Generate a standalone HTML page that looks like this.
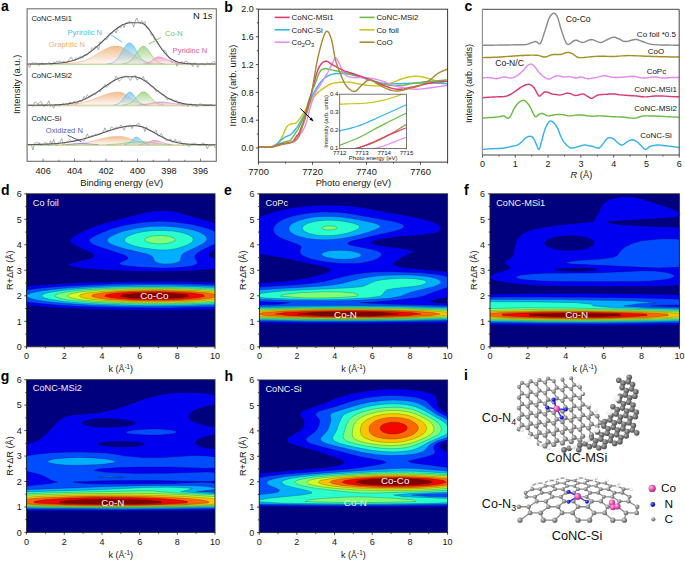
<!DOCTYPE html><html><head><meta charset="utf-8"><style>html,body{margin:0;padding:0;background:#fff;overflow:hidden}svg{display:block}</style></head><body>
<svg width="685" height="561" viewBox="0 0 685 561" font-family='"Liberation Sans", sans-serif'>
<rect width="685" height="561" fill="#fff"/>
<defs>
<linearGradient id="gor" x1="0" y1="0" x2="0" y2="1"><stop offset="0" stop-color="#f2b98a" stop-opacity="0.95"/><stop offset="1" stop-color="#f2b98a" stop-opacity="0.08"/></linearGradient>
<linearGradient id="gbl" x1="0" y1="0" x2="0" y2="1"><stop offset="0" stop-color="#7fcdf0" stop-opacity="0.95"/><stop offset="1" stop-color="#7fcdf0" stop-opacity="0.08"/></linearGradient>
<linearGradient id="ggr" x1="0" y1="0" x2="0" y2="1"><stop offset="0" stop-color="#a9d58c" stop-opacity="0.95"/><stop offset="1" stop-color="#a9d58c" stop-opacity="0.08"/></linearGradient>
<linearGradient id="gpk" x1="0" y1="0" x2="0" y2="1"><stop offset="0" stop-color="#eea0c8" stop-opacity="0.95"/><stop offset="1" stop-color="#eea0c8" stop-opacity="0.08"/></linearGradient>
<linearGradient id="gpu" x1="0" y1="0" x2="0" y2="1"><stop offset="0" stop-color="#a0a0e0" stop-opacity="0.95"/><stop offset="1" stop-color="#a0a0e0" stop-opacity="0.08"/></linearGradient>
</defs>
<line x1="27.7" y1="64.6" x2="215.7" y2="64.6" stroke="#a9d58c" stroke-width="0.9"/>
<line x1="27.7" y1="63.8" x2="215.7" y2="63.8" stroke="#f3c6a0" stroke-width="0.7"/>
<path d="M62.2 64 L62.2 63.85 L62.7 63.83 L63.2 63.82 L63.7 63.8 L64.2 63.78 L64.7 63.76 L65.2 63.74 L65.7 63.72 L66.2 63.7 L66.7 63.67 L67.2 63.64 L67.7 63.62 L68.2 63.58 L68.7 63.55 L69.2 63.51 L69.7 63.48 L70.2 63.43 L70.7 63.39 L71.2 63.34 L71.7 63.29 L72.2 63.24 L72.7 63.19 L73.2 63.13 L73.7 63.06 L74.2 63 L74.7 62.92 L75.2 62.85 L75.7 62.77 L76.2 62.69 L76.7 62.6 L77.2 62.51 L77.7 62.41 L78.2 62.31 L78.7 62.2 L79.2 62.09 L79.7 61.97 L80.2 61.84 L80.7 61.71 L81.2 61.58 L81.7 61.44 L82.2 61.29 L82.7 61.14 L83.2 60.98 L83.7 60.81 L84.2 60.64 L84.7 60.46 L85.2 60.27 L85.7 60.08 L86.2 59.88 L86.7 59.68 L87.2 59.47 L87.7 59.25 L88.2 59.02 L88.7 58.79 L89.2 58.56 L89.7 58.31 L90.2 58.06 L90.7 57.81 L91.2 57.55 L91.7 57.28 L92.2 57.01 L92.7 56.73 L93.2 56.45 L93.7 56.17 L94.2 55.88 L94.7 55.58 L95.2 55.29 L95.7 54.99 L96.2 54.68 L96.7 54.38 L97.2 54.07 L97.7 53.76 L98.2 53.45 L98.7 53.14 L99.2 52.83 L99.7 52.52 L100.2 52.21 L100.7 51.91 L101.2 51.6 L101.7 51.3 L102.2 51 L102.7 50.71 L103.2 50.42 L103.7 50.13 L104.2 49.85 L104.7 49.58 L105.2 49.31 L105.7 49.05 L106.2 48.8 L106.7 48.55 L107.2 48.32 L107.7 48.09 L108.2 47.88 L108.7 47.67 L109.2 47.48 L109.7 47.29 L110.2 47.12 L110.7 46.96 L111.2 46.82 L111.7 46.68 L112.2 46.56 L112.7 46.45 L113.2 46.36 L113.7 46.28 L114.2 46.22 L114.7 46.17 L115.2 46.13 L115.7 46.11 L116.2 46.1 L116.7 46.11 L117.2 46.14 L117.7 46.19 L118.2 46.26 L118.7 46.35 L119.2 46.45 L119.7 46.58 L120.2 46.73 L120.7 46.89 L121.2 47.07 L121.7 47.26 L122.2 47.48 L122.7 47.7 L123.2 47.95 L123.7 48.2 L124.2 48.47 L124.7 48.76 L125.2 49.05 L125.7 49.35 L126.2 49.67 L126.7 49.99 L127.2 50.32 L127.7 50.66 L128.2 51 L128.7 51.35 L129.2 51.7 L129.7 52.06 L130.2 52.42 L130.7 52.78 L131.2 53.14 L131.7 53.5 L132.2 53.87 L132.7 54.23 L133.2 54.58 L133.7 54.94 L134.2 55.29 L134.7 55.63 L135.2 55.97 L135.7 56.31 L136.2 56.64 L136.7 56.96 L137.2 57.28 L137.7 57.59 L138.2 57.89 L138.7 58.19 L139.2 58.48 L139.7 58.75 L140.2 59.02 L140.7 59.28 L141.2 59.54 L141.7 59.78 L142.2 60.01 L142.7 60.24 L143.2 60.46 L143.7 60.67 L144.2 60.87 L144.7 61.06 L145.2 61.24 L145.7 61.41 L146.2 61.58 L146.7 61.73 L147.2 61.88 L147.7 62.03 L148.2 62.16 L148.7 62.29 L149.2 62.41 L149.7 62.52 L150.2 62.63 L150.7 62.73 L151.2 62.82 L151.7 62.91 L152.2 63 L152.7 63.07 L153.2 63.15 L153.7 63.21 L154.2 63.28 L154.7 63.34 L155.2 63.39 L155.7 63.44 L156.2 63.49 L156.7 63.53 L157.2 63.57 L157.7 63.61 L158.2 63.64 L158.7 63.68 L159.2 63.71 L159.7 63.73 L160.2 63.76 L160.7 63.78 L161.2 63.8 L161.7 63.82 L162.2 63.84 L162.2 64Z" fill="url(#gor)" stroke="none" stroke-width="1"/>
<path d="M62.2 63.85 L62.7 63.83 L63.2 63.82 L63.7 63.8 L64.2 63.78 L64.7 63.76 L65.2 63.74 L65.7 63.72 L66.2 63.7 L66.7 63.67 L67.2 63.64 L67.7 63.62 L68.2 63.58 L68.7 63.55 L69.2 63.51 L69.7 63.48 L70.2 63.43 L70.7 63.39 L71.2 63.34 L71.7 63.29 L72.2 63.24 L72.7 63.19 L73.2 63.13 L73.7 63.06 L74.2 63 L74.7 62.92 L75.2 62.85 L75.7 62.77 L76.2 62.69 L76.7 62.6 L77.2 62.51 L77.7 62.41 L78.2 62.31 L78.7 62.2 L79.2 62.09 L79.7 61.97 L80.2 61.84 L80.7 61.71 L81.2 61.58 L81.7 61.44 L82.2 61.29 L82.7 61.14 L83.2 60.98 L83.7 60.81 L84.2 60.64 L84.7 60.46 L85.2 60.27 L85.7 60.08 L86.2 59.88 L86.7 59.68 L87.2 59.47 L87.7 59.25 L88.2 59.02 L88.7 58.79 L89.2 58.56 L89.7 58.31 L90.2 58.06 L90.7 57.81 L91.2 57.55 L91.7 57.28 L92.2 57.01 L92.7 56.73 L93.2 56.45 L93.7 56.17 L94.2 55.88 L94.7 55.58 L95.2 55.29 L95.7 54.99 L96.2 54.68 L96.7 54.38 L97.2 54.07 L97.7 53.76 L98.2 53.45 L98.7 53.14 L99.2 52.83 L99.7 52.52 L100.2 52.21 L100.7 51.91 L101.2 51.6 L101.7 51.3 L102.2 51 L102.7 50.71 L103.2 50.42 L103.7 50.13 L104.2 49.85 L104.7 49.58 L105.2 49.31 L105.7 49.05 L106.2 48.8 L106.7 48.55 L107.2 48.32 L107.7 48.09 L108.2 47.88 L108.7 47.67 L109.2 47.48 L109.7 47.29 L110.2 47.12 L110.7 46.96 L111.2 46.82 L111.7 46.68 L112.2 46.56 L112.7 46.45 L113.2 46.36 L113.7 46.28 L114.2 46.22 L114.7 46.17 L115.2 46.13 L115.7 46.11 L116.2 46.1 L116.7 46.11 L117.2 46.14 L117.7 46.19 L118.2 46.26 L118.7 46.35 L119.2 46.45 L119.7 46.58 L120.2 46.73 L120.7 46.89 L121.2 47.07 L121.7 47.26 L122.2 47.48 L122.7 47.7 L123.2 47.95 L123.7 48.2 L124.2 48.47 L124.7 48.76 L125.2 49.05 L125.7 49.35 L126.2 49.67 L126.7 49.99 L127.2 50.32 L127.7 50.66 L128.2 51 L128.7 51.35 L129.2 51.7 L129.7 52.06 L130.2 52.42 L130.7 52.78 L131.2 53.14 L131.7 53.5 L132.2 53.87 L132.7 54.23 L133.2 54.58 L133.7 54.94 L134.2 55.29 L134.7 55.63 L135.2 55.97 L135.7 56.31 L136.2 56.64 L136.7 56.96 L137.2 57.28 L137.7 57.59 L138.2 57.89 L138.7 58.19 L139.2 58.48 L139.7 58.75 L140.2 59.02 L140.7 59.28 L141.2 59.54 L141.7 59.78 L142.2 60.01 L142.7 60.24 L143.2 60.46 L143.7 60.67 L144.2 60.87 L144.7 61.06 L145.2 61.24 L145.7 61.41 L146.2 61.58 L146.7 61.73 L147.2 61.88 L147.7 62.03 L148.2 62.16 L148.7 62.29 L149.2 62.41 L149.7 62.52 L150.2 62.63 L150.7 62.73 L151.2 62.82 L151.7 62.91 L152.2 63 L152.7 63.07 L153.2 63.15 L153.7 63.21 L154.2 63.28 L154.7 63.34 L155.2 63.39 L155.7 63.44 L156.2 63.49 L156.7 63.53 L157.2 63.57 L157.7 63.61 L158.2 63.64 L158.7 63.68 L159.2 63.71 L159.7 63.73 L160.2 63.76 L160.7 63.78 L161.2 63.8 L161.7 63.82 L162.2 63.84" fill="none" stroke="#f0b080" stroke-width="0.7"/>
<path d="M107.2 64 L107.2 63.83 L107.7 63.79 L108.2 63.74 L108.7 63.68 L109.2 63.61 L109.7 63.52 L110.2 63.42 L110.7 63.31 L111.2 63.17 L111.7 63.01 L112.2 62.83 L112.7 62.62 L113.2 62.38 L113.7 62.11 L114.2 61.8 L114.7 61.46 L115.2 61.08 L115.7 60.65 L116.2 60.19 L116.7 59.68 L117.2 59.12 L117.7 58.52 L118.2 57.87 L118.7 57.18 L119.2 56.45 L119.7 55.68 L120.2 54.88 L120.7 54.05 L121.2 53.19 L121.7 52.32 L122.2 51.44 L122.7 50.56 L123.2 49.68 L123.7 48.82 L124.2 47.98 L124.7 47.18 L125.2 46.43 L125.7 45.73 L126.2 45.09 L126.7 44.53 L127.2 44.04 L127.7 43.65 L128.2 43.34 L128.7 43.13 L129.2 43.02 L129.7 43.01 L130.2 43.1 L130.7 43.29 L131.2 43.58 L131.7 43.96 L132.2 44.43 L132.7 44.97 L133.2 45.6 L133.7 46.29 L134.2 47.03 L134.7 47.82 L135.2 48.65 L135.7 49.51 L136.2 50.38 L136.7 51.26 L137.2 52.15 L137.7 53.02 L138.2 53.88 L138.7 54.72 L139.2 55.53 L139.7 56.3 L140.2 57.04 L140.7 57.74 L141.2 58.39 L141.7 59 L142.2 59.57 L142.7 60.09 L143.2 60.56 L143.7 61 L144.2 61.39 L144.7 61.74 L145.2 62.05 L145.7 62.33 L146.2 62.57 L146.7 62.79 L147.2 62.98 L147.7 63.14 L148.2 63.28 L148.7 63.4 L149.2 63.5 L149.7 63.59 L150.2 63.66 L150.7 63.72 L151.2 63.78 L151.7 63.82 L151.7 64Z" fill="url(#gbl)" stroke="none" stroke-width="1"/>
<path d="M107.2 63.83 L107.7 63.79 L108.2 63.74 L108.7 63.68 L109.2 63.61 L109.7 63.52 L110.2 63.42 L110.7 63.31 L111.2 63.17 L111.7 63.01 L112.2 62.83 L112.7 62.62 L113.2 62.38 L113.7 62.11 L114.2 61.8 L114.7 61.46 L115.2 61.08 L115.7 60.65 L116.2 60.19 L116.7 59.68 L117.2 59.12 L117.7 58.52 L118.2 57.87 L118.7 57.18 L119.2 56.45 L119.7 55.68 L120.2 54.88 L120.7 54.05 L121.2 53.19 L121.7 52.32 L122.2 51.44 L122.7 50.56 L123.2 49.68 L123.7 48.82 L124.2 47.98 L124.7 47.18 L125.2 46.43 L125.7 45.73 L126.2 45.09 L126.7 44.53 L127.2 44.04 L127.7 43.65 L128.2 43.34 L128.7 43.13 L129.2 43.02 L129.7 43.01 L130.2 43.1 L130.7 43.29 L131.2 43.58 L131.7 43.96 L132.2 44.43 L132.7 44.97 L133.2 45.6 L133.7 46.29 L134.2 47.03 L134.7 47.82 L135.2 48.65 L135.7 49.51 L136.2 50.38 L136.7 51.26 L137.2 52.15 L137.7 53.02 L138.2 53.88 L138.7 54.72 L139.2 55.53 L139.7 56.3 L140.2 57.04 L140.7 57.74 L141.2 58.39 L141.7 59 L142.2 59.57 L142.7 60.09 L143.2 60.56 L143.7 61 L144.2 61.39 L144.7 61.74 L145.2 62.05 L145.7 62.33 L146.2 62.57 L146.7 62.79 L147.2 62.98 L147.7 63.14 L148.2 63.28 L148.7 63.4 L149.2 63.5 L149.7 63.59 L150.2 63.66 L150.7 63.72 L151.2 63.78 L151.7 63.82" fill="none" stroke="#55bfea" stroke-width="0.7"/>
<path d="M122.2 64 L122.2 63.82 L122.7 63.78 L123.2 63.72 L123.7 63.66 L124.2 63.59 L124.7 63.5 L125.2 63.4 L125.7 63.28 L126.2 63.14 L126.7 62.97 L127.2 62.78 L127.7 62.57 L128.2 62.32 L128.7 62.05 L129.2 61.74 L129.7 61.39 L130.2 61.01 L130.7 60.59 L131.2 60.12 L131.7 59.62 L132.2 59.08 L132.7 58.5 L133.2 57.88 L133.7 57.22 L134.2 56.54 L134.7 55.82 L135.2 55.09 L135.7 54.33 L136.2 53.57 L136.7 52.8 L137.2 52.04 L137.7 51.29 L138.2 50.57 L138.7 49.87 L139.2 49.22 L139.7 48.61 L140.2 48.06 L140.7 47.57 L141.2 47.15 L141.7 46.81 L142.2 46.56 L142.7 46.39 L143.2 46.31 L143.7 46.32 L144.2 46.42 L144.7 46.6 L145.2 46.88 L145.7 47.23 L146.2 47.66 L146.7 48.16 L147.2 48.72 L147.7 49.34 L148.2 50.01 L148.7 50.71 L149.2 51.44 L149.7 52.19 L150.2 52.96 L150.7 53.72 L151.2 54.49 L151.7 55.24 L152.2 55.97 L152.7 56.68 L153.2 57.36 L153.7 58 L154.2 58.62 L154.7 59.19 L155.2 59.73 L155.7 60.22 L156.2 60.67 L156.7 61.09 L157.2 61.46 L157.7 61.8 L158.2 62.11 L158.7 62.38 L159.2 62.61 L159.7 62.82 L160.2 63.01 L160.7 63.17 L161.2 63.3 L161.7 63.42 L162.2 63.52 L162.7 63.6 L163.2 63.68 L163.7 63.74 L164.2 63.79 L164.7 63.83 L164.7 64Z" fill="url(#ggr)" stroke="none" stroke-width="1"/>
<path d="M122.2 63.82 L122.7 63.78 L123.2 63.72 L123.7 63.66 L124.2 63.59 L124.7 63.5 L125.2 63.4 L125.7 63.28 L126.2 63.14 L126.7 62.97 L127.2 62.78 L127.7 62.57 L128.2 62.32 L128.7 62.05 L129.2 61.74 L129.7 61.39 L130.2 61.01 L130.7 60.59 L131.2 60.12 L131.7 59.62 L132.2 59.08 L132.7 58.5 L133.2 57.88 L133.7 57.22 L134.2 56.54 L134.7 55.82 L135.2 55.09 L135.7 54.33 L136.2 53.57 L136.7 52.8 L137.2 52.04 L137.7 51.29 L138.2 50.57 L138.7 49.87 L139.2 49.22 L139.7 48.61 L140.2 48.06 L140.7 47.57 L141.2 47.15 L141.7 46.81 L142.2 46.56 L142.7 46.39 L143.2 46.31 L143.7 46.32 L144.2 46.42 L144.7 46.6 L145.2 46.88 L145.7 47.23 L146.2 47.66 L146.7 48.16 L147.2 48.72 L147.7 49.34 L148.2 50.01 L148.7 50.71 L149.2 51.44 L149.7 52.19 L150.2 52.96 L150.7 53.72 L151.2 54.49 L151.7 55.24 L152.2 55.97 L152.7 56.68 L153.2 57.36 L153.7 58 L154.2 58.62 L154.7 59.19 L155.2 59.73 L155.7 60.22 L156.2 60.67 L156.7 61.09 L157.2 61.46 L157.7 61.8 L158.2 62.11 L158.7 62.38 L159.2 62.61 L159.7 62.82 L160.2 63.01 L160.7 63.17 L161.2 63.3 L161.7 63.42 L162.2 63.52 L162.7 63.6 L163.2 63.68 L163.7 63.74 L164.2 63.79 L164.7 63.83" fill="none" stroke="#8ac46a" stroke-width="0.7"/>
<path d="M143.2 64 L143.2 63.84 L143.7 63.79 L144.2 63.73 L144.7 63.67 L145.2 63.58 L145.7 63.49 L146.2 63.37 L146.7 63.23 L147.2 63.07 L147.7 62.89 L148.2 62.68 L148.7 62.45 L149.2 62.19 L149.7 61.91 L150.2 61.6 L150.7 61.27 L151.2 60.91 L151.7 60.54 L152.2 60.16 L152.7 59.77 L153.2 59.38 L153.7 59 L154.2 58.62 L154.7 58.27 L155.2 57.94 L155.7 57.65 L156.2 57.4 L156.7 57.19 L157.2 57.04 L157.7 56.94 L158.2 56.9 L158.7 56.91 L159.2 56.94 L159.7 56.99 L160.2 57.06 L160.7 57.15 L161.2 57.26 L161.7 57.39 L162.2 57.54 L162.7 57.7 L163.2 57.88 L163.7 58.07 L164.2 58.27 L164.7 58.49 L165.2 58.71 L165.7 58.94 L166.2 59.17 L166.7 59.41 L167.2 59.65 L167.7 59.88 L168.2 60.12 L168.7 60.36 L169.2 60.59 L169.7 60.82 L170.2 61.04 L170.7 61.25 L171.2 61.46 L171.7 61.66 L172.2 61.85 L172.7 62.03 L173.2 62.2 L173.7 62.36 L174.2 62.51 L174.7 62.65 L175.2 62.78 L175.7 62.9 L176.2 63.02 L176.7 63.12 L177.2 63.22 L177.7 63.3 L178.2 63.38 L178.7 63.46 L179.2 63.52 L179.7 63.58 L180.2 63.63 L180.7 63.68 L181.2 63.72 L181.7 63.76 L182.2 63.79 L182.7 63.82 L183.2 63.85 L183.2 64Z" fill="url(#gpk)" stroke="none" stroke-width="1"/>
<path d="M143.2 63.84 L143.7 63.79 L144.2 63.73 L144.7 63.67 L145.2 63.58 L145.7 63.49 L146.2 63.37 L146.7 63.23 L147.2 63.07 L147.7 62.89 L148.2 62.68 L148.7 62.45 L149.2 62.19 L149.7 61.91 L150.2 61.6 L150.7 61.27 L151.2 60.91 L151.7 60.54 L152.2 60.16 L152.7 59.77 L153.2 59.38 L153.7 59 L154.2 58.62 L154.7 58.27 L155.2 57.94 L155.7 57.65 L156.2 57.4 L156.7 57.19 L157.2 57.04 L157.7 56.94 L158.2 56.9 L158.7 56.91 L159.2 56.94 L159.7 56.99 L160.2 57.06 L160.7 57.15 L161.2 57.26 L161.7 57.39 L162.2 57.54 L162.7 57.7 L163.2 57.88 L163.7 58.07 L164.2 58.27 L164.7 58.49 L165.2 58.71 L165.7 58.94 L166.2 59.17 L166.7 59.41 L167.2 59.65 L167.7 59.88 L168.2 60.12 L168.7 60.36 L169.2 60.59 L169.7 60.82 L170.2 61.04 L170.7 61.25 L171.2 61.46 L171.7 61.66 L172.2 61.85 L172.7 62.03 L173.2 62.2 L173.7 62.36 L174.2 62.51 L174.7 62.65 L175.2 62.78 L175.7 62.9 L176.2 63.02 L176.7 63.12 L177.2 63.22 L177.7 63.3 L178.2 63.38 L178.7 63.46 L179.2 63.52 L179.7 63.58 L180.2 63.63 L180.7 63.68 L181.2 63.72 L181.7 63.76 L182.2 63.79 L182.7 63.82 L183.2 63.85" fill="none" stroke="#e389bb" stroke-width="0.7"/>
<path d="M28.1 63.99 L29.7 67.54 L31.3 63.64 L32.9 62.9 L34.5 63.41 L36.1 62.76 L37.7 64.01 L39.3 65.53 L40.9 63.31 L42.5 63.13 L44.1 64.43 L45.7 64.24 L47.3 63.9 L48.9 62.6 L50.5 63.62 L52.1 64.42 L53.7 61.89 L55.3 62.86 L56.9 61.01 L58.5 61.61 L60.1 60.79 L61.7 62.54 L63.3 61.09 L64.9 62.7 L66.5 62.29 L68.1 61.57 L69.7 58.42 L71.3 57.2 L72.9 60.55 L74.5 60.25 L76.1 57.73 L77.7 58.39 L79.3 57.12 L80.9 56.59 L82.5 58.04 L84.1 54.93 L85.7 54.93 L87.3 55.03 L88.9 52.19 L90.5 51.62 L92.1 47.48 L93.7 49.35 L95.3 46.48 L96.9 46.66 L98.5 49.97 L100.1 41.81 L101.7 43.2 L103.3 40.79 L104.9 38.34 L106.5 39.97 L108.1 36.96 L109.7 33.11 L111.3 33.17 L112.9 32.36 L114.5 30.09 L116.1 33.06 L117.7 27.77 L119.3 27.57 L120.9 27.52 L122.5 24.13 L124.1 27.67 L125.7 23.09 L127.3 23.37 L128.9 21.51 L130.5 22.11 L132.1 22.56 L133.7 27.08 L135.3 20.97 L136.9 18.01 L138.5 21.85 L140.1 23.58 L141.7 20.66 L143.3 23.19 L144.9 21.54 L146.5 27.86 L148.1 29.01 L149.7 29.91 L151.3 35.39 L152.9 34.82 L154.5 39.53 L156.1 39.8 L157.7 42.54 L159.3 45.83 L160.9 47.65 L162.5 49.79 L164.1 50.75 L165.7 50.74 L167.3 55.08 L168.9 58.48 L170.5 59.13 L172.1 62.61 L173.7 61.16 L175.3 60.71 L176.9 66.21 L178.5 62.26 L180.1 63.37 L181.7 61.45 L183.3 63.66 L184.9 61.42 L186.5 61.15 L188.1 63.34 L189.7 62.71 L191.3 64.05 L192.9 66.59 L194.5 62.93 L196.1 63.2 L197.7 67.41 L199.3 64.57 L200.9 63.77 L202.5 63.74 L204.1 64.84 L205.7 64.62 L207.3 62.76 L208.9 63.9 L210.5 64.04 L212.1 62.73 L213.7 61.11 L215.3 62.97" fill="none" stroke="#a0a0a0" stroke-width="0.85"/>
<path d="M27.7 63.98 L28.2 63.98 L28.7 63.98 L29.2 63.98 L29.7 63.98 L30.2 63.98 L30.7 63.98 L31.2 63.97 L31.7 63.97 L32.2 63.97 L32.7 63.97 L33.2 63.97 L33.7 63.96 L34.2 63.96 L34.7 63.96 L35.2 63.95 L35.7 63.95 L36.2 63.95 L36.7 63.94 L37.2 63.94 L37.7 63.93 L38.2 63.93 L38.7 63.92 L39.2 63.92 L39.7 63.91 L40.2 63.91 L40.7 63.9 L41.2 63.89 L41.7 63.89 L42.2 63.88 L42.7 63.87 L43.2 63.86 L43.7 63.85 L44.2 63.84 L44.7 63.83 L45.2 63.82 L45.7 63.81 L46.2 63.8 L46.7 63.79 L47.2 63.77 L47.7 63.76 L48.2 63.74 L48.7 63.73 L49.2 63.71 L49.7 63.69 L50.2 63.67 L50.7 63.65 L51.2 63.63 L51.7 63.61 L52.2 63.58 L52.7 63.56 L53.2 63.53 L53.7 63.5 L54.2 63.47 L54.7 63.44 L55.2 63.41 L55.7 63.38 L56.2 63.34 L56.7 63.31 L57.2 63.27 L57.7 63.23 L58.2 63.18 L58.7 63.14 L59.2 63.09 L59.7 63.04 L60.2 62.99 L60.7 62.93 L61.2 62.88 L61.7 62.82 L62.2 62.76 L62.7 62.69 L63.2 62.63 L63.7 62.55 L64.2 62.48 L64.7 62.4 L65.2 62.32 L65.7 62.24 L66.2 62.15 L66.7 62.06 L67.2 61.97 L67.7 61.87 L68.2 61.77 L68.7 61.67 L69.2 61.56 L69.7 61.44 L70.2 61.32 L70.7 61.2 L71.2 61.07 L71.7 60.94 L72.2 60.81 L72.7 60.67 L73.2 60.52 L73.7 60.37 L74.2 60.21 L74.7 60.05 L75.2 59.88 L75.7 59.71 L76.2 59.53 L76.7 59.35 L77.2 59.16 L77.7 58.96 L78.2 58.76 L78.7 58.55 L79.2 58.34 L79.7 58.12 L80.2 57.89 L80.7 57.66 L81.2 57.42 L81.7 57.17 L82.2 56.92 L82.7 56.66 L83.2 56.4 L83.7 56.13 L84.2 55.85 L84.7 55.56 L85.2 55.27 L85.7 54.97 L86.2 54.66 L86.7 54.35 L87.2 54.03 L87.7 53.7 L88.2 53.37 L88.7 53.03 L89.2 52.69 L89.7 52.33 L90.2 51.97 L90.7 51.61 L91.2 51.23 L91.7 50.85 L92.2 50.47 L92.7 50.08 L93.2 49.68 L93.7 49.28 L94.2 48.87 L94.7 48.45 L95.2 48.03 L95.7 47.61 L96.2 47.18 L96.7 46.74 L97.2 46.3 L97.7 45.86 L98.2 45.41 L98.7 44.96 L99.2 44.5 L99.7 44.04 L100.2 43.57 L100.7 43.11 L101.2 42.64 L101.7 42.17 L102.2 41.69 L102.7 41.22 L103.2 40.74 L103.7 40.26 L104.2 39.78 L104.7 39.3 L105.2 38.82 L105.7 38.34 L106.2 37.86 L106.7 37.38 L107.2 36.9 L107.7 36.43 L108.2 35.95 L108.7 35.48 L109.2 35.01 L109.7 34.54 L110.2 34.08 L110.7 33.62 L111.2 33.17 L111.7 32.72 L112.2 32.28 L112.7 31.84 L113.2 31.41 L113.7 30.98 L114.2 30.56 L114.7 30.15 L115.2 29.75 L115.7 29.35 L116.2 28.96 L116.7 28.58 L117.2 28.21 L117.7 27.85 L118.2 27.5 L118.7 27.16 L119.2 26.83 L119.7 26.51 L120.2 26.21 L120.7 25.91 L121.2 25.63 L121.7 25.35 L122.2 25.09 L122.7 24.85 L123.2 24.61 L123.7 24.39 L124.2 24.19 L124.7 23.99 L125.2 23.81 L125.7 23.65 L126.2 23.5 L126.7 23.36 L127.2 23.24 L127.7 23.13 L128.2 23.04 L128.7 22.96 L129.2 22.9 L129.7 22.85 L130.2 22.82 L130.7 22.8 L131.2 22.8 L131.7 22.8 L132.2 22.8 L132.7 22.8 L133.2 22.8 L133.7 22.8 L134.2 22.8 L134.7 22.8 L135.2 22.8 L135.7 22.8 L136.2 22.8 L136.7 22.8 L137.2 22.8 L137.7 22.8 L138.2 22.8 L138.7 22.8 L139.2 22.8 L139.7 22.8 L140.2 22.8 L140.7 22.84 L141.2 22.93 L141.7 23.05 L142.2 23.22 L142.7 23.44 L143.2 23.69 L143.7 23.99 L144.2 24.32 L144.7 24.7 L145.2 25.11 L145.7 25.56 L146.2 26.05 L146.7 26.57 L147.2 27.12 L147.7 27.7 L148.2 28.31 L148.7 28.95 L149.2 29.61 L149.7 30.3 L150.2 31.01 L150.7 31.74 L151.2 32.48 L151.7 33.25 L152.2 34.02 L152.7 34.81 L153.2 35.6 L153.7 36.41 L154.2 37.22 L154.7 38.03 L155.2 38.85 L155.7 39.66 L156.2 40.48 L156.7 41.29 L157.2 42.1 L157.7 42.9 L158.2 43.69 L158.7 44.48 L159.2 45.25 L159.7 46.02 L160.2 46.77 L160.7 47.5 L161.2 48.22 L161.7 48.93 L162.2 49.62 L162.7 50.29 L163.2 50.95 L163.7 51.59 L164.2 52.21 L164.7 52.81 L165.2 53.39 L165.7 53.95 L166.2 54.49 L166.7 55.01 L167.2 55.52 L167.7 56 L168.2 56.46 L168.7 56.91 L169.2 57.33 L169.7 57.74 L170.2 58.13 L170.7 58.5 L171.2 58.85 L171.7 59.18 L172.2 59.5 L172.7 59.8 L173.2 60.09 L173.7 60.36 L174.2 60.61 L174.7 60.85 L175.2 61.08 L175.7 61.29 L176.2 61.49 L176.7 61.68 L177.2 61.86 L177.7 62.02 L178.2 62.17 L178.7 62.32 L179.2 62.45 L179.7 62.58 L180.2 62.69 L180.7 62.8 L181.2 62.9 L181.7 63 L182.2 63.08 L182.7 63.16 L183.2 63.23 L183.7 63.3 L184.2 63.37 L184.7 63.42 L185.2 63.48 L185.7 63.52 L186.2 63.57 L186.7 63.61 L187.2 63.65 L187.7 63.68 L188.2 63.71 L188.7 63.74 L189.2 63.77 L189.7 63.79 L190.2 63.81 L190.7 63.83 L191.2 63.85 L191.7 63.86 L192.2 63.88 L192.7 63.89 L193.2 63.9 L193.7 63.91 L194.2 63.92 L194.7 63.93 L195.2 63.94 L195.7 63.95 L196.2 63.95 L196.7 63.96 L197.2 63.96 L197.7 63.97 L198.2 63.97 L198.7 63.97 L199.2 63.98 L199.7 63.98 L200.2 63.98 L200.7 63.98 L201.2 63.99 L201.7 63.99 L202.2 63.99 L202.7 63.99 L203.2 63.99 L203.7 63.99 L204.2 63.99 L204.7 63.99 L205.2 64 L205.7 64 L206.2 64 L206.7 64 L207.2 64 L207.7 64 L208.2 64 L208.7 64 L209.2 64 L209.7 64 L210.2 64 L210.7 64 L211.2 64 L211.7 64 L212.2 64 L212.7 64 L213.2 64 L213.7 64 L214.2 64 L214.7 64 L215.2 64 L215.7 64" fill="none" stroke="#5a5a5a" stroke-width="1.1"/>
<line x1="27.7" y1="105.8" x2="215.7" y2="105.8" stroke="#a9d58c" stroke-width="0.9"/>
<line x1="27.7" y1="105" x2="215.7" y2="105" stroke="#f3c6a0" stroke-width="0.7"/>
<path d="M59.2 105.2 L59.2 105.04 L59.7 105.03 L60.2 105.01 L60.7 105 L61.2 104.99 L61.7 104.97 L62.2 104.95 L62.7 104.93 L63.2 104.92 L63.7 104.9 L64.2 104.87 L64.7 104.85 L65.2 104.83 L65.7 104.8 L66.2 104.77 L66.7 104.75 L67.2 104.72 L67.7 104.68 L68.2 104.65 L68.7 104.61 L69.2 104.58 L69.7 104.54 L70.2 104.5 L70.7 104.45 L71.2 104.41 L71.7 104.36 L72.2 104.31 L72.7 104.26 L73.2 104.2 L73.7 104.14 L74.2 104.08 L74.7 104.02 L75.2 103.95 L75.7 103.88 L76.2 103.81 L76.7 103.74 L77.2 103.66 L77.7 103.58 L78.2 103.49 L78.7 103.41 L79.2 103.31 L79.7 103.22 L80.2 103.12 L80.7 103.02 L81.2 102.92 L81.7 102.81 L82.2 102.7 L82.7 102.58 L83.2 102.46 L83.7 102.34 L84.2 102.21 L84.7 102.08 L85.2 101.95 L85.7 101.81 L86.2 101.67 L86.7 101.53 L87.2 101.38 L87.7 101.23 L88.2 101.07 L88.7 100.92 L89.2 100.75 L89.7 100.59 L90.2 100.42 L90.7 100.25 L91.2 100.08 L91.7 99.9 L92.2 99.72 L92.7 99.54 L93.2 99.36 L93.7 99.17 L94.2 98.99 L94.7 98.8 L95.2 98.6 L95.7 98.41 L96.2 98.22 L96.7 98.02 L97.2 97.83 L97.7 97.63 L98.2 97.43 L98.7 97.24 L99.2 97.04 L99.7 96.84 L100.2 96.65 L100.7 96.45 L101.2 96.26 L101.7 96.06 L102.2 95.87 L102.7 95.68 L103.2 95.5 L103.7 95.31 L104.2 95.13 L104.7 94.95 L105.2 94.78 L105.7 94.61 L106.2 94.44 L106.7 94.28 L107.2 94.12 L107.7 93.96 L108.2 93.81 L108.7 93.67 L109.2 93.53 L109.7 93.4 L110.2 93.27 L110.7 93.15 L111.2 93.04 L111.7 92.93 L112.2 92.83 L112.7 92.74 L113.2 92.65 L113.7 92.57 L114.2 92.5 L114.7 92.43 L115.2 92.38 L115.7 92.33 L116.2 92.29 L116.7 92.25 L117.2 92.23 L117.7 92.21 L118.2 92.2 L118.7 92.2 L119.2 92.23 L119.7 92.28 L120.2 92.35 L120.7 92.46 L121.2 92.59 L121.7 92.74 L122.2 92.91 L122.7 93.11 L123.2 93.33 L123.7 93.57 L124.2 93.83 L124.7 94.11 L125.2 94.4 L125.7 94.71 L126.2 95.02 L126.7 95.35 L127.2 95.69 L127.7 96.04 L128.2 96.39 L128.7 96.74 L129.2 97.1 L129.7 97.46 L130.2 97.82 L130.7 98.17 L131.2 98.52 L131.7 98.87 L132.2 99.21 L132.7 99.55 L133.2 99.88 L133.7 100.2 L134.2 100.51 L134.7 100.8 L135.2 101.09 L135.7 101.37 L136.2 101.64 L136.7 101.89 L137.2 102.14 L137.7 102.37 L138.2 102.58 L138.7 102.79 L139.2 102.99 L139.7 103.17 L140.2 103.34 L140.7 103.5 L141.2 103.65 L141.7 103.79 L142.2 103.92 L142.7 104.04 L143.2 104.16 L143.7 104.26 L144.2 104.35 L144.7 104.44 L145.2 104.52 L145.7 104.59 L146.2 104.65 L146.7 104.71 L147.2 104.77 L147.7 104.82 L148.2 104.86 L148.7 104.9 L149.2 104.94 L149.7 104.97 L150.2 105 L150.7 105.02 L151.2 105.04 L151.2 105.2Z" fill="url(#gor)" stroke="none" stroke-width="1"/>
<path d="M59.2 105.04 L59.7 105.03 L60.2 105.01 L60.7 105 L61.2 104.99 L61.7 104.97 L62.2 104.95 L62.7 104.93 L63.2 104.92 L63.7 104.9 L64.2 104.87 L64.7 104.85 L65.2 104.83 L65.7 104.8 L66.2 104.77 L66.7 104.75 L67.2 104.72 L67.7 104.68 L68.2 104.65 L68.7 104.61 L69.2 104.58 L69.7 104.54 L70.2 104.5 L70.7 104.45 L71.2 104.41 L71.7 104.36 L72.2 104.31 L72.7 104.26 L73.2 104.2 L73.7 104.14 L74.2 104.08 L74.7 104.02 L75.2 103.95 L75.7 103.88 L76.2 103.81 L76.7 103.74 L77.2 103.66 L77.7 103.58 L78.2 103.49 L78.7 103.41 L79.2 103.31 L79.7 103.22 L80.2 103.12 L80.7 103.02 L81.2 102.92 L81.7 102.81 L82.2 102.7 L82.7 102.58 L83.2 102.46 L83.7 102.34 L84.2 102.21 L84.7 102.08 L85.2 101.95 L85.7 101.81 L86.2 101.67 L86.7 101.53 L87.2 101.38 L87.7 101.23 L88.2 101.07 L88.7 100.92 L89.2 100.75 L89.7 100.59 L90.2 100.42 L90.7 100.25 L91.2 100.08 L91.7 99.9 L92.2 99.72 L92.7 99.54 L93.2 99.36 L93.7 99.17 L94.2 98.99 L94.7 98.8 L95.2 98.6 L95.7 98.41 L96.2 98.22 L96.7 98.02 L97.2 97.83 L97.7 97.63 L98.2 97.43 L98.7 97.24 L99.2 97.04 L99.7 96.84 L100.2 96.65 L100.7 96.45 L101.2 96.26 L101.7 96.06 L102.2 95.87 L102.7 95.68 L103.2 95.5 L103.7 95.31 L104.2 95.13 L104.7 94.95 L105.2 94.78 L105.7 94.61 L106.2 94.44 L106.7 94.28 L107.2 94.12 L107.7 93.96 L108.2 93.81 L108.7 93.67 L109.2 93.53 L109.7 93.4 L110.2 93.27 L110.7 93.15 L111.2 93.04 L111.7 92.93 L112.2 92.83 L112.7 92.74 L113.2 92.65 L113.7 92.57 L114.2 92.5 L114.7 92.43 L115.2 92.38 L115.7 92.33 L116.2 92.29 L116.7 92.25 L117.2 92.23 L117.7 92.21 L118.2 92.2 L118.7 92.2 L119.2 92.23 L119.7 92.28 L120.2 92.35 L120.7 92.46 L121.2 92.59 L121.7 92.74 L122.2 92.91 L122.7 93.11 L123.2 93.33 L123.7 93.57 L124.2 93.83 L124.7 94.11 L125.2 94.4 L125.7 94.71 L126.2 95.02 L126.7 95.35 L127.2 95.69 L127.7 96.04 L128.2 96.39 L128.7 96.74 L129.2 97.1 L129.7 97.46 L130.2 97.82 L130.7 98.17 L131.2 98.52 L131.7 98.87 L132.2 99.21 L132.7 99.55 L133.2 99.88 L133.7 100.2 L134.2 100.51 L134.7 100.8 L135.2 101.09 L135.7 101.37 L136.2 101.64 L136.7 101.89 L137.2 102.14 L137.7 102.37 L138.2 102.58 L138.7 102.79 L139.2 102.99 L139.7 103.17 L140.2 103.34 L140.7 103.5 L141.2 103.65 L141.7 103.79 L142.2 103.92 L142.7 104.04 L143.2 104.16 L143.7 104.26 L144.2 104.35 L144.7 104.44 L145.2 104.52 L145.7 104.59 L146.2 104.65 L146.7 104.71 L147.2 104.77 L147.7 104.82 L148.2 104.86 L148.7 104.9 L149.2 104.94 L149.7 104.97 L150.2 105 L150.7 105.02 L151.2 105.04" fill="none" stroke="#f0b080" stroke-width="0.7"/>
<path d="M113.7 105.2 L113.7 105.02 L114.2 104.97 L114.7 104.9 L115.2 104.82 L115.7 104.71 L116.2 104.59 L116.7 104.44 L117.2 104.26 L117.7 104.04 L118.2 103.79 L118.7 103.5 L119.2 103.17 L119.7 102.79 L120.2 102.37 L120.7 101.89 L121.2 101.37 L121.7 100.8 L122.2 100.2 L122.7 99.55 L123.2 98.87 L123.7 98.17 L124.2 97.46 L124.7 96.74 L125.2 96.04 L125.7 95.35 L126.2 94.71 L126.7 94.11 L127.2 93.57 L127.7 93.11 L128.2 92.74 L128.7 92.46 L129.2 92.28 L129.7 92.2 L130.2 92.23 L130.7 92.37 L131.2 92.61 L131.7 92.95 L132.2 93.38 L132.7 93.89 L133.2 94.46 L133.7 95.09 L134.2 95.76 L134.7 96.46 L135.2 97.17 L135.7 97.89 L136.2 98.59 L136.7 99.28 L137.2 99.94 L137.7 100.57 L138.2 101.15 L138.7 101.69 L139.2 102.18 L139.7 102.63 L140.2 103.02 L140.7 103.38 L141.2 103.68 L141.7 103.95 L142.2 104.18 L142.7 104.37 L143.2 104.53 L143.7 104.67 L144.2 104.78 L144.7 104.87 L145.2 104.94 L145.7 105 L146.2 105.05 L146.2 105.2Z" fill="url(#gbl)" stroke="none" stroke-width="1"/>
<path d="M113.7 105.02 L114.2 104.97 L114.7 104.9 L115.2 104.82 L115.7 104.71 L116.2 104.59 L116.7 104.44 L117.2 104.26 L117.7 104.04 L118.2 103.79 L118.7 103.5 L119.2 103.17 L119.7 102.79 L120.2 102.37 L120.7 101.89 L121.2 101.37 L121.7 100.8 L122.2 100.2 L122.7 99.55 L123.2 98.87 L123.7 98.17 L124.2 97.46 L124.7 96.74 L125.2 96.04 L125.7 95.35 L126.2 94.71 L126.7 94.11 L127.2 93.57 L127.7 93.11 L128.2 92.74 L128.7 92.46 L129.2 92.28 L129.7 92.2 L130.2 92.23 L130.7 92.37 L131.2 92.61 L131.7 92.95 L132.2 93.38 L132.7 93.89 L133.2 94.46 L133.7 95.09 L134.2 95.76 L134.7 96.46 L135.2 97.17 L135.7 97.89 L136.2 98.59 L136.7 99.28 L137.2 99.94 L137.7 100.57 L138.2 101.15 L138.7 101.69 L139.2 102.18 L139.7 102.63 L140.2 103.02 L140.7 103.38 L141.2 103.68 L141.7 103.95 L142.2 104.18 L142.7 104.37 L143.2 104.53 L143.7 104.67 L144.2 104.78 L144.7 104.87 L145.2 104.94 L145.7 105 L146.2 105.05" fill="none" stroke="#55bfea" stroke-width="0.7"/>
<path d="M122.7 105.2 L122.7 105.04 L123.2 105 L123.7 104.96 L124.2 104.9 L124.7 104.84 L125.2 104.76 L125.7 104.68 L126.2 104.57 L126.7 104.45 L127.2 104.32 L127.7 104.16 L128.2 103.98 L128.7 103.78 L129.2 103.55 L129.7 103.29 L130.2 103.01 L130.7 102.7 L131.2 102.36 L131.7 101.99 L132.2 101.59 L132.7 101.15 L133.2 100.69 L133.7 100.21 L134.2 99.7 L134.7 99.17 L135.2 98.61 L135.7 98.05 L136.2 97.48 L136.7 96.9 L137.2 96.33 L137.7 95.76 L138.2 95.21 L138.7 94.69 L139.2 94.19 L139.7 93.72 L140.2 93.3 L140.7 92.92 L141.2 92.6 L141.7 92.33 L142.2 92.13 L142.7 91.99 L143.2 91.91 L143.7 91.91 L144.2 91.97 L144.7 92.09 L145.2 92.29 L145.7 92.54 L146.2 92.85 L146.7 93.22 L147.2 93.63 L147.7 94.09 L148.2 94.58 L148.7 95.11 L149.2 95.65 L149.7 96.22 L150.2 96.79 L150.7 97.36 L151.2 97.94 L151.7 98.5 L152.2 99.06 L152.7 99.59 L153.2 100.11 L153.7 100.6 L154.2 101.06 L154.7 101.5 L155.2 101.91 L155.7 102.29 L156.2 102.64 L156.7 102.95 L157.2 103.24 L157.7 103.5 L158.2 103.73 L158.7 103.94 L159.2 104.12 L159.7 104.29 L160.2 104.43 L160.7 104.55 L161.2 104.66 L161.7 104.75 L162.2 104.82 L162.7 104.89 L163.2 104.95 L163.7 104.99 L164.2 105.03 L164.2 105.2Z" fill="url(#ggr)" stroke="none" stroke-width="1"/>
<path d="M122.7 105.04 L123.2 105 L123.7 104.96 L124.2 104.9 L124.7 104.84 L125.2 104.76 L125.7 104.68 L126.2 104.57 L126.7 104.45 L127.2 104.32 L127.7 104.16 L128.2 103.98 L128.7 103.78 L129.2 103.55 L129.7 103.29 L130.2 103.01 L130.7 102.7 L131.2 102.36 L131.7 101.99 L132.2 101.59 L132.7 101.15 L133.2 100.69 L133.7 100.21 L134.2 99.7 L134.7 99.17 L135.2 98.61 L135.7 98.05 L136.2 97.48 L136.7 96.9 L137.2 96.33 L137.7 95.76 L138.2 95.21 L138.7 94.69 L139.2 94.19 L139.7 93.72 L140.2 93.3 L140.7 92.92 L141.2 92.6 L141.7 92.33 L142.2 92.13 L142.7 91.99 L143.2 91.91 L143.7 91.91 L144.2 91.97 L144.7 92.09 L145.2 92.29 L145.7 92.54 L146.2 92.85 L146.7 93.22 L147.2 93.63 L147.7 94.09 L148.2 94.58 L148.7 95.11 L149.2 95.65 L149.7 96.22 L150.2 96.79 L150.7 97.36 L151.2 97.94 L151.7 98.5 L152.2 99.06 L152.7 99.59 L153.2 100.11 L153.7 100.6 L154.2 101.06 L154.7 101.5 L155.2 101.91 L155.7 102.29 L156.2 102.64 L156.7 102.95 L157.2 103.24 L157.7 103.5 L158.2 103.73 L158.7 103.94 L159.2 104.12 L159.7 104.29 L160.2 104.43 L160.7 104.55 L161.2 104.66 L161.7 104.75 L162.2 104.82 L162.7 104.89 L163.2 104.95 L163.7 104.99 L164.2 105.03" fill="none" stroke="#8ac46a" stroke-width="0.7"/>
<path d="M138.2 105.2 L138.2 105.03 L138.7 105.01 L139.2 104.98 L139.7 104.95 L140.2 104.92 L140.7 104.88 L141.2 104.84 L141.7 104.8 L142.2 104.75 L142.7 104.7 L143.2 104.64 L143.7 104.58 L144.2 104.51 L144.7 104.45 L145.2 104.37 L145.7 104.29 L146.2 104.21 L146.7 104.13 L147.2 104.04 L147.7 103.94 L148.2 103.85 L148.7 103.75 L149.2 103.64 L149.7 103.54 L150.2 103.43 L150.7 103.32 L151.2 103.22 L151.7 103.11 L152.2 103 L152.7 102.9 L153.2 102.79 L153.7 102.7 L154.2 102.6 L154.7 102.51 L155.2 102.42 L155.7 102.35 L156.2 102.27 L156.7 102.21 L157.2 102.15 L157.7 102.1 L158.2 102.06 L158.7 102.03 L159.2 102.01 L159.7 102 L160.2 102 L160.7 102.01 L161.2 102.02 L161.7 102.03 L162.2 102.05 L162.7 102.08 L163.2 102.11 L163.7 102.15 L164.2 102.19 L164.7 102.24 L165.2 102.29 L165.7 102.34 L166.2 102.4 L166.7 102.46 L167.2 102.53 L167.7 102.6 L168.2 102.67 L168.7 102.74 L169.2 102.81 L169.7 102.89 L170.2 102.97 L170.7 103.05 L171.2 103.13 L171.7 103.21 L172.2 103.29 L172.7 103.37 L173.2 103.45 L173.7 103.53 L174.2 103.61 L174.7 103.69 L175.2 103.77 L175.7 103.84 L176.2 103.91 L176.7 103.98 L177.2 104.05 L177.7 104.12 L178.2 104.19 L178.7 104.25 L179.2 104.31 L179.7 104.37 L180.2 104.42 L180.7 104.48 L181.2 104.53 L181.7 104.58 L182.2 104.62 L182.7 104.67 L183.2 104.71 L183.7 104.74 L184.2 104.78 L184.7 104.82 L185.2 104.85 L185.7 104.88 L186.2 104.9 L186.7 104.93 L187.2 104.95 L187.7 104.98 L188.2 105 L188.7 105.02 L189.2 105.03 L189.2 105.2Z" fill="url(#gpk)" stroke="none" stroke-width="1"/>
<path d="M138.2 105.03 L138.7 105.01 L139.2 104.98 L139.7 104.95 L140.2 104.92 L140.7 104.88 L141.2 104.84 L141.7 104.8 L142.2 104.75 L142.7 104.7 L143.2 104.64 L143.7 104.58 L144.2 104.51 L144.7 104.45 L145.2 104.37 L145.7 104.29 L146.2 104.21 L146.7 104.13 L147.2 104.04 L147.7 103.94 L148.2 103.85 L148.7 103.75 L149.2 103.64 L149.7 103.54 L150.2 103.43 L150.7 103.32 L151.2 103.22 L151.7 103.11 L152.2 103 L152.7 102.9 L153.2 102.79 L153.7 102.7 L154.2 102.6 L154.7 102.51 L155.2 102.42 L155.7 102.35 L156.2 102.27 L156.7 102.21 L157.2 102.15 L157.7 102.1 L158.2 102.06 L158.7 102.03 L159.2 102.01 L159.7 102 L160.2 102 L160.7 102.01 L161.2 102.02 L161.7 102.03 L162.2 102.05 L162.7 102.08 L163.2 102.11 L163.7 102.15 L164.2 102.19 L164.7 102.24 L165.2 102.29 L165.7 102.34 L166.2 102.4 L166.7 102.46 L167.2 102.53 L167.7 102.6 L168.2 102.67 L168.7 102.74 L169.2 102.81 L169.7 102.89 L170.2 102.97 L170.7 103.05 L171.2 103.13 L171.7 103.21 L172.2 103.29 L172.7 103.37 L173.2 103.45 L173.7 103.53 L174.2 103.61 L174.7 103.69 L175.2 103.77 L175.7 103.84 L176.2 103.91 L176.7 103.98 L177.2 104.05 L177.7 104.12 L178.2 104.19 L178.7 104.25 L179.2 104.31 L179.7 104.37 L180.2 104.42 L180.7 104.48 L181.2 104.53 L181.7 104.58 L182.2 104.62 L182.7 104.67 L183.2 104.71 L183.7 104.74 L184.2 104.78 L184.7 104.82 L185.2 104.85 L185.7 104.88 L186.2 104.9 L186.7 104.93 L187.2 104.95 L187.7 104.98 L188.2 105 L188.7 105.02 L189.2 105.03" fill="none" stroke="#e389bb" stroke-width="0.7"/>
<path d="M28.1 105.1 L29.7 105.29 L31.3 104.84 L32.9 106.57 L34.5 101.96 L36.1 102.54 L37.7 104.34 L39.3 102.8 L40.9 101.25 L42.5 104.51 L44.1 106.73 L45.7 105.16 L47.3 103.68 L48.9 100.73 L50.5 106.38 L52.1 105.17 L53.7 108.19 L55.3 104.81 L56.9 104.85 L58.5 105.68 L60.1 105.28 L61.7 104.76 L63.3 103.11 L64.9 104.81 L66.5 103.19 L68.1 105.11 L69.7 102.03 L71.3 103.11 L72.9 102.94 L74.5 101.01 L76.1 104.26 L77.7 103.5 L79.3 100.69 L80.9 101.62 L82.5 100.55 L84.1 96.3 L85.7 99.02 L87.3 94.67 L88.9 97.22 L90.5 94.94 L92.1 94.98 L93.7 94.1 L95.3 94.71 L96.9 92.62 L98.5 91.11 L100.1 91.83 L101.7 88.18 L103.3 87.23 L104.9 84.37 L106.5 87.29 L108.1 85.46 L109.7 84.32 L111.3 82.99 L112.9 81.35 L114.5 80.57 L116.1 75.99 L117.7 78.52 L119.3 81.39 L120.9 79.42 L122.5 77.86 L124.1 76.84 L125.7 76.05 L127.3 75.94 L128.9 78.62 L130.5 80.51 L132.1 76.78 L133.7 76.3 L135.3 75.54 L136.9 80.31 L138.5 78.71 L140.1 77.81 L141.7 78.77 L143.3 76.46 L144.9 81.06 L146.5 80.11 L148.1 82.91 L149.7 83.4 L151.3 86.77 L152.9 86.08 L154.5 89.02 L156.1 91.47 L157.7 90.55 L159.3 91.47 L160.9 93.64 L162.5 94.57 L164.1 94.49 L165.7 97.27 L167.3 100.11 L168.9 98.28 L170.5 99.17 L172.1 98.91 L173.7 101.23 L175.3 99.96 L176.9 100.67 L178.5 104.01 L180.1 101.81 L181.7 104.56 L183.3 105.41 L184.9 104.17 L186.5 104.75 L188.1 106.63 L189.7 104.22 L191.3 103.88 L192.9 106.29 L194.5 104.86 L196.1 106.66 L197.7 106.1 L199.3 103.87 L200.9 104.02 L202.5 104.48 L204.1 105.46 L205.7 104.88 L207.3 105.4 L208.9 105.51 L210.5 104.81 L212.1 105.13 L213.7 105.43 L215.3 105.09" fill="none" stroke="#a0a0a0" stroke-width="0.85"/>
<path d="M27.7 105.19 L28.2 105.19 L28.7 105.19 L29.2 105.19 L29.7 105.19 L30.2 105.19 L30.7 105.19 L31.2 105.19 L31.7 105.19 L32.2 105.19 L32.7 105.19 L33.2 105.19 L33.7 105.19 L34.2 105.18 L34.7 105.18 L35.2 105.18 L35.7 105.18 L36.2 105.18 L36.7 105.18 L37.2 105.17 L37.7 105.17 L38.2 105.17 L38.7 105.17 L39.2 105.16 L39.7 105.16 L40.2 105.16 L40.7 105.16 L41.2 105.15 L41.7 105.15 L42.2 105.14 L42.7 105.14 L43.2 105.14 L43.7 105.13 L44.2 105.13 L44.7 105.12 L45.2 105.11 L45.7 105.11 L46.2 105.1 L46.7 105.09 L47.2 105.09 L47.7 105.08 L48.2 105.07 L48.7 105.06 L49.2 105.05 L49.7 105.04 L50.2 105.03 L50.7 105.02 L51.2 105.01 L51.7 104.99 L52.2 104.98 L52.7 104.96 L53.2 104.95 L53.7 104.93 L54.2 104.91 L54.7 104.9 L55.2 104.88 L55.7 104.85 L56.2 104.83 L56.7 104.81 L57.2 104.78 L57.7 104.76 L58.2 104.73 L58.7 104.7 L59.2 104.67 L59.7 104.64 L60.2 104.61 L60.7 104.57 L61.2 104.54 L61.7 104.5 L62.2 104.46 L62.7 104.41 L63.2 104.37 L63.7 104.32 L64.2 104.27 L64.7 104.22 L65.2 104.16 L65.7 104.11 L66.2 104.05 L66.7 103.99 L67.2 103.92 L67.7 103.85 L68.2 103.78 L68.7 103.71 L69.2 103.63 L69.7 103.55 L70.2 103.47 L70.7 103.38 L71.2 103.29 L71.7 103.2 L72.2 103.1 L72.7 103 L73.2 102.89 L73.7 102.78 L74.2 102.67 L74.7 102.55 L75.2 102.42 L75.7 102.3 L76.2 102.17 L76.7 102.03 L77.2 101.89 L77.7 101.74 L78.2 101.59 L78.7 101.44 L79.2 101.28 L79.7 101.11 L80.2 100.94 L80.7 100.77 L81.2 100.59 L81.7 100.4 L82.2 100.21 L82.7 100.01 L83.2 99.81 L83.7 99.6 L84.2 99.39 L84.7 99.17 L85.2 98.95 L85.7 98.72 L86.2 98.48 L86.7 98.24 L87.2 97.99 L87.7 97.74 L88.2 97.49 L88.7 97.22 L89.2 96.96 L89.7 96.68 L90.2 96.4 L90.7 96.12 L91.2 95.83 L91.7 95.54 L92.2 95.24 L92.7 94.94 L93.2 94.63 L93.7 94.32 L94.2 94 L94.7 93.68 L95.2 93.35 L95.7 93.02 L96.2 92.69 L96.7 92.36 L97.2 92.02 L97.7 91.67 L98.2 91.33 L98.7 90.98 L99.2 90.63 L99.7 90.28 L100.2 89.92 L100.7 89.57 L101.2 89.21 L101.7 88.85 L102.2 88.49 L102.7 88.13 L103.2 87.77 L103.7 87.41 L104.2 87.05 L104.7 86.69 L105.2 86.33 L105.7 85.98 L106.2 85.62 L106.7 85.27 L107.2 84.92 L107.7 84.57 L108.2 84.23 L108.7 83.89 L109.2 83.55 L109.7 83.22 L110.2 82.89 L110.7 82.57 L111.2 82.25 L111.7 81.94 L112.2 81.63 L112.7 81.34 L113.2 81.04 L113.7 80.76 L114.2 80.48 L114.7 80.21 L115.2 79.94 L115.7 79.69 L116.2 79.44 L116.7 79.21 L117.2 78.98 L117.7 78.76 L118.2 78.55 L118.7 78.35 L119.2 78.17 L119.7 77.99 L120.2 77.82 L120.7 77.67 L121.2 77.52 L121.7 77.39 L122.2 77.26 L122.7 77.15 L123.2 77.06 L123.7 76.97 L124.2 76.89 L124.7 76.83 L125.2 76.78 L125.7 76.74 L126.2 76.72 L126.7 76.7 L127.2 76.7 L127.7 76.7 L128.2 76.7 L128.7 76.7 L129.2 76.7 L129.7 76.7 L130.2 76.7 L130.7 76.7 L131.2 76.7 L131.7 76.7 L132.2 76.7 L132.7 76.7 L133.2 76.7 L133.7 76.72 L134.2 76.75 L134.7 76.79 L135.2 76.86 L135.7 76.93 L136.2 77.03 L136.7 77.14 L137.2 77.26 L137.7 77.4 L138.2 77.56 L138.7 77.73 L139.2 77.92 L139.7 78.11 L140.2 78.33 L140.7 78.55 L141.2 78.79 L141.7 79.04 L142.2 79.31 L142.7 79.58 L143.2 79.87 L143.7 80.17 L144.2 80.48 L144.7 80.8 L145.2 81.13 L145.7 81.46 L146.2 81.81 L146.7 82.16 L147.2 82.52 L147.7 82.89 L148.2 83.27 L148.7 83.65 L149.2 84.03 L149.7 84.43 L150.2 84.82 L150.7 85.22 L151.2 85.62 L151.7 86.03 L152.2 86.44 L152.7 86.85 L153.2 87.26 L153.7 87.67 L154.2 88.08 L154.7 88.49 L155.2 88.9 L155.7 89.31 L156.2 89.72 L156.7 90.12 L157.2 90.53 L157.7 90.93 L158.2 91.33 L158.7 91.72 L159.2 92.11 L159.7 92.5 L160.2 92.88 L160.7 93.26 L161.2 93.63 L161.7 94 L162.2 94.36 L162.7 94.72 L163.2 95.07 L163.7 95.41 L164.2 95.75 L164.7 96.08 L165.2 96.4 L165.7 96.72 L166.2 97.03 L166.7 97.34 L167.2 97.63 L167.7 97.92 L168.2 98.21 L168.7 98.48 L169.2 98.75 L169.7 99.01 L170.2 99.26 L170.7 99.51 L171.2 99.75 L171.7 99.98 L172.2 100.21 L172.7 100.43 L173.2 100.64 L173.7 100.84 L174.2 101.04 L174.7 101.23 L175.2 101.42 L175.7 101.59 L176.2 101.77 L176.7 101.93 L177.2 102.09 L177.7 102.24 L178.2 102.39 L178.7 102.53 L179.2 102.67 L179.7 102.8 L180.2 102.92 L180.7 103.04 L181.2 103.15 L181.7 103.26 L182.2 103.37 L182.7 103.47 L183.2 103.56 L183.7 103.65 L184.2 103.74 L184.7 103.82 L185.2 103.9 L185.7 103.98 L186.2 104.05 L186.7 104.12 L187.2 104.18 L187.7 104.24 L188.2 104.3 L188.7 104.35 L189.2 104.41 L189.7 104.46 L190.2 104.5 L190.7 104.55 L191.2 104.59 L191.7 104.63 L192.2 104.66 L192.7 104.7 L193.2 104.73 L193.7 104.76 L194.2 104.79 L194.7 104.82 L195.2 104.85 L195.7 104.87 L196.2 104.89 L196.7 104.91 L197.2 104.93 L197.7 104.95 L198.2 104.97 L198.7 104.99 L199.2 105 L199.7 105.02 L200.2 105.03 L200.7 105.04 L201.2 105.05 L201.7 105.06 L202.2 105.07 L202.7 105.08 L203.2 105.09 L203.7 105.1 L204.2 105.11 L204.7 105.12 L205.2 105.12 L205.7 105.13 L206.2 105.13 L206.7 105.14 L207.2 105.14 L207.7 105.15 L208.2 105.15 L208.7 105.16 L209.2 105.16 L209.7 105.16 L210.2 105.17 L210.7 105.17 L211.2 105.17 L211.7 105.17 L212.2 105.18 L212.7 105.18 L213.2 105.18 L213.7 105.18 L214.2 105.18 L214.7 105.19 L215.2 105.19 L215.7 105.19" fill="none" stroke="#5a5a5a" stroke-width="1.1"/>
<line x1="27.7" y1="145.3" x2="215.7" y2="145.3" stroke="#a9d58c" stroke-width="0.9"/>
<line x1="27.7" y1="144.5" x2="215.7" y2="144.5" stroke="#f3c6a0" stroke-width="0.7"/>
<path d="M62.2 144.7 L62.2 144.54 L62.7 144.53 L63.2 144.52 L63.7 144.51 L64.2 144.49 L64.7 144.48 L65.2 144.46 L65.7 144.45 L66.2 144.43 L66.7 144.41 L67.2 144.39 L67.7 144.37 L68.2 144.35 L68.7 144.33 L69.2 144.3 L69.7 144.28 L70.2 144.25 L70.7 144.22 L71.2 144.19 L71.7 144.16 L72.2 144.13 L72.7 144.1 L73.2 144.06 L73.7 144.02 L74.2 143.99 L74.7 143.95 L75.2 143.9 L75.7 143.86 L76.2 143.81 L76.7 143.77 L77.2 143.72 L77.7 143.66 L78.2 143.61 L78.7 143.55 L79.2 143.5 L79.7 143.44 L80.2 143.37 L80.7 143.31 L81.2 143.24 L81.7 143.17 L82.2 143.1 L82.7 143.03 L83.2 142.95 L83.7 142.87 L84.2 142.79 L84.7 142.71 L85.2 142.62 L85.7 142.54 L86.2 142.45 L86.7 142.36 L87.2 142.26 L87.7 142.16 L88.2 142.07 L88.7 141.96 L89.2 141.86 L89.7 141.76 L90.2 141.65 L90.7 141.54 L91.2 141.43 L91.7 141.32 L92.2 141.2 L92.7 141.09 L93.2 140.97 L93.7 140.85 L94.2 140.73 L94.7 140.61 L95.2 140.49 L95.7 140.37 L96.2 140.24 L96.7 140.12 L97.2 139.99 L97.7 139.87 L98.2 139.74 L98.7 139.62 L99.2 139.49 L99.7 139.36 L100.2 139.24 L100.7 139.11 L101.2 138.99 L101.7 138.87 L102.2 138.75 L102.7 138.62 L103.2 138.51 L103.7 138.39 L104.2 138.27 L104.7 138.16 L105.2 138.05 L105.7 137.94 L106.2 137.83 L106.7 137.73 L107.2 137.62 L107.7 137.53 L108.2 137.43 L108.7 137.34 L109.2 137.25 L109.7 137.17 L110.2 137.08 L110.7 137.01 L111.2 136.93 L111.7 136.87 L112.2 136.8 L112.7 136.74 L113.2 136.69 L113.7 136.64 L114.2 136.59 L114.7 136.55 L115.2 136.51 L115.7 136.48 L116.2 136.45 L116.7 136.43 L117.2 136.42 L117.7 136.41 L118.2 136.4 L118.7 136.4 L119.2 136.41 L119.7 136.43 L120.2 136.46 L120.7 136.5 L121.2 136.55 L121.7 136.61 L122.2 136.68 L122.7 136.77 L123.2 136.85 L123.7 136.95 L124.2 137.06 L124.7 137.18 L125.2 137.3 L125.7 137.43 L126.2 137.57 L126.7 137.71 L127.2 137.86 L127.7 138.01 L128.2 138.17 L128.7 138.33 L129.2 138.5 L129.7 138.67 L130.2 138.85 L130.7 139.02 L131.2 139.2 L131.7 139.38 L132.2 139.56 L132.7 139.74 L133.2 139.92 L133.7 140.1 L134.2 140.27 L134.7 140.45 L135.2 140.63 L135.7 140.8 L136.2 140.97 L136.7 141.13 L137.2 141.3 L137.7 141.46 L138.2 141.62 L138.7 141.77 L139.2 141.92 L139.7 142.06 L140.2 142.2 L140.7 142.34 L141.2 142.47 L141.7 142.6 L142.2 142.72 L142.7 142.84 L143.2 142.95 L143.7 143.06 L144.2 143.16 L144.7 143.26 L145.2 143.35 L145.7 143.44 L146.2 143.53 L146.7 143.61 L147.2 143.68 L147.7 143.76 L148.2 143.83 L148.7 143.89 L149.2 143.95 L149.7 144.01 L150.2 144.06 L150.7 144.11 L151.2 144.16 L151.7 144.2 L152.2 144.24 L152.7 144.28 L153.2 144.32 L153.7 144.35 L154.2 144.38 L154.7 144.41 L155.2 144.43 L155.7 144.46 L156.2 144.48 L156.7 144.5 L157.2 144.52 L157.7 144.54 L157.7 144.7Z" fill="url(#gor)" stroke="none" stroke-width="1"/>
<path d="M62.2 144.54 L62.7 144.53 L63.2 144.52 L63.7 144.51 L64.2 144.49 L64.7 144.48 L65.2 144.46 L65.7 144.45 L66.2 144.43 L66.7 144.41 L67.2 144.39 L67.7 144.37 L68.2 144.35 L68.7 144.33 L69.2 144.3 L69.7 144.28 L70.2 144.25 L70.7 144.22 L71.2 144.19 L71.7 144.16 L72.2 144.13 L72.7 144.1 L73.2 144.06 L73.7 144.02 L74.2 143.99 L74.7 143.95 L75.2 143.9 L75.7 143.86 L76.2 143.81 L76.7 143.77 L77.2 143.72 L77.7 143.66 L78.2 143.61 L78.7 143.55 L79.2 143.5 L79.7 143.44 L80.2 143.37 L80.7 143.31 L81.2 143.24 L81.7 143.17 L82.2 143.1 L82.7 143.03 L83.2 142.95 L83.7 142.87 L84.2 142.79 L84.7 142.71 L85.2 142.62 L85.7 142.54 L86.2 142.45 L86.7 142.36 L87.2 142.26 L87.7 142.16 L88.2 142.07 L88.7 141.96 L89.2 141.86 L89.7 141.76 L90.2 141.65 L90.7 141.54 L91.2 141.43 L91.7 141.32 L92.2 141.2 L92.7 141.09 L93.2 140.97 L93.7 140.85 L94.2 140.73 L94.7 140.61 L95.2 140.49 L95.7 140.37 L96.2 140.24 L96.7 140.12 L97.2 139.99 L97.7 139.87 L98.2 139.74 L98.7 139.62 L99.2 139.49 L99.7 139.36 L100.2 139.24 L100.7 139.11 L101.2 138.99 L101.7 138.87 L102.2 138.75 L102.7 138.62 L103.2 138.51 L103.7 138.39 L104.2 138.27 L104.7 138.16 L105.2 138.05 L105.7 137.94 L106.2 137.83 L106.7 137.73 L107.2 137.62 L107.7 137.53 L108.2 137.43 L108.7 137.34 L109.2 137.25 L109.7 137.17 L110.2 137.08 L110.7 137.01 L111.2 136.93 L111.7 136.87 L112.2 136.8 L112.7 136.74 L113.2 136.69 L113.7 136.64 L114.2 136.59 L114.7 136.55 L115.2 136.51 L115.7 136.48 L116.2 136.45 L116.7 136.43 L117.2 136.42 L117.7 136.41 L118.2 136.4 L118.7 136.4 L119.2 136.41 L119.7 136.43 L120.2 136.46 L120.7 136.5 L121.2 136.55 L121.7 136.61 L122.2 136.68 L122.7 136.77 L123.2 136.85 L123.7 136.95 L124.2 137.06 L124.7 137.18 L125.2 137.3 L125.7 137.43 L126.2 137.57 L126.7 137.71 L127.2 137.86 L127.7 138.01 L128.2 138.17 L128.7 138.33 L129.2 138.5 L129.7 138.67 L130.2 138.85 L130.7 139.02 L131.2 139.2 L131.7 139.38 L132.2 139.56 L132.7 139.74 L133.2 139.92 L133.7 140.1 L134.2 140.27 L134.7 140.45 L135.2 140.63 L135.7 140.8 L136.2 140.97 L136.7 141.13 L137.2 141.3 L137.7 141.46 L138.2 141.62 L138.7 141.77 L139.2 141.92 L139.7 142.06 L140.2 142.2 L140.7 142.34 L141.2 142.47 L141.7 142.6 L142.2 142.72 L142.7 142.84 L143.2 142.95 L143.7 143.06 L144.2 143.16 L144.7 143.26 L145.2 143.35 L145.7 143.44 L146.2 143.53 L146.7 143.61 L147.2 143.68 L147.7 143.76 L148.2 143.83 L148.7 143.89 L149.2 143.95 L149.7 144.01 L150.2 144.06 L150.7 144.11 L151.2 144.16 L151.7 144.2 L152.2 144.24 L152.7 144.28 L153.2 144.32 L153.7 144.35 L154.2 144.38 L154.7 144.41 L155.2 144.43 L155.7 144.46 L156.2 144.48 L156.7 144.5 L157.2 144.52 L157.7 144.54" fill="none" stroke="#f0b080" stroke-width="0.7"/>
<path d="M106.7 144.7 L106.7 144.54 L107.2 144.53 L107.7 144.51 L108.2 144.49 L108.7 144.48 L109.2 144.46 L109.7 144.44 L110.2 144.42 L110.7 144.39 L111.2 144.37 L111.7 144.34 L112.2 144.31 L112.7 144.29 L113.2 144.25 L113.7 144.22 L114.2 144.19 L114.7 144.15 L115.2 144.11 L115.7 144.07 L116.2 144.03 L116.7 143.99 L117.2 143.95 L117.7 143.9 L118.2 143.85 L118.7 143.8 L119.2 143.75 L119.7 143.69 L120.2 143.64 L120.7 143.58 L121.2 143.52 L121.7 143.46 L122.2 143.4 L122.7 143.34 L123.2 143.27 L123.7 143.21 L124.2 143.14 L124.7 143.08 L125.2 143.01 L125.7 142.94 L126.2 142.87 L126.7 142.8 L127.2 142.73 L127.7 142.66 L128.2 142.59 L128.7 142.52 L129.2 142.46 L129.7 142.39 L130.2 142.32 L130.7 142.26 L131.2 142.2 L131.7 142.13 L132.2 142.07 L132.7 142.02 L133.2 141.96 L133.7 141.91 L134.2 141.86 L134.7 141.81 L135.2 141.76 L135.7 141.72 L136.2 141.68 L136.7 141.65 L137.2 141.62 L137.7 141.59 L138.2 141.56 L138.7 141.54 L139.2 141.53 L139.7 141.51 L140.2 141.51 L140.7 141.5 L141.2 141.5 L141.7 141.51 L142.2 141.52 L142.7 141.53 L143.2 141.55 L143.7 141.58 L144.2 141.61 L144.7 141.65 L145.2 141.69 L145.7 141.74 L146.2 141.79 L146.7 141.84 L147.2 141.9 L147.7 141.96 L148.2 142.03 L148.7 142.1 L149.2 142.17 L149.7 142.24 L150.2 142.31 L150.7 142.39 L151.2 142.47 L151.7 142.55 L152.2 142.63 L152.7 142.71 L153.2 142.79 L153.7 142.87 L154.2 142.95 L154.7 143.03 L155.2 143.11 L155.7 143.19 L156.2 143.27 L156.7 143.34 L157.2 143.41 L157.7 143.48 L158.2 143.55 L158.7 143.62 L159.2 143.69 L159.7 143.75 L160.2 143.81 L160.7 143.87 L161.2 143.92 L161.7 143.98 L162.2 144.03 L162.7 144.08 L163.2 144.12 L163.7 144.17 L164.2 144.21 L164.7 144.24 L165.2 144.28 L165.7 144.32 L166.2 144.35 L166.7 144.38 L167.2 144.4 L167.7 144.43 L168.2 144.45 L168.7 144.48 L169.2 144.5 L169.7 144.52 L170.2 144.53 L170.2 144.7Z" fill="url(#ggr)" stroke="none" stroke-width="1"/>
<path d="M106.7 144.54 L107.2 144.53 L107.7 144.51 L108.2 144.49 L108.7 144.48 L109.2 144.46 L109.7 144.44 L110.2 144.42 L110.7 144.39 L111.2 144.37 L111.7 144.34 L112.2 144.31 L112.7 144.29 L113.2 144.25 L113.7 144.22 L114.2 144.19 L114.7 144.15 L115.2 144.11 L115.7 144.07 L116.2 144.03 L116.7 143.99 L117.2 143.95 L117.7 143.9 L118.2 143.85 L118.7 143.8 L119.2 143.75 L119.7 143.69 L120.2 143.64 L120.7 143.58 L121.2 143.52 L121.7 143.46 L122.2 143.4 L122.7 143.34 L123.2 143.27 L123.7 143.21 L124.2 143.14 L124.7 143.08 L125.2 143.01 L125.7 142.94 L126.2 142.87 L126.7 142.8 L127.2 142.73 L127.7 142.66 L128.2 142.59 L128.7 142.52 L129.2 142.46 L129.7 142.39 L130.2 142.32 L130.7 142.26 L131.2 142.2 L131.7 142.13 L132.2 142.07 L132.7 142.02 L133.2 141.96 L133.7 141.91 L134.2 141.86 L134.7 141.81 L135.2 141.76 L135.7 141.72 L136.2 141.68 L136.7 141.65 L137.2 141.62 L137.7 141.59 L138.2 141.56 L138.7 141.54 L139.2 141.53 L139.7 141.51 L140.2 141.51 L140.7 141.5 L141.2 141.5 L141.7 141.51 L142.2 141.52 L142.7 141.53 L143.2 141.55 L143.7 141.58 L144.2 141.61 L144.7 141.65 L145.2 141.69 L145.7 141.74 L146.2 141.79 L146.7 141.84 L147.2 141.9 L147.7 141.96 L148.2 142.03 L148.7 142.1 L149.2 142.17 L149.7 142.24 L150.2 142.31 L150.7 142.39 L151.2 142.47 L151.7 142.55 L152.2 142.63 L152.7 142.71 L153.2 142.79 L153.7 142.87 L154.2 142.95 L154.7 143.03 L155.2 143.11 L155.7 143.19 L156.2 143.27 L156.7 143.34 L157.2 143.41 L157.7 143.48 L158.2 143.55 L158.7 143.62 L159.2 143.69 L159.7 143.75 L160.2 143.81 L160.7 143.87 L161.2 143.92 L161.7 143.98 L162.2 144.03 L162.7 144.08 L163.2 144.12 L163.7 144.17 L164.2 144.21 L164.7 144.24 L165.2 144.28 L165.7 144.32 L166.2 144.35 L166.7 144.38 L167.2 144.4 L167.7 144.43 L168.2 144.45 L168.7 144.48 L169.2 144.5 L169.7 144.52 L170.2 144.53" fill="none" stroke="#8ac46a" stroke-width="0.7"/>
<path d="M124.2 144.7 L124.2 144.53 L124.7 144.47 L125.2 144.4 L125.7 144.3 L126.2 144.18 L126.7 144.03 L127.2 143.85 L127.7 143.64 L128.2 143.39 L128.7 143.09 L129.2 142.76 L129.7 142.39 L130.2 141.97 L130.7 141.52 L131.2 141.05 L131.7 140.55 L132.2 140.05 L132.7 139.55 L133.2 139.06 L133.7 138.61 L134.2 138.19 L134.7 137.84 L135.2 137.55 L135.7 137.35 L136.2 137.23 L136.7 137.2 L137.2 137.27 L137.7 137.42 L138.2 137.66 L138.7 137.97 L139.2 138.35 L139.7 138.78 L140.2 139.25 L140.7 139.75 L141.2 140.25 L141.7 140.75 L142.2 141.24 L142.7 141.71 L143.2 142.14 L143.7 142.54 L144.2 142.9 L144.7 143.22 L145.2 143.49 L145.7 143.73 L146.2 143.93 L146.7 144.1 L147.2 144.23 L147.7 144.34 L148.2 144.43 L148.7 144.5 L148.7 144.7Z" fill="url(#gbl)" stroke="none" stroke-width="1"/>
<path d="M124.2 144.53 L124.7 144.47 L125.2 144.4 L125.7 144.3 L126.2 144.18 L126.7 144.03 L127.2 143.85 L127.7 143.64 L128.2 143.39 L128.7 143.09 L129.2 142.76 L129.7 142.39 L130.2 141.97 L130.7 141.52 L131.2 141.05 L131.7 140.55 L132.2 140.05 L132.7 139.55 L133.2 139.06 L133.7 138.61 L134.2 138.19 L134.7 137.84 L135.2 137.55 L135.7 137.35 L136.2 137.23 L136.7 137.2 L137.2 137.27 L137.7 137.42 L138.2 137.66 L138.7 137.97 L139.2 138.35 L139.7 138.78 L140.2 139.25 L140.7 139.75 L141.2 140.25 L141.7 140.75 L142.2 141.24 L142.7 141.71 L143.2 142.14 L143.7 142.54 L144.2 142.9 L144.7 143.22 L145.2 143.49 L145.7 143.73 L146.2 143.93 L146.7 144.1 L147.2 144.23 L147.7 144.34 L148.2 144.43 L148.7 144.5" fill="none" stroke="#55bfea" stroke-width="0.7"/>
<path d="M139.2 144.7 L139.2 144.54 L139.7 144.51 L140.2 144.46 L140.7 144.41 L141.2 144.35 L141.7 144.28 L142.2 144.2 L142.7 144.11 L143.2 144.01 L143.7 143.89 L144.2 143.76 L144.7 143.62 L145.2 143.47 L145.7 143.3 L146.2 143.12 L146.7 142.93 L147.2 142.74 L147.7 142.53 L148.2 142.32 L148.7 142.11 L149.2 141.9 L149.7 141.69 L150.2 141.49 L150.7 141.3 L151.2 141.12 L151.7 140.96 L152.2 140.82 L152.7 140.71 L153.2 140.61 L153.7 140.55 L154.2 140.51 L154.7 140.5 L155.2 140.52 L155.7 140.55 L156.2 140.61 L156.7 140.68 L157.2 140.78 L157.7 140.89 L158.2 141.02 L158.7 141.16 L159.2 141.32 L159.7 141.48 L160.2 141.65 L160.7 141.83 L161.2 142.01 L161.7 142.19 L162.2 142.37 L162.7 142.55 L163.2 142.73 L163.7 142.9 L164.2 143.06 L164.7 143.22 L165.2 143.37 L165.7 143.51 L166.2 143.64 L166.7 143.76 L167.2 143.87 L167.7 143.97 L168.2 144.06 L168.7 144.15 L169.2 144.22 L169.7 144.29 L170.2 144.35 L170.7 144.4 L171.2 144.45 L171.7 144.49 L172.2 144.52 L172.2 144.7Z" fill="url(#gpk)" stroke="none" stroke-width="1"/>
<path d="M139.2 144.54 L139.7 144.51 L140.2 144.46 L140.7 144.41 L141.2 144.35 L141.7 144.28 L142.2 144.2 L142.7 144.11 L143.2 144.01 L143.7 143.89 L144.2 143.76 L144.7 143.62 L145.2 143.47 L145.7 143.3 L146.2 143.12 L146.7 142.93 L147.2 142.74 L147.7 142.53 L148.2 142.32 L148.7 142.11 L149.2 141.9 L149.7 141.69 L150.2 141.49 L150.7 141.3 L151.2 141.12 L151.7 140.96 L152.2 140.82 L152.7 140.71 L153.2 140.61 L153.7 140.55 L154.2 140.51 L154.7 140.5 L155.2 140.52 L155.7 140.55 L156.2 140.61 L156.7 140.68 L157.2 140.78 L157.7 140.89 L158.2 141.02 L158.7 141.16 L159.2 141.32 L159.7 141.48 L160.2 141.65 L160.7 141.83 L161.2 142.01 L161.7 142.19 L162.2 142.37 L162.7 142.55 L163.2 142.73 L163.7 142.9 L164.2 143.06 L164.7 143.22 L165.2 143.37 L165.7 143.51 L166.2 143.64 L166.7 143.76 L167.2 143.87 L167.7 143.97 L168.2 144.06 L168.7 144.15 L169.2 144.22 L169.7 144.29 L170.2 144.35 L170.7 144.4 L171.2 144.45 L171.7 144.49 L172.2 144.52" fill="none" stroke="#e389bb" stroke-width="0.7"/>
<path d="M65.7 144.7 L65.7 144.55 L66.2 144.53 L66.7 144.51 L67.2 144.48 L67.7 144.46 L68.2 144.43 L68.7 144.4 L69.2 144.37 L69.7 144.33 L70.2 144.3 L70.7 144.26 L71.2 144.22 L71.7 144.18 L72.2 144.13 L72.7 144.09 L73.2 144.04 L73.7 144 L74.2 143.95 L74.7 143.91 L75.2 143.86 L75.7 143.82 L76.2 143.78 L76.7 143.74 L77.2 143.7 L77.7 143.66 L78.2 143.63 L78.7 143.6 L79.2 143.57 L79.7 143.55 L80.2 143.53 L80.7 143.52 L81.2 143.51 L81.7 143.5 L82.2 143.5 L82.7 143.5 L83.2 143.51 L83.7 143.53 L84.2 143.54 L84.7 143.57 L85.2 143.59 L85.7 143.62 L86.2 143.65 L86.7 143.69 L87.2 143.73 L87.7 143.77 L88.2 143.81 L88.7 143.85 L89.2 143.9 L89.7 143.94 L90.2 143.99 L90.7 144.04 L91.2 144.08 L91.7 144.12 L92.2 144.17 L92.7 144.21 L93.2 144.25 L93.7 144.29 L94.2 144.32 L94.7 144.36 L95.2 144.39 L95.7 144.42 L96.2 144.45 L96.7 144.48 L97.2 144.5 L97.7 144.53 L98.2 144.55 L98.2 144.7Z" fill="url(#gpu)" stroke="none" stroke-width="1"/>
<path d="M65.7 144.55 L66.2 144.53 L66.7 144.51 L67.2 144.48 L67.7 144.46 L68.2 144.43 L68.7 144.4 L69.2 144.37 L69.7 144.33 L70.2 144.3 L70.7 144.26 L71.2 144.22 L71.7 144.18 L72.2 144.13 L72.7 144.09 L73.2 144.04 L73.7 144 L74.2 143.95 L74.7 143.91 L75.2 143.86 L75.7 143.82 L76.2 143.78 L76.7 143.74 L77.2 143.7 L77.7 143.66 L78.2 143.63 L78.7 143.6 L79.2 143.57 L79.7 143.55 L80.2 143.53 L80.7 143.52 L81.2 143.51 L81.7 143.5 L82.2 143.5 L82.7 143.5 L83.2 143.51 L83.7 143.53 L84.2 143.54 L84.7 143.57 L85.2 143.59 L85.7 143.62 L86.2 143.65 L86.7 143.69 L87.2 143.73 L87.7 143.77 L88.2 143.81 L88.7 143.85 L89.2 143.9 L89.7 143.94 L90.2 143.99 L90.7 144.04 L91.2 144.08 L91.7 144.12 L92.2 144.17 L92.7 144.21 L93.2 144.25 L93.7 144.29 L94.2 144.32 L94.7 144.36 L95.2 144.39 L95.7 144.42 L96.2 144.45 L96.7 144.48 L97.2 144.5 L97.7 144.53 L98.2 144.55" fill="none" stroke="#7a7ad0" stroke-width="0.7"/>
<path d="M28.1 144.55 L29.7 144.76 L31.3 144.61 L32.9 150.01 L34.5 143.25 L36.1 142.59 L37.7 143.21 L39.3 142.78 L40.9 145.24 L42.5 145.27 L44.1 143.08 L45.7 142.5 L47.3 143.67 L48.9 145.68 L50.5 140.54 L52.1 144.46 L53.7 139.23 L55.3 144.85 L56.9 145.38 L58.5 142.98 L60.1 141.36 L61.7 138.62 L63.3 144.47 L64.9 143.59 L66.5 141.91 L68.1 141.11 L69.7 139.63 L71.3 141.16 L72.9 141.31 L74.5 140.94 L76.1 140.6 L77.7 139.02 L79.3 139.92 L80.9 139.57 L82.5 140.76 L84.1 141.04 L85.7 138.19 L87.3 133.78 L88.9 137.35 L90.5 136.21 L92.1 135.55 L93.7 135.86 L95.3 134.15 L96.9 135.6 L98.5 134.2 L100.1 134.08 L101.7 133.02 L103.3 131.82 L104.9 127.81 L106.5 131.32 L108.1 130.42 L109.7 130.83 L111.3 126.84 L112.9 127.92 L114.5 129.17 L116.1 127.02 L117.7 127.47 L119.3 127.46 L120.9 124.96 L122.5 127.22 L124.1 130.19 L125.7 126.36 L127.3 125.81 L128.9 125.68 L130.5 124.81 L132.1 128.76 L133.7 125.16 L135.3 125.91 L136.9 124.42 L138.5 123.14 L140.1 126.53 L141.7 126.6 L143.3 126.76 L144.9 131.76 L146.5 126.59 L148.1 129.9 L149.7 130.46 L151.3 131.37 L152.9 132.38 L154.5 132.05 L156.1 130.24 L157.7 135.43 L159.3 136.07 L160.9 133.47 L162.5 135.44 L164.1 138.69 L165.7 140.2 L167.3 140.7 L168.9 140.41 L170.5 138.85 L172.1 142.39 L173.7 141.56 L175.3 139.13 L176.9 143 L178.5 141.1 L180.1 141.62 L181.7 142.67 L183.3 145.18 L184.9 143.39 L186.5 144.32 L188.1 146.23 L189.7 146.15 L191.3 144.21 L192.9 144.12 L194.5 142.95 L196.1 143.68 L197.7 145.07 L199.3 145.06 L200.9 144.75 L202.5 142.63 L204.1 143.72 L205.7 144.59 L207.3 148.75 L208.9 145.38 L210.5 145.97 L212.1 145.16 L213.7 144.32 L215.3 148.33" fill="none" stroke="#a0a0a0" stroke-width="0.85"/>
<path d="M27.7 144.59 L28.2 144.58 L28.7 144.58 L29.2 144.57 L29.7 144.57 L30.2 144.56 L30.7 144.55 L31.2 144.55 L31.7 144.54 L32.2 144.53 L32.7 144.52 L33.2 144.52 L33.7 144.51 L34.2 144.5 L34.7 144.49 L35.2 144.48 L35.7 144.47 L36.2 144.46 L36.7 144.45 L37.2 144.44 L37.7 144.43 L38.2 144.41 L38.7 144.4 L39.2 144.39 L39.7 144.38 L40.2 144.36 L40.7 144.35 L41.2 144.33 L41.7 144.32 L42.2 144.3 L42.7 144.28 L43.2 144.26 L43.7 144.25 L44.2 144.23 L44.7 144.21 L45.2 144.19 L45.7 144.17 L46.2 144.15 L46.7 144.12 L47.2 144.1 L47.7 144.08 L48.2 144.05 L48.7 144.03 L49.2 144 L49.7 143.97 L50.2 143.94 L50.7 143.91 L51.2 143.88 L51.7 143.85 L52.2 143.82 L52.7 143.79 L53.2 143.76 L53.7 143.72 L54.2 143.68 L54.7 143.65 L55.2 143.61 L55.7 143.57 L56.2 143.53 L56.7 143.49 L57.2 143.44 L57.7 143.4 L58.2 143.35 L58.7 143.31 L59.2 143.26 L59.7 143.21 L60.2 143.16 L60.7 143.11 L61.2 143.05 L61.7 143 L62.2 142.94 L62.7 142.88 L63.2 142.82 L63.7 142.76 L64.2 142.7 L64.7 142.64 L65.2 142.57 L65.7 142.5 L66.2 142.43 L66.7 142.36 L67.2 142.29 L67.7 142.22 L68.2 142.14 L68.7 142.06 L69.2 141.99 L69.7 141.91 L70.2 141.82 L70.7 141.74 L71.2 141.65 L71.7 141.56 L72.2 141.48 L72.7 141.38 L73.2 141.29 L73.7 141.2 L74.2 141.1 L74.7 141 L75.2 140.9 L75.7 140.8 L76.2 140.69 L76.7 140.59 L77.2 140.48 L77.7 140.37 L78.2 140.26 L78.7 140.14 L79.2 140.03 L79.7 139.91 L80.2 139.79 L80.7 139.67 L81.2 139.54 L81.7 139.42 L82.2 139.29 L82.7 139.16 L83.2 139.03 L83.7 138.9 L84.2 138.77 L84.7 138.63 L85.2 138.5 L85.7 138.36 L86.2 138.22 L86.7 138.07 L87.2 137.93 L87.7 137.78 L88.2 137.64 L88.7 137.49 L89.2 137.34 L89.7 137.19 L90.2 137.03 L90.7 136.88 L91.2 136.72 L91.7 136.57 L92.2 136.41 L92.7 136.25 L93.2 136.09 L93.7 135.93 L94.2 135.76 L94.7 135.6 L95.2 135.43 L95.7 135.27 L96.2 135.1 L96.7 134.94 L97.2 134.77 L97.7 134.6 L98.2 134.43 L98.7 134.26 L99.2 134.09 L99.7 133.92 L100.2 133.75 L100.7 133.58 L101.2 133.41 L101.7 133.24 L102.2 133.07 L102.7 132.89 L103.2 132.72 L103.7 132.55 L104.2 132.38 L104.7 132.21 L105.2 132.04 L105.7 131.87 L106.2 131.71 L106.7 131.54 L107.2 131.37 L107.7 131.21 L108.2 131.04 L108.7 130.88 L109.2 130.72 L109.7 130.55 L110.2 130.39 L110.7 130.24 L111.2 130.08 L111.7 129.92 L112.2 129.77 L112.7 129.62 L113.2 129.47 L113.7 129.32 L114.2 129.17 L114.7 129.03 L115.2 128.89 L115.7 128.75 L116.2 128.61 L116.7 128.47 L117.2 128.34 L117.7 128.21 L118.2 128.08 L118.7 127.96 L119.2 127.84 L119.7 127.72 L120.2 127.6 L120.7 127.49 L121.2 127.38 L121.7 127.27 L122.2 127.17 L122.7 127.07 L123.2 126.97 L123.7 126.88 L124.2 126.79 L124.7 126.71 L125.2 126.62 L125.7 126.54 L126.2 126.47 L126.7 126.4 L127.2 126.33 L127.7 126.27 L128.2 126.21 L128.7 126.15 L129.2 126.1 L129.7 126.05 L130.2 126.01 L130.7 125.97 L131.2 125.93 L131.7 125.9 L132.2 125.88 L132.7 125.85 L133.2 125.83 L133.7 125.82 L134.2 125.81 L134.7 125.8 L135.2 125.8 L135.7 125.81 L136.2 125.82 L136.7 125.85 L137.2 125.89 L137.7 125.95 L138.2 126.01 L138.7 126.09 L139.2 126.17 L139.7 126.27 L140.2 126.38 L140.7 126.5 L141.2 126.63 L141.7 126.77 L142.2 126.92 L142.7 127.08 L143.2 127.25 L143.7 127.43 L144.2 127.62 L144.7 127.82 L145.2 128.02 L145.7 128.23 L146.2 128.45 L146.7 128.68 L147.2 128.91 L147.7 129.15 L148.2 129.4 L148.7 129.65 L149.2 129.91 L149.7 130.17 L150.2 130.43 L150.7 130.7 L151.2 130.98 L151.7 131.25 L152.2 131.53 L152.7 131.81 L153.2 132.09 L153.7 132.38 L154.2 132.66 L154.7 132.95 L155.2 133.24 L155.7 133.52 L156.2 133.81 L156.7 134.09 L157.2 134.38 L157.7 134.66 L158.2 134.94 L158.7 135.22 L159.2 135.5 L159.7 135.78 L160.2 136.05 L160.7 136.32 L161.2 136.58 L161.7 136.84 L162.2 137.1 L162.7 137.36 L163.2 137.61 L163.7 137.85 L164.2 138.09 L164.7 138.33 L165.2 138.56 L165.7 138.79 L166.2 139.01 L166.7 139.23 L167.2 139.45 L167.7 139.65 L168.2 139.86 L168.7 140.05 L169.2 140.24 L169.7 140.43 L170.2 140.61 L170.7 140.79 L171.2 140.96 L171.7 141.13 L172.2 141.29 L172.7 141.44 L173.2 141.59 L173.7 141.74 L174.2 141.88 L174.7 142.01 L175.2 142.14 L175.7 142.27 L176.2 142.39 L176.7 142.5 L177.2 142.62 L177.7 142.72 L178.2 142.83 L178.7 142.92 L179.2 143.02 L179.7 143.11 L180.2 143.2 L180.7 143.28 L181.2 143.36 L181.7 143.43 L182.2 143.51 L182.7 143.57 L183.2 143.64 L183.7 143.7 L184.2 143.76 L184.7 143.82 L185.2 143.87 L185.7 143.92 L186.2 143.97 L186.7 144.01 L187.2 144.06 L187.7 144.1 L188.2 144.14 L188.7 144.17 L189.2 144.21 L189.7 144.24 L190.2 144.27 L190.7 144.3 L191.2 144.33 L191.7 144.35 L192.2 144.37 L192.7 144.4 L193.2 144.42 L193.7 144.44 L194.2 144.46 L194.7 144.47 L195.2 144.49 L195.7 144.51 L196.2 144.52 L196.7 144.53 L197.2 144.55 L197.7 144.56 L198.2 144.57 L198.7 144.58 L199.2 144.59 L199.7 144.6 L200.2 144.6 L200.7 144.61 L201.2 144.62 L201.7 144.62 L202.2 144.63 L202.7 144.64 L203.2 144.64 L203.7 144.65 L204.2 144.65 L204.7 144.65 L205.2 144.66 L205.7 144.66 L206.2 144.67 L206.7 144.67 L207.2 144.67 L207.7 144.67 L208.2 144.68 L208.7 144.68 L209.2 144.68 L209.7 144.68 L210.2 144.68 L210.7 144.68 L211.2 144.69 L211.7 144.69 L212.2 144.69 L212.7 144.69 L213.2 144.69 L213.7 144.69 L214.2 144.69 L214.7 144.69 L215.2 144.69 L215.7 144.69" fill="none" stroke="#5a5a5a" stroke-width="1.1"/>
<rect x="27.1" y="8.8" width="189.2" height="152.5" fill="none" stroke="#6e6e6e" stroke-width="1.1"/>
<line x1="200.5" y1="161.3" x2="200.5" y2="158.7" stroke="#6e6e6e" stroke-width="0.9"/>
<text x="200.5" y="174.3" font-size="9.2" text-anchor="middle" fill="#161616">396</text>
<line x1="184.76" y1="161.3" x2="184.76" y2="159.8" stroke="#6e6e6e" stroke-width="0.9"/>
<line x1="169.02" y1="161.3" x2="169.02" y2="158.7" stroke="#6e6e6e" stroke-width="0.9"/>
<text x="169.02" y="174.3" font-size="9.2" text-anchor="middle" fill="#161616">398</text>
<line x1="153.28" y1="161.3" x2="153.28" y2="159.8" stroke="#6e6e6e" stroke-width="0.9"/>
<line x1="137.54" y1="161.3" x2="137.54" y2="158.7" stroke="#6e6e6e" stroke-width="0.9"/>
<text x="137.54" y="174.3" font-size="9.2" text-anchor="middle" fill="#161616">400</text>
<line x1="121.8" y1="161.3" x2="121.8" y2="159.8" stroke="#6e6e6e" stroke-width="0.9"/>
<line x1="106.06" y1="161.3" x2="106.06" y2="158.7" stroke="#6e6e6e" stroke-width="0.9"/>
<text x="106.06" y="174.3" font-size="9.2" text-anchor="middle" fill="#161616">402</text>
<line x1="90.32" y1="161.3" x2="90.32" y2="159.8" stroke="#6e6e6e" stroke-width="0.9"/>
<line x1="74.58" y1="161.3" x2="74.58" y2="158.7" stroke="#6e6e6e" stroke-width="0.9"/>
<text x="74.58" y="174.3" font-size="9.2" text-anchor="middle" fill="#161616">404</text>
<line x1="58.84" y1="161.3" x2="58.84" y2="159.8" stroke="#6e6e6e" stroke-width="0.9"/>
<line x1="43.1" y1="161.3" x2="43.1" y2="158.7" stroke="#6e6e6e" stroke-width="0.9"/>
<text x="43.1" y="174.3" font-size="9.2" text-anchor="middle" fill="#161616">406</text>
<text x="121.7" y="185.5" font-size="9.4" text-anchor="middle" fill="#161616">Binding energy (eV)</text>
<text x="0" y="0" font-size="9.4" text-anchor="middle" fill="#161616" transform="translate(20.3 84.4) rotate(-90)">Intensity (a.u.)</text>
<text x="31.4" y="20.8" font-size="7.6" fill="#161616">CoNC-MSi1</text>
<text x="31.4" y="77.6" font-size="7.6" fill="#161616">CoNC-MSi2</text>
<text x="31.4" y="121.3" font-size="7.6" fill="#161616">CoNC-Si</text>
<text x="212.4" y="18.7" font-size="9.4" text-anchor="end" fill="#111">N 1<tspan font-style="italic">s</tspan></text>
<text x="67.5" y="35" font-size="7.6" fill="#45c3f0">Pyrirolic N</text>
<line x1="109.4" y1="33.9" x2="122" y2="42" stroke="#45c3f0" stroke-width="0.9"/>
<text x="48.8" y="47" font-size="7.6" fill="#f0b070">Graphtic N</text>
<text x="165" y="35.7" font-size="7.6" fill="#79c050">Co-N</text>
<line x1="161" y1="37.5" x2="149" y2="44" stroke="#79c050" stroke-width="0.9"/>
<text x="172.6" y="52.8" font-size="7.6" fill="#e05a9c">Pyridinc N</text>
<text x="45.8" y="133" font-size="7.6" fill="#5a5ab8">Oxidized N</text>
<line x1="67.7" y1="135.3" x2="81.3" y2="141.6" stroke="#3a3aa0" stroke-width="0.9"/>
<text x="0.9" y="11.1" font-size="14" font-weight="bold">a</text>
<clipPath id="cpb"><rect x="258.4" y="9.2" width="189.2" height="152.9"/></clipPath>
<g clip-path="url(#cpb)" stroke-linejoin="round" stroke-linecap="round">
<path d="M258.5 147.31 L259.73 147.3 L261.47 147.31 L263.51 147.31 L265.64 147.3 L267.64 147.26 L269.3 147.17 L270.6 147.1 L271.71 147.09 L272.69 147.05 L273.61 146.9 L274.53 146.55 L275.51 145.91 L276.56 144.96 L277.63 143.74 L278.7 142.32 L279.75 140.77 L280.76 139.17 L281.72 137.57 L282.61 135.87 L283.46 133.98 L284.27 132.04 L285.05 130.16 L285.82 128.49 L286.58 127.15 L287.33 126.18 L288.07 125.48 L288.79 124.98 L289.5 124.61 L290.2 124.32 L290.9 124.02 L291.6 123.79 L292.31 123.68 L293.01 123.63 L293.69 123.6 L294.34 123.52 L294.95 123.33 L295.5 123.05 L295.99 122.74 L296.45 122.37 L296.91 121.95 L297.39 121.46 L297.92 120.89 L298.48 120.28 L299.03 119.63 L299.61 118.92 L300.23 118.1 L300.92 117.15 L301.7 116.03 L302.58 114.71 L303.54 113.2 L304.57 111.56 L305.65 109.83 L306.77 108.06 L307.91 106.3 L309.09 104.47 L310.33 102.53 L311.61 100.54 L312.9 98.6 L314.19 96.79 L315.47 95.18 L316.71 93.8 L317.91 92.59 L319.11 91.51 L320.35 90.51 L321.64 89.55 L323.03 88.58 L324.46 87.58 L325.91 86.59 L327.42 85.64 L329.03 84.76 L330.79 83.99 L332.75 83.36 L335.02 82.89 L337.59 82.55 L340.31 82.31 L343.03 82.17 L345.6 82.11 L347.87 82.11 L349.78 82.21 L351.45 82.43 L352.97 82.73 L354.43 83.06 L355.94 83.41 L357.59 83.71 L359.39 84.01 L361.26 84.34 L363.18 84.66 L365.11 84.97 L367.04 85.24 L368.93 85.45 L370.79 85.62 L372.63 85.77 L374.46 85.88 L376.3 85.92 L378.14 85.88 L380 85.73 L381.86 85.46 L383.7 85.08 L385.55 84.62 L387.43 84.09 L389.35 83.5 L391.34 82.88 L393.41 82.16 L395.55 81.32 L397.74 80.42 L399.94 79.54 L402.14 78.74 L404.3 78.08 L406.43 77.55 L408.54 77.07 L410.64 76.68 L412.75 76.38 L414.86 76.22 L416.99 76.21 L419.17 76.39 L421.42 76.75 L423.67 77.24 L425.88 77.81 L427.99 78.38 L429.95 78.92 L431.74 79.44 L433.41 79.99 L434.98 80.56 L436.48 81.12 L437.94 81.65 L439.4 82.11 L440.92 82.53 L442.5 82.93 L444.04 83.29 L445.45 83.6 L446.63 83.86 L447.5 84.06" fill="none" stroke="#cfc21a" stroke-width="1.45"/>
<path d="M258.5 147.31 L259.72 147.32 L261.46 147.36 L263.5 147.4 L265.62 147.4 L267.62 147.34 L269.3 147.17 L270.64 146.9 L271.81 146.55 L272.86 146.14 L273.84 145.66 L274.8 145.12 L275.78 144.53 L276.79 143.82 L277.79 142.99 L278.77 142.1 L279.71 141.21 L280.61 140.38 L281.45 139.66 L282.2 139.07 L282.87 138.57 L283.49 138.13 L284.11 137.71 L284.77 137.31 L285.5 136.88 L286.33 136.47 L287.22 136.11 L288.15 135.76 L289.09 135.37 L290.02 134.9 L290.9 134.31 L291.76 133.57 L292.61 132.7 L293.45 131.76 L294.26 130.78 L295.03 129.81 L295.76 128.89 L296.39 128.08 L296.93 127.35 L297.43 126.64 L297.95 125.84 L298.54 124.88 L299.27 123.67 L300.15 122.21 L301.14 120.56 L302.21 118.74 L303.31 116.79 L304.41 114.72 L305.48 112.56 L306.51 110.2 L307.55 107.61 L308.58 104.91 L309.62 102.21 L310.65 99.62 L311.69 97.27 L312.72 95.13 L313.76 93.12 L314.79 91.23 L315.83 89.44 L316.86 87.75 L317.9 86.14 L318.91 84.63 L319.88 83.22 L320.85 81.9 L321.86 80.68 L322.93 79.54 L324.11 78.5 L325.36 77.54 L326.66 76.65 L328.03 75.86 L329.48 75.17 L331.05 74.59 L332.75 74.12 L334.63 73.78 L336.67 73.54 L338.82 73.42 L341.04 73.4 L343.26 73.47 L345.44 73.63 L347.58 73.91 L349.72 74.31 L351.87 74.81 L354.03 75.37 L356.21 75.96 L358.4 76.55 L360.62 77.17 L362.86 77.85 L365.12 78.56 L367.38 79.27 L369.64 79.95 L371.9 80.59 L374.15 81.19 L376.4 81.81 L378.65 82.4 L380.9 82.94 L383.15 83.38 L385.4 83.71 L387.62 83.9 L389.8 83.97 L391.98 83.95 L394.2 83.88 L396.49 83.79 L398.9 83.71 L401.44 83.63 L404.1 83.51 L406.83 83.37 L409.6 83.22 L412.37 83.1 L415.1 83.02 L417.8 82.97 L420.5 82.94 L423.2 82.93 L425.9 82.94 L428.6 82.97 L431.3 83.02 L434.19 83.1 L437.3 83.22 L440.41 83.37 L443.3 83.51 L445.74 83.63 L447.5 83.71" fill="none" stroke="#33b5ea" stroke-width="1.45"/>
<path d="M258.5 147.31 L259.72 147.31 L261.45 147.34 L263.48 147.36 L265.6 147.35 L267.61 147.3 L269.3 147.17 L270.66 146.96 L271.85 146.68 L272.93 146.36 L273.95 146 L274.97 145.61 L276.05 145.22 L277.19 144.79 L278.35 144.3 L279.51 143.8 L280.65 143.29 L281.75 142.83 L282.8 142.44 L283.81 142.13 L284.8 141.87 L285.75 141.65 L286.65 141.45 L287.47 141.25 L288.2 141.05 L288.78 140.91 L289.22 140.87 L289.58 140.83 L289.94 140.71 L290.36 140.42 L290.9 139.87 L291.6 138.98 L292.42 137.81 L293.3 136.47 L294.18 135.07 L295.02 133.73 L295.76 132.57 L296.37 131.66 L296.89 130.93 L297.36 130.26 L297.84 129.53 L298.37 128.62 L299 127.43 L299.75 125.94 L300.58 124.26 L301.46 122.41 L302.37 120.4 L303.27 118.27 L304.13 116.03 L304.94 113.65 L305.71 111.09 L306.48 108.41 L307.26 105.65 L308.09 102.84 L308.99 100.05 L309.99 97.16 L311.09 94.14 L312.23 91.08 L313.37 88.09 L314.47 85.25 L315.47 82.67 L316.37 80.29 L317.2 78.03 L317.98 75.92 L318.75 74.03 L319.52 72.39 L320.33 71.06 L321.14 70.1 L321.94 69.47 L322.74 69.1 L323.58 68.92 L324.48 68.83 L325.46 68.77 L326.52 68.78 L327.63 68.93 L328.8 69.19 L330.04 69.51 L331.35 69.85 L332.75 70.16 L334.2 70.45 L335.69 70.74 L337.26 71.05 L338.93 71.4 L340.75 71.79 L342.74 72.24 L344.98 72.77 L347.44 73.36 L350.05 74 L352.71 74.68 L355.34 75.37 L357.86 76.07 L360.24 76.78 L362.54 77.52 L364.81 78.29 L367.1 79.06 L369.45 79.83 L371.9 80.59 L374.51 81.38 L377.24 82.22 L380.03 83.07 L382.82 83.85 L385.53 84.53 L388.1 85.03 L390.51 85.37 L392.8 85.58 L395.02 85.67 L397.2 85.67 L399.38 85.59 L401.6 85.45 L403.82 85.2 L406 84.82 L408.18 84.37 L410.4 83.88 L412.69 83.42 L415.1 83.02 L417.64 82.68 L420.3 82.37 L423.03 82.08 L425.8 81.81 L428.57 81.54 L431.3 81.28 L434.19 81.01 L437.3 80.74 L440.41 80.48 L443.3 80.24 L445.74 80.04 L447.5 79.89" fill="none" stroke="#6cbb47" stroke-width="1.45"/>
<path d="M258.5 147.31 L259.72 147.3 L261.45 147.31 L263.48 147.31 L265.6 147.3 L267.61 147.26 L269.3 147.17 L270.68 147.02 L271.9 146.84 L273.01 146.62 L274.05 146.38 L275.05 146.14 L276.05 145.91 L277.01 145.69 L277.9 145.45 L278.75 145.21 L279.6 144.97 L280.49 144.74 L281.45 144.53 L282.51 144.34 L283.65 144.16 L284.82 144 L286 143.84 L287.14 143.67 L288.2 143.48 L289.21 143.28 L290.19 143.08 L291.14 142.87 L292.03 142.64 L292.86 142.38 L293.6 142.09 L294.24 141.76 L294.79 141.4 L295.27 141.02 L295.71 140.6 L296.13 140.17 L296.57 139.73 L296.96 139.36 L297.27 139.08 L297.57 138.78 L297.91 138.35 L298.37 137.68 L299 136.67 L299.86 135.3 L300.92 133.66 L302.09 131.79 L303.29 129.71 L304.45 127.46 L305.48 125.06 L306.38 122.42 L307.21 119.48 L307.99 116.37 L308.76 113.22 L309.53 110.14 L310.34 107.27 L311.17 104.57 L311.99 101.91 L312.82 99.33 L313.67 96.87 L314.55 94.55 L315.47 92.4 L316.44 90.49 L317.46 88.8 L318.51 87.26 L319.57 85.77 L320.63 84.27 L321.68 82.67 L322.73 80.96 L323.8 79.22 L324.87 77.46 L325.92 75.69 L326.93 73.95 L327.89 72.24 L328.8 70.52 L329.67 68.76 L330.51 67.02 L331.3 65.35 L332.05 63.83 L332.75 62.52 L333.37 61.31 L333.91 60.14 L334.4 59.11 L334.89 58.33 L335.41 57.9 L335.99 57.93 L336.65 58.54 L337.37 59.69 L338.12 61.19 L338.87 62.87 L339.61 64.52 L340.31 65.99 L340.94 67.34 L341.52 68.72 L342.08 70.1 L342.67 71.41 L343.33 72.61 L344.09 73.63 L344.95 74.49 L345.88 75.22 L346.87 75.83 L347.94 76.34 L349.08 76.76 L350.3 77.11 L351.58 77.34 L352.92 77.43 L354.33 77.44 L355.84 77.41 L357.46 77.4 L359.21 77.46 L361.16 77.57 L363.32 77.69 L365.59 77.83 L367.88 78 L370.1 78.22 L372.17 78.5 L374.03 78.84 L375.75 79.22 L377.4 79.65 L379.06 80.13 L380.8 80.68 L382.7 81.28 L384.79 82 L387.01 82.84 L389.31 83.74 L391.65 84.63 L393.96 85.45 L396.2 86.14 L398.41 86.7 L400.63 87.18 L402.83 87.58 L404.97 87.93 L407 88.24 L408.89 88.51 L410.51 88.76 L411.87 88.98 L413.13 89.16 L414.43 89.28 L415.94 89.32 L417.8 89.27 L420.11 89.1 L422.76 88.82 L425.61 88.46 L428.53 88.07 L431.37 87.68 L434 87.33 L436.56 86.99 L439.2 86.63 L441.76 86.27 L444.1 85.93 L446.06 85.65 L447.5 85.45" fill="none" stroke="#e48ef0" stroke-width="1.45"/>
<path d="M258.5 147.31 L259.72 147.31 L261.45 147.32 L263.48 147.34 L265.6 147.33 L267.61 147.28 L269.3 147.17 L270.68 146.98 L271.9 146.74 L273.01 146.46 L274.05 146.15 L275.05 145.85 L276.05 145.57 L277.01 145.3 L277.9 145.02 L278.75 144.74 L279.6 144.47 L280.49 144.21 L281.45 143.97 L282.52 143.75 L283.68 143.55 L284.88 143.37 L286.06 143.18 L287.18 142.99 L288.2 142.79 L289.1 142.62 L289.91 142.5 L290.66 142.37 L291.38 142.18 L292.08 141.88 L292.79 141.4 L293.52 140.67 L294.25 139.72 L294.97 138.66 L295.65 137.58 L296.28 136.58 L296.84 135.77 L297.27 135.28 L297.59 135.06 L297.85 134.93 L298.13 134.69 L298.49 134.15 L299 133.13 L299.69 131.57 L300.5 129.63 L301.4 127.39 L302.33 124.95 L303.26 122.38 L304.13 119.78 L304.95 117.11 L305.76 114.28 L306.56 111.34 L307.36 108.31 L308.17 105.23 L308.99 102.13 L309.83 98.94 L310.69 95.62 L311.56 92.25 L312.42 88.91 L313.28 85.69 L314.12 82.67 L314.93 79.78 L315.7 76.93 L316.47 74.2 L317.25 71.65 L318.08 69.36 L318.98 67.38 L319.96 65.7 L320.99 64.25 L322.07 63.06 L323.18 62.13 L324.31 61.48 L325.46 61.12 L326.6 61.16 L327.73 61.6 L328.89 62.32 L330.09 63.2 L331.37 64.11 L332.75 64.95 L334.3 65.77 L336 66.69 L337.78 67.64 L339.55 68.58 L341.23 69.44 L342.74 70.16 L344.02 70.71 L345.12 71.13 L346.13 71.47 L347.14 71.78 L348.23 72.11 L349.49 72.52 L350.9 72.99 L352.39 73.47 L353.96 73.97 L355.62 74.51 L357.37 75.09 L359.21 75.72 L361.2 76.43 L363.35 77.19 L365.59 78.01 L367.85 78.85 L370.07 79.69 L372.17 80.52 L374.18 81.35 L376.14 82.22 L378.06 83.09 L379.93 83.94 L381.75 84.73 L383.51 85.45 L385.21 86.09 L386.85 86.69 L388.44 87.24 L389.98 87.73 L391.49 88.15 L392.96 88.51 L394.37 88.8 L395.7 89.03 L396.99 89.2 L398.29 89.3 L399.63 89.33 L401.06 89.27 L402.55 89.12 L404.07 88.86 L405.63 88.53 L407.26 88.14 L408.97 87.73 L410.78 87.33 L412.72 86.9 L414.78 86.43 L416.92 85.93 L419.11 85.42 L421.31 84.93 L423.47 84.48 L425.64 84.04 L427.84 83.6 L430.05 83.17 L432.24 82.77 L434.38 82.41 L436.43 82.11 L438.51 81.88 L440.67 81.69 L442.77 81.55 L444.7 81.44 L446.32 81.35 L447.5 81.28" fill="none" stroke="#e23a73" stroke-width="1.45"/>
<path d="M258.5 147.31 L259.72 147.3 L261.43 147.31 L263.44 147.31 L265.56 147.3 L267.58 147.26 L269.3 147.17 L270.73 147.03 L272.02 146.86 L273.21 146.65 L274.35 146.42 L275.46 146.18 L276.59 145.91 L277.71 145.63 L278.78 145.3 L279.83 144.96 L280.88 144.61 L281.95 144.28 L283.07 143.97 L284.27 143.7 L285.54 143.45 L286.83 143.21 L288.1 142.98 L289.29 142.72 L290.36 142.44 L291.28 142.16 L292.1 141.91 L292.84 141.65 L293.54 141.33 L294.23 140.91 L294.95 140.35 L295.66 139.77 L296.34 139.2 L297.01 138.53 L297.7 137.65 L298.44 136.45 L299.27 134.79 L300.21 132.58 L301.25 129.88 L302.34 126.85 L303.44 123.65 L304.5 120.45 L305.48 117.42 L306.38 114.57 L307.24 111.78 L308.06 108.99 L308.85 106.15 L309.61 103.18 L310.34 100.05 L311.03 96.69 L311.68 93.15 L312.3 89.49 L312.9 85.78 L313.5 82.1 L314.12 78.5 L314.73 74.98 L315.32 71.47 L315.91 67.99 L316.52 64.52 L317.18 61.08 L317.9 57.65 L318.72 54.09 L319.63 50.37 L320.58 46.66 L321.54 43.16 L322.46 40.04 L323.3 37.49 L324.05 35.47 L324.74 33.81 L325.39 32.54 L326.03 31.68 L326.67 31.24 L327.35 31.24 L328.06 31.74 L328.79 32.73 L329.53 34.15 L330.26 35.92 L330.98 37.99 L331.67 40.27 L332.32 42.98 L332.93 46.2 L333.53 49.7 L334.13 53.27 L334.76 56.69 L335.45 59.73 L336.18 62.39 L336.94 64.83 L337.73 67.12 L338.55 69.31 L339.41 71.46 L340.31 73.63 L341.25 75.88 L342.21 78.18 L343.21 80.43 L344.26 82.56 L345.36 84.49 L346.52 86.14 L347.76 87.59 L349.09 88.89 L350.47 90 L351.87 90.84 L353.26 91.34 L354.62 91.43 L355.95 90.95 L357.27 89.93 L358.59 88.58 L359.89 87.08 L361.18 85.65 L362.45 84.48 L363.68 83.45 L364.87 82.39 L366.04 81.38 L367.23 80.54 L368.45 79.97 L369.74 79.75 L371.09 79.99 L372.48 80.62 L373.91 81.52 L375.37 82.55 L376.86 83.58 L378.38 84.48 L379.94 85.31 L381.54 86.18 L383.17 87.06 L384.82 87.9 L386.47 88.65 L388.1 89.27 L389.7 89.79 L391.29 90.24 L392.88 90.6 L394.48 90.86 L396.12 91 L397.82 91.01 L399.58 90.84 L401.4 90.51 L403.25 90.06 L405.13 89.54 L407.01 89.01 L408.89 88.51 L410.78 88.06 L412.71 87.62 L414.64 87.17 L416.56 86.68 L418.43 86.11 L420.23 85.45 L421.96 84.68 L423.65 83.82 L425.29 82.89 L426.89 81.91 L428.44 80.91 L429.95 79.89 L431.38 78.82 L432.72 77.68 L434.02 76.5 L435.31 75.35 L436.64 74.26 L438.05 73.29 L439.66 72.4 L441.45 71.56 L443.28 70.79 L445 70.11 L446.46 69.54 L447.5 69.12" fill="none" stroke="#a88a38" stroke-width="1.45"/>
</g>
<line x1="300.4" y1="108.6" x2="312.2" y2="120" stroke="#000" stroke-width="1"/>
<path d="M313.6 121.4 L309.4 119.6 L311.6 117.4 Z" fill="#000" stroke="none" stroke-width="1"/>
<rect x="339.7" y="94.2" width="66.8" height="54.2" fill="#fff" stroke="none"/>
<clipPath id="cpi"><rect x="339.7" y="94.2" width="66.8" height="54.2"/></clipPath>
<g clip-path="url(#cpi)">
<path d="M339.7 104.14 L342.67 104.04 L346.87 103.92 L351.81 103.76 L356.97 103.57 L361.86 103.34 L365.97 103.05 L369.34 102.7 L372.35 102.3 L375.09 101.84 L377.64 101.36 L380.06 100.85 L382.45 100.34 L384.79 99.8 L387.03 99.23 L389.15 98.63 L391.14 98.03 L392.99 97.45 L394.7 96.91 L396.24 96.41 L397.62 95.92 L398.86 95.45 L399.99 95.01 L401.05 94.59 L402.05 94.2 L403.01 93.83 L403.91 93.46 L404.73 93.13 L405.45 92.83 L406.05 92.58 L406.5 92.39" fill="none" stroke="#cfc21a" stroke-width="1.2"/>
<path d="M339.7 130.88 L341.82 130.35 L344.75 129.65 L348.22 128.81 L351.97 127.84 L355.75 126.78 L359.29 125.64 L362.59 124.41 L365.83 123.07 L369.09 121.64 L372.46 120.11 L375.99 118.49 L379.78 116.78 L384.18 114.81 L389.21 112.54 L394.42 110.18 L399.34 107.94 L403.52 106.03 L406.5 104.68" fill="none" stroke="#33b5ea" stroke-width="1.2"/>
<path d="M339.7 145.33 L341.82 144.5 L344.75 143.38 L348.22 142.04 L351.97 140.55 L355.75 138.97 L359.29 137.38 L362.59 135.75 L365.83 134.02 L369.09 132.21 L372.46 130.32 L375.99 128.37 L379.78 126.36 L384.18 124.11 L389.21 121.58 L394.42 118.99 L399.34 116.54 L403.52 114.47 L406.5 112.99" fill="none" stroke="#6cbb47" stroke-width="1.2"/>
<path d="M368.65 149.66 L369.32 149.55 L370.21 149.42 L371.29 149.25 L372.52 149.03 L373.88 148.75 L375.33 148.4 L376.82 148.01 L378.38 147.58 L380.06 147.1 L381.92 146.53 L384.04 145.83 L386.46 144.97 L389.52 143.81 L393.22 142.36 L397.18 140.78 L400.97 139.25 L404.22 137.94 L406.5 137.02" fill="none" stroke="#e48ef0" stroke-width="1.2"/>
<path d="M350.83 150.21 L351.17 150.05 L351.5 149.87 L351.96 149.64 L352.66 149.34 L353.73 148.93 L355.29 148.4 L357.47 147.74 L360.22 146.97 L363.33 146.1 L366.61 145.13 L369.86 144.09 L372.88 142.98 L375.68 141.79 L378.43 140.5 L381.14 139.13 L383.85 137.69 L386.58 136.2 L389.35 134.67 L392.37 132.95 L395.66 131 L398.96 129 L402.03 127.11 L404.63 125.51 L406.5 124.37" fill="none" stroke="#a88a38" stroke-width="1.2"/>
<path d="M353.06 150.21 L353.42 150.06 L353.81 149.9 L354.33 149.69 L355.06 149.39 L356.09 148.97 L357.51 148.4 L359.43 147.64 L361.79 146.73 L364.44 145.69 L367.27 144.57 L370.13 143.41 L372.88 142.26 L375.55 141.07 L378.26 139.81 L381 138.51 L383.77 137.2 L386.56 135.91 L389.35 134.67 L392.37 133.4 L395.66 132.07 L398.96 130.76 L402.03 129.56 L404.63 128.54 L406.5 127.8" fill="none" stroke="#e23a73" stroke-width="1.2"/>
</g>
<rect x="339.7" y="94.2" width="66.8" height="54.2" fill="none" stroke="#555" stroke-width="0.8"/>
<line x1="339.7" y1="148.4" x2="338.5" y2="148.4" stroke="#555" stroke-width="0.6"/>
<text x="338.3" y="150.4" font-size="6.0" text-anchor="end" fill="#161616">0.1</text>
<line x1="339.7" y1="130.33" x2="338.5" y2="130.33" stroke="#555" stroke-width="0.6"/>
<text x="338.3" y="132.33" font-size="6.0" text-anchor="end" fill="#161616">0.2</text>
<line x1="339.7" y1="112.27" x2="338.5" y2="112.27" stroke="#555" stroke-width="0.6"/>
<text x="338.3" y="114.27" font-size="6.0" text-anchor="end" fill="#161616">0.3</text>
<line x1="339.7" y1="94.2" x2="338.5" y2="94.2" stroke="#555" stroke-width="0.6"/>
<text x="338.3" y="96.2" font-size="6.0" text-anchor="end" fill="#161616">0.4</text>
<line x1="339.7" y1="148.4" x2="339.7" y2="149.6" stroke="#555" stroke-width="0.6"/>
<text x="339.7" y="155.1" font-size="6.1" text-anchor="middle" fill="#161616">7712</text>
<line x1="361.97" y1="148.4" x2="361.97" y2="149.6" stroke="#555" stroke-width="0.6"/>
<text x="361.97" y="155.1" font-size="6.1" text-anchor="middle" fill="#161616">7713</text>
<line x1="384.23" y1="148.4" x2="384.23" y2="149.6" stroke="#555" stroke-width="0.6"/>
<text x="384.23" y="155.1" font-size="6.1" text-anchor="middle" fill="#161616">7714</text>
<line x1="406.5" y1="148.4" x2="406.5" y2="149.6" stroke="#555" stroke-width="0.6"/>
<text x="406.5" y="155.1" font-size="6.1" text-anchor="middle" fill="#161616">7715</text>
<line x1="350.83" y1="148.4" x2="350.83" y2="149.2" stroke="#555" stroke-width="0.5"/>
<line x1="373.1" y1="148.4" x2="373.1" y2="149.2" stroke="#555" stroke-width="0.5"/>
<line x1="395.37" y1="148.4" x2="395.37" y2="149.2" stroke="#555" stroke-width="0.5"/>
<text x="373.2" y="159.6" font-size="6.0" text-anchor="middle" fill="#161616">Photo energy (eV)</text>
<text x="0" y="0" font-size="6.0" text-anchor="middle" fill="#161616" transform="translate(327.6 121.3) rotate(-90)">Intensity (arb. units)</text>
<rect x="258.4" y="9.2" width="189.2" height="152.9" fill="none" stroke="#3a3a3a" stroke-width="1"/>
<line x1="258.4" y1="148" x2="255.8" y2="148" stroke="#3a3a3a" stroke-width="0.9"/>
<text x="253.7" y="151.1" font-size="8.9" text-anchor="end" fill="#161616">0.0</text>
<line x1="258.4" y1="134.1" x2="256.9" y2="134.1" stroke="#3a3a3a" stroke-width="0.9"/>
<line x1="258.4" y1="120.2" x2="255.8" y2="120.2" stroke="#3a3a3a" stroke-width="0.9"/>
<text x="253.7" y="123.3" font-size="8.9" text-anchor="end" fill="#161616">0.4</text>
<line x1="258.4" y1="106.3" x2="256.9" y2="106.3" stroke="#3a3a3a" stroke-width="0.9"/>
<line x1="258.4" y1="92.4" x2="255.8" y2="92.4" stroke="#3a3a3a" stroke-width="0.9"/>
<text x="253.7" y="95.5" font-size="8.9" text-anchor="end" fill="#161616">0.8</text>
<line x1="258.4" y1="78.5" x2="256.9" y2="78.5" stroke="#3a3a3a" stroke-width="0.9"/>
<line x1="258.4" y1="64.6" x2="255.8" y2="64.6" stroke="#3a3a3a" stroke-width="0.9"/>
<text x="253.7" y="67.7" font-size="8.9" text-anchor="end" fill="#161616">1.2</text>
<line x1="258.4" y1="50.7" x2="256.9" y2="50.7" stroke="#3a3a3a" stroke-width="0.9"/>
<line x1="258.4" y1="36.8" x2="255.8" y2="36.8" stroke="#3a3a3a" stroke-width="0.9"/>
<text x="253.7" y="39.9" font-size="8.9" text-anchor="end" fill="#161616">1.6</text>
<line x1="258.4" y1="22.9" x2="256.9" y2="22.9" stroke="#3a3a3a" stroke-width="0.9"/>
<line x1="258.4" y1="9" x2="255.8" y2="9" stroke="#3a3a3a" stroke-width="0.9"/>
<text x="253.7" y="12.1" font-size="8.9" text-anchor="end" fill="#161616">2.0</text>
<line x1="258.5" y1="162.1" x2="258.5" y2="164.7" stroke="#3a3a3a" stroke-width="0.9"/>
<text x="258.5" y="174.6" font-size="9.3" text-anchor="middle" fill="#161616">7700</text>
<line x1="285.5" y1="162.1" x2="285.5" y2="163.6" stroke="#3a3a3a" stroke-width="0.9"/>
<line x1="312.5" y1="162.1" x2="312.5" y2="164.7" stroke="#3a3a3a" stroke-width="0.9"/>
<text x="312.5" y="174.6" font-size="9.3" text-anchor="middle" fill="#161616">7720</text>
<line x1="339.5" y1="162.1" x2="339.5" y2="163.6" stroke="#3a3a3a" stroke-width="0.9"/>
<line x1="366.5" y1="162.1" x2="366.5" y2="164.7" stroke="#3a3a3a" stroke-width="0.9"/>
<text x="366.5" y="174.6" font-size="9.3" text-anchor="middle" fill="#161616">7740</text>
<line x1="393.5" y1="162.1" x2="393.5" y2="163.6" stroke="#3a3a3a" stroke-width="0.9"/>
<line x1="420.5" y1="162.1" x2="420.5" y2="164.7" stroke="#3a3a3a" stroke-width="0.9"/>
<text x="420.5" y="174.6" font-size="9.3" text-anchor="middle" fill="#161616">7760</text>
<line x1="447.5" y1="162.1" x2="447.5" y2="163.6" stroke="#3a3a3a" stroke-width="0.9"/>
<text x="353.4" y="186" font-size="9.3" text-anchor="middle" fill="#161616">Photo energy (eV)</text>
<text x="0" y="0" font-size="9.3" text-anchor="middle" fill="#161616" transform="translate(235.9 85.6) rotate(-90)">Intensity (arb. units)</text>
<line x1="274.7" y1="17.4" x2="289.7" y2="17.4" stroke="#e23a73" stroke-width="1.6"/>
<text x="291.6" y="20.3" font-size="7.9" fill="#161616">CoNC-MSi1</text>
<line x1="274.7" y1="29.8" x2="289.7" y2="29.8" stroke="#33b5ea" stroke-width="1.6"/>
<text x="291.6" y="32.7" font-size="7.9" fill="#161616">CoNC-Si</text>
<line x1="274.7" y1="42.2" x2="289.7" y2="42.2" stroke="#e48ef0" stroke-width="1.6"/>
<line x1="359.5" y1="17.4" x2="374.5" y2="17.4" stroke="#6cbb47" stroke-width="1.6"/>
<text x="376.4" y="20.3" font-size="7.9" fill="#161616">CoNC-MSi2</text>
<line x1="359.5" y1="29.8" x2="374.5" y2="29.8" stroke="#cfc21a" stroke-width="1.6"/>
<text x="376.4" y="32.7" font-size="7.9" fill="#161616">Co foil</text>
<line x1="359.5" y1="42.2" x2="374.5" y2="42.2" stroke="#a88a38" stroke-width="1.6"/>
<text x="376.4" y="45.1" font-size="7.9" fill="#161616">CoO</text>
<text x="291.6" y="45.1" font-size="7.9" fill="#161616">Co<tspan font-size="5.6" dy="1.6">2</tspan><tspan dy="-1.6">O</tspan><tspan font-size="5.6" dy="1.6">3</tspan></text>
<text x="224.3" y="11.7" font-size="14" font-weight="bold">b</text>
<clipPath id="cpc"><rect x="482.4" y="9.3" width="196.8" height="145.7"/></clipPath>
<g clip-path="url(#cpc)" stroke-linejoin="round">
<path d="M482 45.37 L484.43 45.33 L487.89 45.28 L491.88 45.21 L495.92 45.14 L499.52 45.08 L502.67 45.02 L505.71 44.96 L508.63 44.91 L511.43 44.85 L514.12 44.79 L516.72 44.76 L519.25 44.76 L521.64 44.74 L523.84 44.67 L525.8 44.5 L527.46 44.18 L528.87 43.75 L530.09 43.27 L531.19 42.81 L532.22 42.45 L533.14 42.16 L533.9 41.89 L534.58 41.68 L535.26 41.56 L536.01 41.58 L536.85 41.98 L537.72 42.75 L538.61 43.49 L539.51 43.81 L540.39 43.33 L541.27 41.83 L542.15 39.58 L543.02 36.89 L543.9 34.05 L544.77 31.36 L545.65 28.67 L546.53 25.79 L547.4 22.94 L548.28 20.34 L549.15 18.22 L550.04 16.57 L550.93 15.24 L551.82 14.24 L552.69 13.58 L553.53 13.26 L554.33 13.28 L555.11 13.65 L555.86 14.36 L556.6 15.4 L557.33 16.76 L558.04 18.58 L558.74 20.87 L559.42 23.42 L560.12 26.01 L560.83 28.44 L561.58 30.79 L562.34 33.21 L563.12 35.56 L563.88 37.72 L564.63 39.53 L565.29 41.07 L565.87 42.41 L566.47 43.48 L567.19 44.2 L568.13 44.5 L569.35 44.11 L570.78 43.09 L572.33 41.83 L573.91 40.71 L575.43 40.12 L576.87 40.24 L578.28 40.82 L579.71 41.57 L581.18 42.21 L582.73 42.45 L584.39 42.11 L586.13 41.38 L587.92 40.53 L589.71 39.83 L591.49 39.53 L593.26 39.84 L595.06 40.56 L596.85 41.42 L598.59 42.15 L600.25 42.45 L601.82 42.23 L603.34 41.68 L604.8 40.94 L606.2 40.17 L607.55 39.53 L608.81 38.96 L609.99 38.36 L611.12 37.81 L612.24 37.39 L613.39 37.2 L614.55 37.27 L615.72 37.56 L616.89 37.99 L618.06 38.48 L619.23 38.95 L620.32 39.49 L621.35 40.16 L622.41 40.82 L623.62 41.34 L625.07 41.58 L626.9 41.41 L629.05 40.93 L631.3 40.32 L633.45 39.79 L635.28 39.53 L636.71 39.58 L637.87 39.81 L638.89 40.16 L639.93 40.57 L641.12 40.99 L642.47 41.47 L643.87 42.03 L645.33 42.62 L646.85 43.17 L648.42 43.62 L650.04 43.96 L651.68 44.23 L653.4 44.45 L655.22 44.63 L657.18 44.79 L659.31 44.9 L661.57 44.97 L663.94 45.01 L666.39 45.04 L668.86 45.08 L671.61 45.14 L674.64 45.21 L677.62 45.28 L680.19 45.33 L682 45.37" fill="none" stroke="#8c8c8c" stroke-width="1.45"/>
<path d="M482 57.64 L483.49 57.61 L485.55 57.58 L488.03 57.54 L490.78 57.46 L493.68 57.34 L496.86 57.16 L500.41 56.92 L504.12 56.66 L507.79 56.4 L511.2 56.18 L514.35 55.97 L517.39 55.76 L520.31 55.57 L523.11 55.41 L525.8 55.3 L528.39 55.22 L530.89 55.15 L533.26 55.13 L535.47 55.17 L537.47 55.3 L539.21 55.6 L540.71 56.07 L542.06 56.56 L543.38 56.93 L544.77 57.05 L546.21 56.81 L547.62 56.31 L549.05 55.7 L550.52 55.12 L552.07 54.72 L553.77 54.55 L555.58 54.54 L557.43 54.57 L559.21 54.56 L560.83 54.42 L562.28 54.07 L563.63 53.56 L564.88 53.03 L566.08 52.59 L567.26 52.38 L568.4 52.42 L569.48 52.64 L570.53 52.98 L571.53 53.4 L572.51 53.84 L573.44 54.36 L574.33 55 L575.18 55.67 L576.03 56.28 L576.89 56.76 L577.56 57.1 L578.01 57.37 L578.57 57.55 L579.55 57.64 L581.27 57.64 L583.98 57.46 L587.47 57.14 L591.36 56.75 L595.26 56.39 L598.79 56.18 L601.89 56.14 L604.84 56.22 L607.69 56.35 L610.51 56.46 L613.39 56.47 L616.26 56.34 L619.09 56.13 L621.94 55.89 L624.88 55.69 L627.99 55.59 L631.3 55.61 L634.78 55.72 L638.36 55.87 L641.95 56.04 L645.5 56.18 L648.98 56.3 L652.44 56.42 L655.91 56.55 L659.42 56.66 L663.02 56.76 L667.03 56.84 L671.42 56.91 L675.71 56.97 L679.4 57.02 L682 57.05" fill="none" stroke="#a39126" stroke-width="1.45"/>
<path d="M482 78.07 L482.99 77.97 L484.39 77.8 L486.03 77.62 L487.72 77.5 L489.3 77.49 L490.76 77.66 L492.22 77.97 L493.68 78.32 L495.14 78.58 L496.6 78.66 L498.06 78.45 L499.52 78.03 L500.98 77.54 L502.44 77.12 L503.9 76.91 L505.38 77.01 L506.89 77.33 L508.38 77.72 L509.83 78.02 L511.2 78.07 L512.46 77.87 L513.64 77.52 L514.77 77.03 L515.89 76.43 L517.04 75.74 L518.23 74.91 L519.44 73.94 L520.65 72.89 L521.8 71.81 L522.88 70.77 L523.85 69.73 L524.76 68.63 L525.62 67.56 L526.44 66.6 L527.26 65.81 L528.06 65.19 L528.83 64.68 L529.58 64.31 L530.32 64.1 L531.05 64.06 L531.76 64.21 L532.43 64.53 L533.1 65.01 L533.8 65.64 L534.55 66.39 L535.35 67.35 L536.17 68.51 L537.04 69.77 L537.95 71.05 L538.93 72.23 L540.03 73.38 L541.24 74.56 L542.47 75.69 L543.68 76.69 L544.77 77.49 L545.74 78.08 L546.63 78.51 L547.47 78.8 L548.3 78.94 L549.15 78.95 L550.03 78.75 L550.91 78.34 L551.78 77.83 L552.66 77.31 L553.53 76.91 L554.39 76.58 L555.21 76.26 L556.06 75.99 L556.94 75.81 L557.91 75.74 L558.99 75.84 L560.14 76.11 L561.35 76.43 L562.56 76.73 L563.75 76.91 L564.92 76.91 L566.09 76.81 L567.26 76.67 L568.42 76.58 L569.59 76.61 L570.76 76.84 L571.93 77.2 L573.09 77.59 L574.26 77.92 L575.43 78.07 L576.6 77.96 L577.77 77.65 L578.93 77.29 L580.1 76.99 L581.27 76.91 L582.44 77.11 L583.61 77.51 L584.77 77.98 L585.94 78.41 L587.11 78.66 L588.28 78.7 L589.45 78.62 L590.61 78.46 L591.78 78.26 L592.95 78.07 L594.12 77.88 L595.28 77.65 L596.45 77.4 L597.62 77.15 L598.79 76.91 L599.96 76.63 L601.12 76.33 L602.29 76.04 L603.46 75.82 L604.63 75.74 L605.8 75.83 L606.96 76.06 L608.13 76.37 L609.3 76.67 L610.47 76.91 L611.59 77.08 L612.66 77.24 L613.76 77.37 L614.95 77.46 L616.31 77.49 L617.87 77.45 L619.6 77.34 L621.42 77.19 L623.27 77.04 L625.07 76.91 L626.86 76.76 L628.71 76.59 L630.53 76.43 L632.26 76.33 L633.82 76.32 L635.18 76.45 L636.37 76.69 L637.47 76.98 L638.54 77.26 L639.66 77.49 L640.79 77.67 L641.86 77.85 L642.96 77.99 L644.15 78.08 L645.5 78.07 L647.07 77.91 L648.8 77.62 L650.62 77.29 L652.46 77.02 L654.26 76.91 L656.01 77.02 L657.77 77.29 L659.52 77.62 L661.27 77.91 L663.02 78.07 L664.75 78.06 L666.46 77.94 L668.17 77.76 L669.94 77.6 L671.78 77.49 L673.89 77.45 L676.25 77.45 L678.58 77.46 L680.59 77.48 L682 77.49" fill="none" stroke="#e38cf0" stroke-width="1.45"/>
<path d="M482 97.77 L482.99 97.69 L484.39 97.57 L486.03 97.43 L487.72 97.3 L489.3 97.19 L490.74 97.12 L492.15 97.07 L493.57 97.02 L495.05 96.97 L496.6 96.9 L498.3 96.83 L500.14 96.77 L501.99 96.69 L503.77 96.55 L505.36 96.31 L506.74 95.97 L507.97 95.53 L509.11 95.04 L510.17 94.51 L511.2 93.98 L512.12 93.46 L512.91 92.95 L513.68 92.4 L514.54 91.78 L515.58 91.06 L516.87 90.15 L518.36 89.07 L519.92 87.95 L521.46 86.91 L522.88 86.09 L524.16 85.47 L525.39 84.97 L526.55 84.6 L527.66 84.38 L528.72 84.34 L529.71 84.52 L530.64 84.88 L531.52 85.4 L532.34 86.02 L533.09 86.68 L533.77 87.41 L534.37 88.26 L534.92 89.17 L535.45 90.11 L536.01 91.06 L536.6 92.12 L537.18 93.32 L537.77 94.49 L538.35 95.45 L538.93 96.02 L539.52 96.11 L540.1 95.83 L540.69 95.34 L541.27 94.77 L541.85 94.27 L542.42 93.79 L542.98 93.24 L543.54 92.69 L544.13 92.22 L544.77 91.93 L545.48 91.85 L546.24 91.92 L547.03 92.08 L547.81 92.3 L548.57 92.52 L549.27 92.77 L549.95 93.08 L550.62 93.42 L551.32 93.73 L552.07 93.98 L552.89 94.16 L553.76 94.29 L554.66 94.39 L555.56 94.48 L556.45 94.56 L557.28 94.67 L558.06 94.8 L558.87 94.9 L559.77 94.93 L560.83 94.85 L562.11 94.57 L563.54 94.1 L565.07 93.61 L566.62 93.22 L568.13 93.1 L569.59 93.37 L571.05 93.92 L572.51 94.58 L573.97 95.15 L575.43 95.44 L576.94 95.33 L578.49 94.96 L580.02 94.49 L581.46 94.11 L582.73 93.98 L583.79 94.16 L584.69 94.53 L585.5 95.02 L586.28 95.54 L587.11 96.02 L587.99 96.55 L588.86 97.16 L589.74 97.75 L590.61 98.18 L591.49 98.36 L592.39 98.17 L593.31 97.7 L594.22 97.1 L595.09 96.49 L595.87 96.02 L596.48 95.7 L596.93 95.44 L597.38 95.22 L597.95 95.03 L598.79 94.85 L599.97 94.7 L601.39 94.56 L602.96 94.45 L604.56 94.36 L606.09 94.27 L607.55 94.17 L609.01 94.08 L610.47 94 L611.93 93.96 L613.39 93.98 L614.85 94.08 L616.31 94.26 L617.77 94.47 L619.23 94.68 L620.69 94.85 L622.12 94.99 L623.54 95.11 L624.96 95.22 L626.43 95.33 L627.99 95.44 L629.64 95.55 L631.38 95.66 L633.17 95.77 L634.97 95.89 L636.74 96.02 L638.5 96.21 L640.25 96.44 L642 96.66 L643.75 96.83 L645.5 96.9 L647.26 96.82 L649.01 96.63 L650.76 96.39 L652.51 96.17 L654.26 96.02 L656.01 95.96 L657.77 95.93 L659.52 95.94 L661.27 95.97 L663.02 96.02 L664.75 96.11 L666.46 96.23 L668.17 96.37 L669.94 96.5 L671.78 96.61 L673.89 96.69 L676.25 96.76 L678.58 96.82 L680.59 96.86 L682 96.9" fill="none" stroke="#d93c70" stroke-width="1.45"/>
<path d="M482 118.21 L482.79 118.13 L483.92 118.01 L485.22 117.87 L486.58 117.74 L487.84 117.63 L489.01 117.56 L490.18 117.5 L491.34 117.46 L492.51 117.41 L493.68 117.34 L494.87 117.24 L496.08 117.14 L497.29 117.02 L498.44 116.89 L499.52 116.75 L500.5 116.54 L501.4 116.27 L502.26 116.01 L503.08 115.85 L503.9 115.88 L504.71 116.21 L505.5 116.8 L506.27 117.46 L507 117.99 L507.69 118.21 L508.32 118.12 L508.9 117.85 L509.45 117.39 L510.01 116.74 L510.61 115.88 L511.26 114.71 L511.93 113.24 L512.62 111.63 L513.35 110.02 L514.12 108.58 L514.94 107.26 L515.81 105.97 L516.7 104.75 L517.61 103.66 L518.5 102.74 L519.39 101.99 L520.29 101.37 L521.19 100.89 L522.06 100.57 L522.88 100.4 L523.63 100.39 L524.33 100.53 L525 100.82 L525.67 101.27 L526.38 101.86 L527.12 102.64 L527.89 103.59 L528.66 104.69 L529.43 105.87 L530.18 107.12 L530.91 108.53 L531.65 110.13 L532.38 111.76 L533.06 113.24 L533.68 114.42 L534.21 115.28 L534.67 115.93 L535.09 116.39 L535.53 116.66 L536.01 116.75 L536.56 116.56 L537.14 116.08 L537.74 115.47 L538.34 114.86 L538.93 114.42 L539.52 114.12 L540.1 113.88 L540.69 113.69 L541.27 113.58 L541.85 113.54 L542.44 113.59 L543.02 113.74 L543.61 113.94 L544.19 114.18 L544.77 114.42 L545.31 114.71 L545.8 115.07 L546.32 115.43 L546.92 115.72 L547.69 115.88 L548.65 115.85 L549.75 115.68 L550.95 115.44 L552.22 115.19 L553.53 115 L554.88 114.83 L556.28 114.65 L557.74 114.49 L559.26 114.4 L560.83 114.42 L562.51 114.61 L564.3 114.96 L566.12 115.36 L567.91 115.7 L569.59 115.88 L571.14 115.83 L572.62 115.64 L574.04 115.38 L575.45 115.14 L576.89 115 L578.35 114.97 L579.81 115 L581.27 115.08 L582.73 115.18 L584.19 115.29 L585.65 115.45 L587.11 115.66 L588.57 115.87 L590.03 116.06 L591.49 116.17 L592.95 116.17 L594.41 116.11 L595.87 116.01 L597.33 115.92 L598.79 115.88 L600.25 115.89 L601.71 115.94 L603.17 116 L604.63 116.08 L606.09 116.17 L607.52 116.27 L608.94 116.39 L610.36 116.53 L611.83 116.65 L613.39 116.75 L615 116.81 L616.65 116.85 L618.36 116.88 L620.18 116.93 L622.15 117.04 L624.36 117.27 L626.82 117.59 L629.33 117.91 L631.72 118.15 L633.82 118.21 L635.61 118.03 L637.2 117.67 L638.62 117.22 L639.92 116.78 L641.12 116.46 L642.07 116.25 L642.74 116.1 L643.37 115.99 L644.21 115.92 L645.5 115.88 L647.37 115.87 L649.65 115.92 L652.16 115.99 L654.73 116.08 L657.18 116.17 L659.49 116.27 L661.78 116.38 L664.08 116.5 L666.43 116.63 L668.86 116.75 L671.61 116.88 L674.64 117.01 L677.62 117.14 L680.19 117.26 L682 117.34" fill="none" stroke="#6cbb47" stroke-width="1.45"/>
<path d="M482 149.45 L482.99 149.37 L484.39 149.25 L486.03 149.11 L487.72 148.98 L489.3 148.87 L490.76 148.8 L492.22 148.74 L493.68 148.7 L495.14 148.65 L496.6 148.58 L498.06 148.49 L499.52 148.41 L500.98 148.3 L502.44 148.17 L503.9 147.99 L505.38 147.76 L506.89 147.47 L508.38 147.16 L509.83 146.84 L511.2 146.53 L512.48 146.26 L513.71 146.02 L514.88 145.76 L515.99 145.46 L517.04 145.07 L518.01 144.61 L518.89 144.08 L519.73 143.5 L520.56 142.85 L521.42 142.15 L522.29 141.32 L523.17 140.37 L524.04 139.39 L524.92 138.49 L525.8 137.77 L526.69 137.25 L527.62 136.84 L528.53 136.55 L529.39 136.37 L530.18 136.31 L530.85 136.35 L531.45 136.48 L532 136.73 L532.53 137.15 L533.09 137.77 L533.68 138.66 L534.26 139.79 L534.85 141.07 L535.43 142.38 L536.01 143.61 L536.61 144.99 L537.21 146.58 L537.81 148.06 L538.39 149.13 L538.93 149.45 L539.42 148.91 L539.85 147.72 L540.28 146.06 L540.74 144.14 L541.27 142.15 L541.89 139.94 L542.57 137.38 L543.3 134.7 L544.04 132.12 L544.77 129.89 L545.53 127.97 L546.33 126.21 L547.12 124.65 L547.88 123.33 L548.57 122.3 L549.16 121.6 L549.68 121.2 L550.16 121.04 L550.65 121.04 L551.2 121.13 L551.8 121.32 L552.43 121.66 L553.08 122.13 L553.74 122.74 L554.41 123.47 L555.09 124.32 L555.79 125.3 L556.5 126.41 L557.21 127.65 L557.91 129.01 L558.61 130.61 L559.3 132.43 L559.99 134.33 L560.7 136.16 L561.42 137.77 L562.15 139.16 L562.89 140.42 L563.64 141.56 L564.41 142.62 L565.21 143.61 L566.07 144.55 L566.99 145.43 L567.92 146.22 L568.8 146.89 L569.59 147.41 L570.22 147.76 L570.72 147.97 L571.2 148.06 L571.76 148.06 L572.51 147.99 L573.49 147.83 L574.64 147.56 L575.87 147.21 L577.14 146.86 L578.35 146.53 L579.54 146.21 L580.76 145.85 L581.96 145.51 L583.12 145.23 L584.19 145.07 L585.16 145.05 L586.05 145.15 L586.89 145.3 L587.72 145.49 L588.57 145.66 L589.42 145.8 L590.25 145.96 L591.09 146.13 L591.98 146.32 L592.95 146.53 L594.05 146.88 L595.25 147.36 L596.49 147.8 L597.69 148.07 L598.79 147.99 L599.77 147.5 L600.67 146.69 L601.53 145.69 L602.35 144.62 L603.17 143.61 L603.97 142.59 L604.74 141.47 L605.49 140.37 L606.23 139.39 L606.96 138.65 L607.68 138.18 L608.39 137.89 L609.08 137.76 L609.77 137.73 L610.47 137.77 L611.16 137.88 L611.85 138.09 L612.55 138.39 L613.25 138.77 L613.97 139.23 L614.7 139.82 L615.44 140.54 L616.19 141.32 L616.97 142.08 L617.77 142.74 L618.59 143.37 L619.43 144.04 L620.3 144.62 L621.2 145 L622.15 145.07 L623.15 144.72 L624.2 144.01 L625.28 143.12 L626.36 142.25 L627.4 141.57 L628.42 141.05 L629.44 140.57 L630.44 140.18 L631.41 139.92 L632.36 139.82 L633.28 139.91 L634.16 140.15 L635.02 140.53 L635.88 141.01 L636.74 141.57 L637.62 142.24 L638.5 143.05 L639.37 143.93 L640.25 144.82 L641.12 145.66 L642 146.54 L642.88 147.52 L643.75 148.43 L644.63 149.13 L645.5 149.45 L646.33 149.28 L647.12 148.7 L647.92 147.92 L648.82 147.13 L649.88 146.53 L651.16 146.11 L652.59 145.75 L654.12 145.44 L655.68 145.21 L657.18 145.07 L658.64 145.05 L660.1 145.15 L661.56 145.3 L663.02 145.49 L664.48 145.66 L665.89 145.8 L667.26 145.96 L668.65 146.13 L670.13 146.32 L671.78 146.53 L673.8 146.81 L676.15 147.14 L678.51 147.49 L680.56 147.78 L682 147.99" fill="none" stroke="#35b3ea" stroke-width="1.45"/>
</g>
<line x1="482.4" y1="9.3" x2="679.2" y2="9.3" stroke="#444" stroke-width="1"/>
<line x1="679.2" y1="9.3" x2="679.2" y2="155" stroke="#444" stroke-width="1"/>
<line x1="482.4" y1="155" x2="679.2" y2="155" stroke="#444" stroke-width="1"/>
<line x1="482.4" y1="9.3" x2="482.4" y2="155" stroke="#8a8a8a" stroke-width="1.1"/>
<line x1="482.5" y1="155" x2="482.5" y2="157.6" stroke="#444" stroke-width="0.9"/>
<text x="482.5" y="167.4" font-size="9" text-anchor="middle" fill="#161616">0</text>
<line x1="498.9" y1="155" x2="498.9" y2="156.5" stroke="#444" stroke-width="0.9"/>
<line x1="515.3" y1="155" x2="515.3" y2="157.6" stroke="#444" stroke-width="0.9"/>
<text x="515.3" y="167.4" font-size="9" text-anchor="middle" fill="#161616">1</text>
<line x1="531.7" y1="155" x2="531.7" y2="156.5" stroke="#444" stroke-width="0.9"/>
<line x1="548.1" y1="155" x2="548.1" y2="157.6" stroke="#444" stroke-width="0.9"/>
<text x="548.1" y="167.4" font-size="9" text-anchor="middle" fill="#161616">2</text>
<line x1="564.5" y1="155" x2="564.5" y2="156.5" stroke="#444" stroke-width="0.9"/>
<line x1="580.9" y1="155" x2="580.9" y2="157.6" stroke="#444" stroke-width="0.9"/>
<text x="580.9" y="167.4" font-size="9" text-anchor="middle" fill="#161616">3</text>
<line x1="597.3" y1="155" x2="597.3" y2="156.5" stroke="#444" stroke-width="0.9"/>
<line x1="613.7" y1="155" x2="613.7" y2="157.6" stroke="#444" stroke-width="0.9"/>
<text x="613.7" y="167.4" font-size="9" text-anchor="middle" fill="#161616">4</text>
<line x1="630.1" y1="155" x2="630.1" y2="156.5" stroke="#444" stroke-width="0.9"/>
<line x1="646.5" y1="155" x2="646.5" y2="157.6" stroke="#444" stroke-width="0.9"/>
<text x="646.5" y="167.4" font-size="9" text-anchor="middle" fill="#161616">5</text>
<line x1="662.9" y1="155" x2="662.9" y2="156.5" stroke="#444" stroke-width="0.9"/>
<line x1="679.3" y1="155" x2="679.3" y2="157.6" stroke="#444" stroke-width="0.9"/>
<text x="679.3" y="167.4" font-size="9" text-anchor="middle" fill="#161616">6</text>
<text x="581.4" y="177.6" font-size="9.3" text-anchor="middle" fill="#161616"><tspan font-style="italic">R</tspan> (Å)</text>
<text x="0" y="0" font-size="9.0" text-anchor="middle" fill="#161616" transform="translate(471.7 83.5) rotate(-90)">Intensity (arb. units)</text>
<text x="565.8" y="21.8" font-size="8.6" fill="#161616">Co-Co</text>
<text x="676" y="36.6" font-size="8.0" text-anchor="end" fill="#161616">Co foil *0.5</text>
<text x="664.3" y="54.1" font-size="8.0" text-anchor="end" fill="#161616">CoO</text>
<text x="495.2" y="65.8" font-size="8.6" fill="#161616">Co-N/C</text>
<text x="666.2" y="73.7" font-size="8.0" text-anchor="end" fill="#161616">CoPc</text>
<text x="676.9" y="91.6" font-size="8.0" text-anchor="end" fill="#161616">CoNC-MSi1</text>
<text x="676.9" y="110.6" font-size="8.0" text-anchor="end" fill="#161616">CoNC-MSi2</text>
<text x="671.8" y="137.8" font-size="8.0" text-anchor="end" fill="#161616">CoNC-Si</text>
<text x="464.4" y="11.1" font-size="14" font-weight="bold">c</text>
<clipPath id="cw1"><rect x="26.6" y="193.8" width="188.4" height="153"/></clipPath>
<g clip-path="url(#cw1)">
<rect x="26.6" y="193.8" width="188.4" height="153" fill="#00007f"/>
<path d="M87.5 309.2 116 310 150.5 310.4 185 310.2 215.9 309.4 215.9 282.1 167.2 281.1 122 281.4 75.6 282.8 49.4 284.2 25.7 286 25.7 305.6 60.1 308 87.5 309.2ZM108.9 270.3 137.4 271.3 168.4 271.6 191 270.8 215.9 269 215.9 259 211.2 257 209.6 255.7 209.3 254.1 210.3 252.5 212.5 250.9 215.9 249.3 215.9 222.9 176.7 212 167.2 210.8 157.7 210.7 150.5 211.4 144.6 212.5 111.3 221.2 99.4 224.6 87.5 229.2 78 233.7 73.6 236.3 71.6 237.9 70.4 239.5 70.2 241.1 71 242.8 74.4 245.4 90.5 252.5 93.2 254.1 94.4 255.7 93.1 257.3 88.6 259 73.9 262.2 68.9 263.8 68.2 265.4 73.2 267.1 82.7 268.4 108.9 270.3Z" fill="#0000f1" fill-rule="evenodd"/>
<path d="M114.9 307.6 164.8 308.1 215.9 307 215.9 284.6 192.2 283.9 164.8 283.5 136.3 283.6 108.9 284.1 63.7 286.2 43.5 287.8 25.7 290 25.7 301.6 41.1 303.6 62.5 305.4 88.7 306.8 114.9 307.6ZM139.8 267.1 160 268 174.3 267.8 187.4 266.6 193.4 265.4 195.7 264.5 197 263.8 197.4 262.2 195.4 259 194.9 257.3 195.1 255.7 196.2 254.1 198 252.5 203.4 249.2 215.9 243.6 215.9 232.1 211.2 229.8 205.2 227.7 191 224.3 174.3 221.9 166 221.4 157.7 221.3 141 222.6 123.2 225.6 110.1 229.3 97 234.7 91.1 237.9 89.6 239.5 89.4 241.1 90.6 242.8 93.2 244.4 96.9 246 121.2 254.1 125.5 255.7 127.9 257.3 127.7 259 124.8 260.6 120.8 262.2 118.9 263.8 123 265.4 139.8 267.1Z" fill="#004cff" fill-rule="evenodd"/>
<path d="M114.9 306 138.6 306.4 164.8 306.5 188.6 306.1 215.9 305.2 215.9 286.4 193.3 285.6 167.2 285.1 139.8 285.1 113.7 285.6 87.5 286.7 69.7 287.8 51.8 289.4 38.1 291.4 30.4 293.3 27.4 294.6 26.6 296.2 28.9 297.8 36.4 299.9 49.4 301.9 67.3 303.6 89.9 305.1 114.9 306ZM163.6 263.9 171.9 263.7 178.3 262.2 180.2 260.6 181.3 255.7 182.6 254.1 184.8 252.5 198.6 246 204.3 242.8 206 241.1 206.9 239.5 206.8 237.9 205.8 236.3 204 234.7 200.5 232.7 196.9 231.3 191 229.5 177.9 227.2 163.6 226.2 149.3 226.6 135.1 228.4 123.2 231.3 118.2 233 111.1 236.3 108.6 237.9 107.2 239.5 107.2 241.1 108.7 242.8 111.6 244.4 117.2 246.5 125.6 249.1 147.3 254.1 151.3 255.7 153.1 257.3 154.3 260.6 155.9 262.2 160 263.4 163.6 263.9Z" fill="#00b0ff" fill-rule="evenodd"/>
<path d="M106.5 304.3 132.7 305.1 162.4 305.2 189.8 304.8 215.9 303.7 215.9 287.9 194.5 286.9 169.6 286.4 124.4 286.7 103 287.4 83.9 288.4 68 289.7 54.9 291.4 46.8 293 42.5 294.6 41.7 296.2 44.3 297.8 49.4 299.2 61.1 301.1 72 302.2 88.7 303.5 106.5 304.3ZM152.9 249.3 160 249.9 166 250 170.7 249.5 176.7 248.4 183.8 246.3 188.4 244.4 191.1 242.8 192.2 241.7 192.7 241.1 193.2 239.5 192.8 237.9 191.1 236.3 188.2 234.7 181.5 232.5 173.1 231.1 163.6 230.4 154.1 230.5 144.7 231.4 136.6 233 131.5 234.7 127.9 236.3 125.5 237.9 124.4 239.5 124.7 241.1 126.5 242.8 129.1 244.1 134.6 246 142.2 247.7 152.9 249.3Z" fill="#29ffcd" fill-rule="evenodd"/>
<path d="M99.4 302.7 127.9 303.8 158.9 304.1 189.8 303.6 215.9 302.4 215.9 289.2 179.1 287.7 139.8 287.5 101.8 288.7 86.2 289.7 73.2 291 60.8 293 55.9 294.6 55 296.2 57.9 297.8 65.1 299.5 74.4 300.7 99.4 302.7ZM149.3 242.8 157.7 243.9 166 243.6 171.9 242.3 174.4 241.1 175.2 239.5 173.8 237.9 168.4 236.2 161.2 235.5 152.9 236 150.5 236.4 146.1 237.9 144.5 239.5 145.4 241.1 149.3 242.8Z" fill="#7cff79" fill-rule="evenodd"/>
<path d="M126.7 302.7 150.5 303.1 174.3 302.9 196.9 302.2 215.9 301 215.9 290.6 183.8 288.9 144.6 288.5 107.7 289.6 92.3 290.7 81.6 291.8 73.9 293 68.4 294.6 67.3 296.2 70.7 297.8 79 299.5 94.3 301.1 126.7 302.7Z" fill="#cdff29" fill-rule="evenodd"/>
<path d="M113.7 301.1 138.6 302 164.8 302 189.8 301.4 210 300.1 215.9 299.5 215.9 292.2 207.6 291.3 192.2 290.3 161.2 289.5 129.1 289.9 101 291.4 87.1 293 80.5 294.6 79.3 296.2 83.2 297.8 93.2 299.5 113.7 301.1Z" fill="#ffc400" fill-rule="evenodd"/>
<path d="M152.9 301.1 177.9 300.7 200.5 299.5 213.6 297.7 215.9 296.9 215.9 294.5 208.4 293 195.7 291.8 166 290.6 130.3 290.9 117.2 291.6 103 292.8 92.9 294.6 91.5 296.2 96.2 297.8 109 299.5 118.4 300.1 135.1 300.8 152.9 301.1Z" fill="#ff6700" fill-rule="evenodd"/>
<path d="M130.3 299.5 155.3 300 179.3 299.5 198.7 297.8 204.8 296.2 202.9 294.6 192.1 293 182.6 292.4 157.7 291.6 131.5 292.1 117.3 293 111.3 293.8 106.4 294.6 104.6 296.2 110.7 297.8 130.3 299.5Z" fill="#f10700" fill-rule="evenodd"/>
<path d="M130.3 297.9 148.2 298.5 166 298.4 179.3 297.8 189 296.2 186.3 294.6 176.7 293.7 162.8 293 146.6 293 135.1 293.5 123.1 294.6 120.4 296.2 130.3 297.9Z" fill="#7f0000" fill-rule="evenodd"/>
<path d="M25.7 305.6 66.1 308.4 113.7 310 167.2 310.4 215.9 309.4M215.9 282.1 167.2 281.1 122 281.4 75.6 282.8 49.4 284.2 25.7 286M215.9 259 211.2 257 209.6 255.7 209.3 254.1 210.3 252.5 212.5 250.9 215.9 249.3M215.9 222.9 179.1 212.5 170.7 211.1 162.4 210.6 154.1 211 145.8 212.2 105.3 222.8 95.8 225.8 87.5 229.2 76.8 234.4 71.6 237.9 70.4 239.5 70.2 241.1 71 242.8 72.8 244.4 78 247.2 90.5 252.5 93.2 254.1 94.4 255.7 93.1 257.3 88.6 259 73.9 262.2 68.9 263.8 68.2 265.4 73.2 267.1 87.5 268.9 110.1 270.4 133.9 271.3 158.9 271.6 176.7 271.4 195.7 270.5 215.9 269M25.7 301.6 39.9 303.4 59 305.1 82.7 306.5 104.2 307.3 132.7 307.9 160 308.1 215.9 307M215.9 284.6 192.2 283.9 164.8 283.5 136.3 283.6 108.9 284.1 63.7 286.2 43.5 287.8 25.7 290M215.9 232.1 211.2 229.8 204 227.3 196.9 225.5 187.4 223.6 177.9 222.3 168.4 221.5 160 221.3 151.7 221.6 141 222.6 130.3 224.2 120.8 226.2 112.5 228.5 103 232 93.7 236.3 91.1 237.9 89.6 239.5 89.4 241.1 90.6 242.8 93.2 244.4 96.9 246 121.2 254.1 125.5 255.7 127.9 257.3 127.7 259 124.8 260.6 120.8 262.2 118.9 263.8 122 265.1 126.7 265.9 139.3 267.1 160 268 170.7 267.9 180.3 267.4 188.6 266.4 194.5 265 197 263.8 197.4 262.2 195.4 259 194.9 257.3 195.1 255.7 196.2 254.1 198 252.5 203.4 249.2 215.9 243.6M215.9 286.4 185 285.4 149.3 285.1 116 285.6 85.1 286.8 59 288.7 39.9 291.1 31.1 293 27.4 294.6 26.6 296.2 28.9 297.8 34.3 299.5 44.7 301.3 64.9 303.4 91.1 305.1 123.2 306.2 152.9 306.5 183.8 306.2 215.9 305.2M163.6 263.9 171.9 263.7 178.3 262.2 180.2 260.6 181.3 255.7 182.6 254.1 184.8 252.5 198.6 246 204.3 242.8 206 241.1 206.9 239.5 206.8 237.9 205.8 236.3 204 234.7 200.5 232.7 196.9 231.3 191 229.5 177.9 227.2 163.6 226.2 149.3 226.6 135.1 228.4 123.2 231.3 118.2 233 111.1 236.3 108.6 237.9 107.2 239.5 107.2 241.1 108.7 242.8 111.6 244.4 117.2 246.5 125.6 249.1 147.3 254.1 151.3 255.7 153.1 257.3 154.3 260.6 155.9 262.2 160 263.4 163.6 263.9M215.9 287.9 189.8 286.8 157.7 286.4 126.7 286.6 99.4 287.6 74.4 289.2 54.9 291.4 45.9 293.3 42.5 294.6 41.7 296.2 44.3 297.8 48.3 298.9 61.1 301.1 80.4 302.9 101.8 304.1 130.3 305 160 305.3 188.6 304.8 215.9 303.7M152.9 249.3 160 249.9 166 250 170.7 249.5 176.7 248.4 183.8 246.3 188.4 244.4 191.1 242.8 192.2 241.7 192.7 241.1 193.2 239.5 192.8 237.9 191.1 236.3 188.2 234.7 181.5 232.5 173.1 231.1 163.6 230.4 154.1 230.5 144.7 231.4 136.6 233 131.5 234.7 127.9 236.3 125.5 237.9 124.4 239.5 124.7 241.1 126.5 242.8 129.1 244.1 134.6 246 142.2 247.7 152.9 249.3M215.9 289.2 189.8 288 163.6 287.5 135.1 287.6 108.9 288.4 87.5 289.6 70.2 291.4 60.1 293.2 55.9 294.6 55 296.2 59 298.1 65.1 299.5 73.2 300.6 91.1 302.2 113.7 303.4 139.8 304 167.2 304.1 193.3 303.5 215.9 302.4M149.3 242.8 157.7 243.9 166 243.6 171.9 242.3 174.4 241.1 175.2 239.5 173.8 237.9 168.4 236.2 161.2 235.5 152.9 236 150.5 236.4 146.1 237.9 144.5 239.5 145.4 241.1 149.3 242.8M215.9 290.6 194.5 289.3 169.6 288.6 143.4 288.6 118.4 289.2 98.2 290.2 81.6 291.8 73.9 293 68.5 294.6 67.3 296.2 70.7 297.8 79 299.5 83.9 300.1 100.6 301.5 123.2 302.6 147 303.1 171.9 303 195.7 302.2 215.9 301M215.9 292.2 199.3 290.7 176.7 289.8 152.9 289.5 130.3 289.8 106.5 291 91.1 292.5 87.1 293 80.5 294.6 79.3 296.2 83.2 297.8 93.4 299.5 113.5 301.1 133.9 301.9 156.5 302.1 179.1 301.8 196.9 301 215.9 299.5M215.9 294.5 208.4 293 189.3 291.4 167.2 290.6 144.6 290.6 120.1 291.4 103 292.8 92.9 294.6 91.5 296.2 96.2 297.8 109 299.5 129.1 300.6 150.5 301.1 173.1 300.8 193.3 300 208.8 298.5 213.2 297.8 215.9 296.9M130.3 299.5 155.3 300 179.3 299.5 198.7 297.8 204.8 296.2 202.9 294.6 192.1 293 182.6 292.4 157.7 291.6 131.5 292.1 117.3 293 111.3 293.8 106.4 294.6 104.6 296.2 110.7 297.8 130.3 299.5M130.3 297.9 148.2 298.5 166 298.4 179.3 297.8 189 296.2 186.3 294.6 176.7 293.7 162.8 293 146.6 293 135.1 293.5 123.1 294.6 120.4 296.2 130.3 297.9" fill="none" stroke="#000" stroke-opacity="0.55" stroke-width="0.4"/>
</g>
<rect x="26.6" y="193.8" width="188.4" height="153" fill="none" stroke="#222" stroke-width="0.9"/>
<line x1="26.6" y1="346.8" x2="24.4" y2="346.8" stroke="#161616" stroke-width="0.8"/>
<text x="21.7" y="350" font-size="9.0" text-anchor="end" fill="#161616">0</text>
<line x1="26.6" y1="334.05" x2="25.3" y2="334.05" stroke="#161616" stroke-width="0.8"/>
<line x1="26.6" y1="321.3" x2="24.4" y2="321.3" stroke="#161616" stroke-width="0.8"/>
<text x="21.7" y="324.5" font-size="9.0" text-anchor="end" fill="#161616">1</text>
<line x1="26.6" y1="308.55" x2="25.3" y2="308.55" stroke="#161616" stroke-width="0.8"/>
<line x1="26.6" y1="295.8" x2="24.4" y2="295.8" stroke="#161616" stroke-width="0.8"/>
<text x="21.7" y="299" font-size="9.0" text-anchor="end" fill="#161616">2</text>
<line x1="26.6" y1="283.05" x2="25.3" y2="283.05" stroke="#161616" stroke-width="0.8"/>
<line x1="26.6" y1="270.3" x2="24.4" y2="270.3" stroke="#161616" stroke-width="0.8"/>
<text x="21.7" y="273.5" font-size="9.0" text-anchor="end" fill="#161616">3</text>
<line x1="26.6" y1="257.55" x2="25.3" y2="257.55" stroke="#161616" stroke-width="0.8"/>
<line x1="26.6" y1="244.8" x2="24.4" y2="244.8" stroke="#161616" stroke-width="0.8"/>
<text x="21.7" y="248" font-size="9.0" text-anchor="end" fill="#161616">4</text>
<line x1="26.6" y1="232.05" x2="25.3" y2="232.05" stroke="#161616" stroke-width="0.8"/>
<line x1="26.6" y1="219.3" x2="24.4" y2="219.3" stroke="#161616" stroke-width="0.8"/>
<text x="21.7" y="222.5" font-size="9.0" text-anchor="end" fill="#161616">5</text>
<line x1="26.6" y1="206.55" x2="25.3" y2="206.55" stroke="#161616" stroke-width="0.8"/>
<line x1="26.6" y1="193.8" x2="24.4" y2="193.8" stroke="#161616" stroke-width="0.8"/>
<text x="21.7" y="197" font-size="9.0" text-anchor="end" fill="#161616">6</text>
<line x1="26.6" y1="346.8" x2="26.6" y2="349" stroke="#161616" stroke-width="0.8"/>
<text x="26.6" y="359.3" font-size="9.0" text-anchor="middle" fill="#161616">0</text>
<line x1="45.44" y1="346.8" x2="45.44" y2="348.1" stroke="#161616" stroke-width="0.8"/>
<line x1="64.28" y1="346.8" x2="64.28" y2="349" stroke="#161616" stroke-width="0.8"/>
<text x="64.28" y="359.3" font-size="9.0" text-anchor="middle" fill="#161616">2</text>
<line x1="83.12" y1="346.8" x2="83.12" y2="348.1" stroke="#161616" stroke-width="0.8"/>
<line x1="101.96" y1="346.8" x2="101.96" y2="349" stroke="#161616" stroke-width="0.8"/>
<text x="101.96" y="359.3" font-size="9.0" text-anchor="middle" fill="#161616">4</text>
<line x1="120.8" y1="346.8" x2="120.8" y2="348.1" stroke="#161616" stroke-width="0.8"/>
<line x1="139.64" y1="346.8" x2="139.64" y2="349" stroke="#161616" stroke-width="0.8"/>
<text x="139.64" y="359.3" font-size="9.0" text-anchor="middle" fill="#161616">6</text>
<line x1="158.48" y1="346.8" x2="158.48" y2="348.1" stroke="#161616" stroke-width="0.8"/>
<line x1="177.32" y1="346.8" x2="177.32" y2="349" stroke="#161616" stroke-width="0.8"/>
<text x="177.32" y="359.3" font-size="9.0" text-anchor="middle" fill="#161616">8</text>
<line x1="196.16" y1="346.8" x2="196.16" y2="348.1" stroke="#161616" stroke-width="0.8"/>
<line x1="215" y1="346.8" x2="215" y2="349" stroke="#161616" stroke-width="0.8"/>
<text x="215" y="359.3" font-size="9.0" text-anchor="middle" fill="#161616">10</text>
<text transform="translate(13.2 270.3) rotate(-90)" font-size="9.2" text-anchor="middle" fill="#161616">R+ΔR (Å)</text>
<text x="120.8" y="372.3" font-size="9.0" text-anchor="middle" fill="#161616">k (Å<tspan font-size="6.3" dy="-3.4">-1</tspan><tspan dy="3.4">)</tspan></text>
<text x="32.8" y="205.5" font-size="9.2" fill="#f0f0f0">Co foil</text>
<text x="0.9" y="194.5" font-size="14" font-weight="bold">d</text>
<clipPath id="cw2"><rect x="259.4" y="193.8" width="188.2" height="153"/></clipPath>
<g clip-path="url(#cw2)">
<rect x="259.4" y="193.8" width="188.2" height="153" fill="#00007f"/>
<path d="M314.3 323.8 370.1 323.8 448.5 323.2 448.5 303.2 436.4 302.7 429.6 301.1 443.8 298.3 448.5 297 448.5 271.7 407 267.9 400.6 267.1 395 265.4 393.9 263.8 395 262.2 401 258.2 412.3 252.5 413 250.9 407.4 249.2 378.4 245.2 374.6 244.4 371.3 242.8 373.1 241.1 379.2 239.5 384.4 238.7 397.5 237 424.8 234.7 435.3 233 439.3 231.4 440.6 229.8 440.6 228.2 439.9 226.6 438.4 224.9 435.9 223.3 432.3 221.7 426 219.7 418.8 218 394.4 213.6 365.4 207.9 352.3 206.2 339.2 205.2 328.6 205 316.7 205.3 304.8 206.1 292.9 207.6 283.4 209.4 275.1 211.4 265.6 214.4 258.5 217.4 258.5 254 282.2 258 324.5 267.1 329.3 268.7 330.3 270.3 328 271.9 323.7 273.5 312.1 276.8 303.6 278.6 295.3 280 283.4 281.3 258.5 283.1 258.5 323.3 314.3 323.8Z" fill="#0000f1" fill-rule="evenodd"/>
<path d="M306 322.2 371.3 322.3 448.5 321.4 448.5 305.6 392.9 304.3 359.9 302.7 372.5 302 399.8 299.7 415.8 297.8 422.9 296.2 431.3 293 448.5 287.1 448.5 277.2 443.8 275.8 437.8 274.6 420 272.7 392.7 271.7 373.7 272.1 364.2 272.9 353.5 274.4 344 276.4 323.8 281.5 312.6 283.3 294.8 284.9 258.5 287.1 258.5 301.4 289.9 302.7 278.8 304.3 258.5 304.9 258.5 321.6 306 322.2ZM327.4 262.2 341.6 263.5 355.9 263.4 361.8 262.9 367.8 261.8 372.5 260.6 376.7 259 379.4 257.3 381 255.7 381.4 254.1 380.5 252.5 379.6 252 377.4 250.9 371.6 249.2 354.2 246 351.1 245.2 348.5 244.4 348 242.8 351.6 241.1 357.6 239.5 395.1 231.1 399.4 229.8 402.2 228.5 404.1 226.6 403.2 224.9 401 223.8 393.9 221.6 354.7 214.4 345.2 213 336.9 212.3 321.4 212.1 307.2 213.3 294.1 215.7 288.2 217.5 283.4 219.3 279 221.7 276.9 223.3 274.1 226.6 273.5 228.2 273.3 229.8 273.7 231.4 274.6 233 276 234.7 278.7 236.7 282.2 238.7 297.9 244.4 300.7 246 301.3 247.6 300.1 250.9 300.1 252.5 301 254.1 303 255.7 306.3 257.3 311.1 259 317.9 260.6 327.4 262.2Z" fill="#004cff" fill-rule="evenodd"/>
<path d="M266.8 320.5 309.5 321.2 358.3 321.3 403.4 321 448.5 320.1 448.5 307 409.3 306.1 346.4 305.4 310.7 305.6 258.5 306.6 258.5 320.4 266.8 320.5ZM260.8 299.5 294.1 300.6 333.3 300.8 363 300 389.1 298.2 400.7 296.2 410.5 292.3 434.3 286.5 439 284.4 440.6 283.3 440.9 281.6 439.5 280 435.5 278.3 429 276.8 420 275.7 410.5 275.1 397.5 275 386.8 275.3 376.1 276.1 361 278.4 342.6 283.3 333.3 284.9 316.5 286.5 276.3 288.8 258.5 290.1 258.5 299.3 260.8 299.5ZM335.7 259 344 259.3 351.2 259 358.8 257.3 361.2 255.7 360.8 254.1 358.3 252.8 351.1 251.1 340.4 250.2 329.7 250.7 323.2 252.5 321.5 254.1 322.4 255.7 326 257.3 335.7 259ZM316.7 239.6 325 239.8 333.3 239.4 341.6 238.4 351.1 236.7 359.7 234.7 370.4 231.4 378.6 228.2 380.1 226.6 378.9 224.9 374.7 223.3 371.3 222.5 355.9 219.3 341.6 217.1 332.1 216.5 323.8 216.4 314.3 217.1 306.1 218.4 298.9 220.4 292.7 223.3 290.7 224.9 289.4 226.6 288.8 228.2 289 229.8 289.9 231.4 291.6 233 294.2 234.7 298.2 236.3 307.2 238.5 316.7 239.6Z" fill="#00b0ff" fill-rule="evenodd"/>
<path d="M259.6 319.4 304.8 320.2 355.9 320.4 405.8 320 448.5 319.1 448.5 308.3 401 307.1 352.3 306.6 304.8 306.9 258.5 307.9 258.5 319.4 259.6 319.4ZM265.6 297.9 291.7 299 321.4 299.4 346.4 299 369.2 297.8 380.1 296.2 382.6 294.6 384.7 291.4 387.1 289.7 393.9 288.5 412.9 286.6 420 285.4 422.2 284.9 426 283.3 426.3 281.6 423.3 280 412.9 278.4 399.8 278.3 389.1 279 380.8 280 373.9 281.6 369.8 283.3 365.4 285.6 362.3 286.5 358.3 287.1 344 288.1 288.2 290.6 277.5 291.4 263.1 293 258.5 294 258.5 297 265.6 297.9ZM314.3 234.7 320.2 235.4 327.4 235.7 333.3 235.4 340.4 234.6 347.6 233 352.8 231.4 356.6 229.8 359.1 228.2 359.8 226.6 357.9 224.9 353.3 223.3 345.6 221.7 339.2 220.8 332.1 220.3 326.2 220.3 320.2 220.7 314.3 221.6 308.1 223.3 304.8 224.9 303 226.6 302.3 228.2 302.8 229.8 304.8 231.6 308.4 233.2 314.3 234.7Z" fill="#29ffcd" fill-rule="evenodd"/>
<path d="M276.3 318.9 319 319.6 366.6 319.7 409.3 319.2 448.5 318.1 448.5 309.4 405.8 308.1 354.7 307.6 303.6 307.9 258.5 309 258.5 318.4 276.3 318.9ZM303.6 297.9 325 298 340.4 297.6 357 296.2 358.2 294.6 353.5 293 339.2 291.8 322.6 291.8 300 292.7 283.4 294.6 280.6 296.2 303.6 297.9ZM326.2 229.9 332.7 229.8 337.3 228.2 336.2 226.6 334.5 226.2 329.7 225.8 326.2 226.1 323.5 226.6 321.7 228.2 323.8 229.3 326.2 229.9Z" fill="#7cff79" fill-rule="evenodd"/>
<path d="M327.4 318.9 395.1 318.6 426 317.9 448.5 317 448.5 310.6 407 309 355.9 308.4 303.6 308.7 258.5 310.1 258.5 317.5 290.5 318.4 327.4 318.9Z" fill="#cdff29" fill-rule="evenodd"/>
<path d="M278.7 317.3 311.9 318 347.6 318.3 384.4 318 417.7 317.3 448.5 315.7 448.5 312.2 422.4 310.5 377.3 309.3 330.9 309.2 287 310 258.5 311.3 258.5 316.4 278.7 317.3Z" fill="#ffc400" fill-rule="evenodd"/>
<path d="M310.7 317.3 352.3 317.6 391.5 317.2 429.9 315.7 440 314 432.6 312.4 411.7 311.1 395.1 310.5 347.6 310 301.2 310.5 284.6 311.1 263.8 312.4 258.5 313.6 258.5 314.4 266.8 315.7 310.7 317.3Z" fill="#ff6700" fill-rule="evenodd"/>
<path d="M289.3 315.7 328.6 316.7 368.9 316.7 407.9 315.7 421.1 314 411.6 312.4 391.5 311.5 361.8 310.8 332.1 310.9 307.2 311.4 284.8 312.4 275.3 314 289.3 315.7Z" fill="#f10700" fill-rule="evenodd"/>
<path d="M321.4 315.7 348.7 315.9 376.2 315.7 398.6 314 383.5 312.4 377.3 312.3 351.1 311.9 323.8 312.1 312.9 312.4 297.8 314 321.4 315.7Z" fill="#7f0000" fill-rule="evenodd"/>
<path d="M258.5 323.3 352.3 323.9 448.5 323.2M448.5 303.2 436.4 302.7 429.6 301.1 443.8 298.3 448.5 297M448.5 271.7 407 267.9 400.6 267.1 395 265.4 393.9 263.8 395 262.2 401 258.2 412.3 252.5 413 250.9 407.4 249.2 378.4 245.2 374.6 244.4 371.3 242.8 373.1 241.1 379.2 239.5 383.2 238.8 397.5 237 424.8 234.7 435.3 233 437.8 232.1 439.3 231.4 440.6 229.8 440.6 228.2 439.9 226.6 438.4 224.9 435.9 223.3 432.3 221.7 427.2 220 416.5 217.5 394.4 213.6 365.4 207.9 349.9 205.9 332.1 205 321.4 205.1 309.5 205.7 290.5 208 281 209.9 271.5 212.4 264.4 214.9 258.5 217.4M258.5 254 282.2 258 324.5 267.1 329.3 268.7 330.3 270.3 328 271.9 323.7 273.5 312.1 276.8 303.6 278.6 295.3 280 283.4 281.3 258.5 283.1M258.5 321.6 353.5 322.4 448.5 321.4M448.5 305.6 392.9 304.3 359.9 302.7 371.3 302.1 395.1 300.2 415.8 297.8 422.9 296.2 431.3 293 448.5 287.1M258.5 301.4 289.9 302.7 278.8 304.3 258.5 304.9M448.5 277.2 443.8 275.8 437.8 274.6 420 272.7 392.7 271.7 373.7 272.1 364.2 272.9 353.5 274.4 344 276.4 323.8 281.5 312.6 283.3 294.8 284.9 258.5 287.1M327.4 262.2 341.6 263.5 355.9 263.4 361.8 262.9 367.8 261.8 372.5 260.6 376.7 259 379.4 257.3 381 255.7 381.4 254.1 380.5 252.5 379.6 252 377.4 250.9 371.6 249.2 354.2 246 351.1 245.2 348.5 244.4 348 242.8 351.6 241.1 357.6 239.5 395.1 231.1 399.4 229.8 402.2 228.5 404.1 226.6 403.2 224.9 401 223.8 393.9 221.6 354.7 214.4 345.2 213 336.9 212.3 321.4 212.1 307.2 213.3 294.1 215.7 288.2 217.5 283.4 219.3 279 221.7 276.9 223.3 274.1 226.6 273.5 228.2 273.3 229.8 273.7 231.4 274.6 233 276 234.7 278.7 236.7 282.2 238.7 297.9 244.4 300.7 246 301.3 247.6 300.1 250.9 300.1 252.5 301 254.1 303 255.7 306.3 257.3 311.1 259 317.9 260.6 327.4 262.2M258.5 320.4 304.8 321.1 353.5 321.3 401 321 448.5 320.1M448.5 307 409.3 306.1 346.4 305.4 310.7 305.6 258.5 306.6M258.5 299.3 291.7 300.5 330.9 300.8 361.8 300 388 298.3 392.1 297.8 400.7 296.2 410.5 292.3 434.3 286.5 439 284.4 440.6 283.3 440.9 281.6 439.5 280 435.9 278.4 429.5 276.9 423.6 276 408.1 275.1 386.8 275.3 374.9 276.2 365.4 277.6 357.1 279.4 342.6 283.3 332.1 285.1 316.5 286.5 276.3 288.8 258.5 290.1M335.7 259 344 259.3 351.2 259 358.8 257.3 361.2 255.7 360.8 254.1 358.3 252.8 351.1 251.1 340.4 250.2 329.7 250.7 323.2 252.5 321.5 254.1 322.4 255.7 326 257.3 335.7 259M316.7 239.6 325 239.8 333.3 239.4 341.6 238.4 351.1 236.7 359.7 234.7 370.4 231.4 378.6 228.2 380.1 226.6 378.9 224.9 374.7 223.3 371.3 222.5 355.9 219.3 341.6 217.1 332.1 216.5 323.8 216.4 314.3 217.1 306.1 218.4 298.9 220.4 292.7 223.3 290.7 224.9 289.4 226.6 288.8 228.2 289 229.8 289.9 231.4 291.6 233 294.2 234.7 298.2 236.3 307.2 238.5 316.7 239.6M258.5 319.4 303.6 320.2 355.9 320.4 405.8 320 448.5 319.1M448.5 308.3 401 307.1 352.3 306.6 304.8 306.9 258.5 307.9M258.5 297 264.5 297.8 276.3 298.5 311.9 299.4 342.8 299.1 369.2 297.8 380.1 296.2 382.6 294.6 384.7 291.4 387.1 289.7 393.9 288.5 412.9 286.6 420 285.4 422.2 284.9 426 283.3 426.3 281.6 423.3 280 414.1 278.5 403.4 278.3 392.7 278.7 382 279.8 376.1 281.1 369.8 283.3 364.2 286 358.3 287.1 344 288.1 283.4 290.9 266.8 292.5 258.5 294M314.3 234.7 320.2 235.4 327.4 235.7 333.3 235.4 340.4 234.6 347.6 233 352.8 231.4 356.6 229.8 359.1 228.2 359.8 226.6 357.9 224.9 353.3 223.3 345.6 221.7 339.2 220.8 332.1 220.3 326.2 220.3 320.2 220.7 314.3 221.6 308.1 223.3 304.8 224.9 303 226.6 302.3 228.2 302.8 229.8 304.8 231.6 308.4 233.2 314.3 234.7M258.5 318.4 303.6 319.4 354.7 319.7 404.6 319.2 448.5 318.1M448.5 309.4 405.8 308.1 354.7 307.6 303.6 307.9 258.5 309M303.6 297.9 325 298 340.4 297.6 357 296.2 358.2 294.6 353.5 293 339.2 291.8 322.6 291.8 300 292.7 283.4 294.6 280.6 296.2 303.6 297.9M326.2 229.9 332.7 229.8 337.3 228.2 336.2 226.6 334.5 226.2 329.7 225.8 326.2 226.1 323.5 226.6 321.7 228.2 323.8 229.3 326.2 229.9M258.5 317.5 303.6 318.7 355.9 319 408.1 318.4 448.5 317M448.5 310.6 407 309 355.9 308.4 303.6 308.7 258.5 310.1M258.5 316.4 277.6 317.3 300 317.8 358.3 318.3 414.1 317.4 448.5 315.7M448.5 312.2 430.1 310.8 414.1 310.2 358.3 309.2 302.4 309.6 275.1 310.4 258.5 311.3M258.5 314.4 266.6 315.7 291.7 316.8 316.7 317.4 352.3 317.6 386.6 317.3 412.9 316.5 429.9 315.7 440 314 432.6 312.4 409.3 311 384.4 310.3 353.5 310 321.4 310.1 291.8 310.8 263.8 312.4 258.5 313.6M289.3 315.7 328.6 316.7 368.9 316.7 407.9 315.7 421.1 314 411.6 312.4 391.5 311.5 361.8 310.8 332.1 310.9 307.2 311.4 284.8 312.4 275.3 314 289.3 315.7M321.4 315.7 348.7 315.9 376.2 315.7 398.6 314 383.5 312.4 377.3 312.3 351.1 311.9 323.8 312.1 312.9 312.4 297.8 314 321.4 315.7" fill="none" stroke="#000" stroke-opacity="0.55" stroke-width="0.4"/>
</g>
<rect x="259.4" y="193.8" width="188.2" height="153" fill="none" stroke="#222" stroke-width="0.9"/>
<line x1="259.4" y1="346.8" x2="257.2" y2="346.8" stroke="#161616" stroke-width="0.8"/>
<text x="254.5" y="350" font-size="9.0" text-anchor="end" fill="#161616">0</text>
<line x1="259.4" y1="334.05" x2="258.1" y2="334.05" stroke="#161616" stroke-width="0.8"/>
<line x1="259.4" y1="321.3" x2="257.2" y2="321.3" stroke="#161616" stroke-width="0.8"/>
<text x="254.5" y="324.5" font-size="9.0" text-anchor="end" fill="#161616">1</text>
<line x1="259.4" y1="308.55" x2="258.1" y2="308.55" stroke="#161616" stroke-width="0.8"/>
<line x1="259.4" y1="295.8" x2="257.2" y2="295.8" stroke="#161616" stroke-width="0.8"/>
<text x="254.5" y="299" font-size="9.0" text-anchor="end" fill="#161616">2</text>
<line x1="259.4" y1="283.05" x2="258.1" y2="283.05" stroke="#161616" stroke-width="0.8"/>
<line x1="259.4" y1="270.3" x2="257.2" y2="270.3" stroke="#161616" stroke-width="0.8"/>
<text x="254.5" y="273.5" font-size="9.0" text-anchor="end" fill="#161616">3</text>
<line x1="259.4" y1="257.55" x2="258.1" y2="257.55" stroke="#161616" stroke-width="0.8"/>
<line x1="259.4" y1="244.8" x2="257.2" y2="244.8" stroke="#161616" stroke-width="0.8"/>
<text x="254.5" y="248" font-size="9.0" text-anchor="end" fill="#161616">4</text>
<line x1="259.4" y1="232.05" x2="258.1" y2="232.05" stroke="#161616" stroke-width="0.8"/>
<line x1="259.4" y1="219.3" x2="257.2" y2="219.3" stroke="#161616" stroke-width="0.8"/>
<text x="254.5" y="222.5" font-size="9.0" text-anchor="end" fill="#161616">5</text>
<line x1="259.4" y1="206.55" x2="258.1" y2="206.55" stroke="#161616" stroke-width="0.8"/>
<line x1="259.4" y1="193.8" x2="257.2" y2="193.8" stroke="#161616" stroke-width="0.8"/>
<text x="254.5" y="197" font-size="9.0" text-anchor="end" fill="#161616">6</text>
<line x1="259.4" y1="346.8" x2="259.4" y2="349" stroke="#161616" stroke-width="0.8"/>
<text x="259.4" y="359.3" font-size="9.0" text-anchor="middle" fill="#161616">0</text>
<line x1="278.22" y1="346.8" x2="278.22" y2="348.1" stroke="#161616" stroke-width="0.8"/>
<line x1="297.04" y1="346.8" x2="297.04" y2="349" stroke="#161616" stroke-width="0.8"/>
<text x="297.04" y="359.3" font-size="9.0" text-anchor="middle" fill="#161616">2</text>
<line x1="315.86" y1="346.8" x2="315.86" y2="348.1" stroke="#161616" stroke-width="0.8"/>
<line x1="334.68" y1="346.8" x2="334.68" y2="349" stroke="#161616" stroke-width="0.8"/>
<text x="334.68" y="359.3" font-size="9.0" text-anchor="middle" fill="#161616">4</text>
<line x1="353.5" y1="346.8" x2="353.5" y2="348.1" stroke="#161616" stroke-width="0.8"/>
<line x1="372.32" y1="346.8" x2="372.32" y2="349" stroke="#161616" stroke-width="0.8"/>
<text x="372.32" y="359.3" font-size="9.0" text-anchor="middle" fill="#161616">6</text>
<line x1="391.14" y1="346.8" x2="391.14" y2="348.1" stroke="#161616" stroke-width="0.8"/>
<line x1="409.96" y1="346.8" x2="409.96" y2="349" stroke="#161616" stroke-width="0.8"/>
<text x="409.96" y="359.3" font-size="9.0" text-anchor="middle" fill="#161616">8</text>
<line x1="428.78" y1="346.8" x2="428.78" y2="348.1" stroke="#161616" stroke-width="0.8"/>
<line x1="447.6" y1="346.8" x2="447.6" y2="349" stroke="#161616" stroke-width="0.8"/>
<text x="447.6" y="359.3" font-size="9.0" text-anchor="middle" fill="#161616">10</text>
<text transform="translate(246 270.3) rotate(-90)" font-size="9.2" text-anchor="middle" fill="#161616">R+ΔR (Å)</text>
<text x="353.5" y="372.3" font-size="9.0" text-anchor="middle" fill="#161616">k (Å<tspan font-size="6.3" dy="-3.4">-1</tspan><tspan dy="3.4">)</tspan></text>
<text x="265.6" y="205.5" font-size="9.2" fill="#f0f0f0">CoPc</text>
<text x="224.1" y="194.6" font-size="14" font-weight="bold">e</text>
<clipPath id="cw3"><rect x="490" y="193.8" width="189.4" height="153"/></clipPath>
<g clip-path="url(#cw3)">
<rect x="490" y="193.8" width="189.4" height="153" fill="#00007f"/>
<path d="M521.3 325.4 594.3 325.7 680.3 324.9 680.3 294.7 634.9 293.7 571.5 293.2 533.3 293.4 489.1 294.3 489.1 325.1 521.3 325.4ZM582.3 286.5 643.3 286.6 664.8 286.2 680.3 285.5 680.3 227.2 648.1 226.3 623.2 224.9 609.8 223.3 607.7 221.7 629.5 220.1 660.2 218.4 676.8 216.9 680.3 215.6 680.3 213.3 675.7 210.3 672.1 208.7 642.1 198.9 636.1 197.5 630.1 196.8 625.3 196.7 619.4 197.2 611 199.1 607.5 200.6 603.8 203.2 601.8 205.5 599 212 595.6 216.8 594.7 218.4 594.7 220.1 593.1 221.3 592 221.7 557.2 225.3 540.5 227.8 531.9 229.8 527.3 231.4 523.7 233 521.2 234.7 517.9 237.9 516.2 241.1 514.4 247.6 513.1 255.7 512 257.3 506.2 260.6 504.2 262.2 504.9 263.8 510.2 267.1 509.8 268.7 505.5 270.3 496.2 272.9 492.6 274.4 491.2 275.2 489.7 276.8 490.5 278.4 493.7 280 501 281.9 518.9 284.2 546.4 285.9 582.3 286.5ZM555.8 270.3 556.6 268.7 575.1 267.9 585.9 268.1 594.4 268.7 597.1 270.3 587.1 271.1 577.5 271.4 566.8 271.1 555.8 270.3ZM556.3 249.2 550.1 247.6 546.7 246 545.1 244.4 544.8 242.8 545.9 241.1 548.4 239.5 552.9 237.9 558.4 236.7 564.4 235.9 570.4 235.7 576.3 235.9 582.3 236.7 587.1 237.8 591.4 239.5 593.5 241.1 594.2 242.8 593.8 244.4 591.9 246.1 588.3 247.8 582.3 249.4 576.3 250.1 569.2 250.4 562 250 556.3 249.2Z" fill="#0000f1" fill-rule="evenodd"/>
<path d="M533.3 323.8 601.4 323.9 680.3 323 680.3 306.7 651 305.9 664.8 305.2 680.3 304.9 680.3 299.2 639.7 298.1 579.9 297.2 535.7 297 489.1 297.2 489.1 323.3 533.3 323.8ZM527.3 280 541.7 280.9 562 281.4 609.8 281.6 636.1 281.4 650.5 280.9 661.3 280 670.6 278.4 674.1 276.8 674 275.2 673.2 274.7 669.6 273.2 666 272.4 655.2 271.1 639.7 270.9 594.3 273.1 545.2 273.3 530.9 273.9 520.6 275.2 515.9 276.8 517.5 278.4 527.3 280ZM638.5 267.1 658.8 267.9 680.3 267 680.3 239.4 679.2 239.3 669.6 238.9 658.8 239.1 649.3 239.9 640.7 241.1 633.7 242.9 626.9 246 624.4 247.6 620.6 250.9 617.2 255.7 613.5 257.3 601 259 578.5 260.6 564.9 262.2 569.8 263.8 638.5 267.1Z" fill="#004cff" fill-rule="evenodd"/>
<path d="M501 322.2 544.1 322.7 590.7 322.8 633.7 322.5 680.3 321.6 680.3 308.3 646.8 307.6 623.6 305.9 638.5 303.8 655.8 302.7 635 301.1 563.2 299.6 489.1 299.4 489.1 321.9 501 322.2Z" fill="#00b0ff" fill-rule="evenodd"/>
<path d="M490.2 320.9 536.9 321.7 588.3 321.9 637.3 321.4 680.3 320.4 680.3 309.6 612.1 307.6 593 305.9 591.7 304.3 576.7 302.7 534.5 301.9 489.1 301.8 489.1 320.9 490.2 320.9Z" fill="#29ffcd" fill-rule="evenodd"/>
<path d="M517.7 320.5 559.6 321 602.6 321 645.7 320.3 680.3 319.3 680.3 310.8 644.5 309.7 565.6 308 522.5 307.8 489.1 308.5 489.1 319.9 517.7 320.5Z" fill="#7cff79" fill-rule="evenodd"/>
<path d="M490.2 318.9 530.9 319.9 576.3 320.3 621.8 319.9 662.7 318.9 680.3 318.1 680.3 312 633.7 310.5 582.3 309.7 529.7 309.7 489.1 310.5 489.1 318.9 490.2 318.9Z" fill="#cdff29" fill-rule="evenodd"/>
<path d="M522.5 318.9 585.9 319.5 644.5 318.5 672 317.3 680.3 316.5 680.3 313.5 665 312.4 646.9 311.8 590.7 310.7 541.7 310.7 493.8 311.6 489.1 311.8 489.1 317.8 522.5 318.9Z" fill="#ffc400" fill-rule="evenodd"/>
<path d="M503.4 317.3 548.8 318.5 596.7 318.6 646.9 317.4 668.3 315.7 667.7 314 638.7 312.4 593.1 311.6 544.1 311.6 508.2 312.3 489.1 313.3 489.1 316.3 503.4 317.3Z" fill="#ff6700" fill-rule="evenodd"/>
<path d="M533.3 317.3 566.8 317.8 601.4 317.7 620.6 317.3 647.3 315.7 646.3 314 619.4 312.9 585.9 312.3 544 312.4 521.3 313.1 501.6 314 503.2 315.7 533.3 317.3Z" fill="#f10700" fill-rule="evenodd"/>
<path d="M530.9 315.7 553.6 316.5 576.3 316.7 599 316.5 621 315.7 619.2 314 572.7 313.3 529.1 314 529.8 315.7 530.9 315.7Z" fill="#7f0000" fill-rule="evenodd"/>
<path d="M489.1 325.1 583.5 325.7 680.3 324.9M680.3 294.7 634.9 293.7 571.5 293.2 533.3 293.4 489.1 294.3M680.3 227.2 648.1 226.3 623.2 224.9 609.8 223.3 607.7 221.7 629.5 220.1 662.4 218.3 677.1 216.8 680.3 215.6M680.3 213.3 675.7 210.3 667.7 207.1 648 200.6 637.3 197.7 631.3 196.9 624.2 196.7 617.9 197.4 611.3 199 607.4 200.7 604.9 202.2 603.1 203.9 601 207.1 599 212 594.7 218.4 594.7 220.1 593.1 221.3 592 221.7 559.6 225 542.9 227.4 531.9 229.8 527.1 231.4 522.5 233.8 519.3 236.3 517.9 237.9 516.2 241.1 514.4 247.6 513.1 255.7 512 257.3 506.2 260.6 504.2 262.2 504.9 263.8 510.2 267.1 509.8 268.7 505.5 270.3 494.6 273.5 491.2 275.2 489.7 276.8 490.5 278.4 493.7 280 503.4 282.3 518.9 284.2 541.7 285.7 570.4 286.4 627.7 286.7 660 286.3 680.3 285.5M556 270.3 556.6 268.7 575.1 267.9 585.9 268.1 594.4 268.7 597.1 270.3 587.1 271.1 577.5 271.4 566.8 271.1 556 270.3M557.2 249.4 550.1 247.6 546.7 246 545.1 244.4 544.8 242.8 545.9 241.1 548.4 239.5 552.4 238 557.2 236.9 564.4 235.9 570.4 235.7 576.3 235.9 582.3 236.7 587.1 237.8 591.4 239.5 593.5 241.1 594.2 242.8 593.8 244.4 591.9 246.1 588.3 247.8 582.3 249.4 576.3 250.1 570.4 250.4 563.2 250.1 557.2 249.4M489.1 323.3 584.7 324 680.3 323M680.3 306.7 651 305.9 664.8 305.2 680.3 304.9M680.3 299.2 639.7 298.1 579.9 297.2 535.7 297 489.1 297.2M680.3 239.4 670.8 238.9 660 239.1 649.3 239.9 640.7 241.1 633.7 242.9 626.9 246 624.4 247.6 620.6 250.9 617.2 255.7 613.5 257.3 601 259 578.5 260.6 564.9 262.2 570.4 263.9 648.1 267.7 663.6 267.9 680.3 267M527.3 280 541.7 280.9 562 281.4 609.8 281.6 636.1 281.4 650.5 280.9 661.3 280 670.6 278.4 674.1 276.8 674 275.2 673.2 274.7 669.6 273.2 666 272.4 655.2 271.1 639.7 270.9 594.3 273.1 545.2 273.3 530.9 273.9 520.6 275.2 515.9 276.8 517.5 278.4 527.3 280M489.1 321.9 536.9 322.7 585.9 322.9 631.3 322.5 680.3 321.6M680.3 308.3 646.8 307.6 623.6 305.9 638.5 303.8 655.8 302.7 635 301.1 563.2 299.6 489.1 299.4M489.1 320.9 534.5 321.7 587.1 321.9 637.3 321.4 680.3 320.4M680.3 309.6 612.1 307.6 593 305.9 591.7 304.3 576.7 302.7 534.5 301.9 489.1 301.8M489.1 319.9 536.9 320.8 587.1 321 638.5 320.5 680.3 319.3M680.3 310.8 644.5 309.7 565.6 308 522.5 307.8 489.1 308.5M489.1 318.9 535.7 320 589.5 320.2 640.9 319.5 680.3 318.1M680.3 312 633.7 310.5 582.3 309.7 529.7 309.7 489.1 310.5M489.1 317.8 535.7 319.2 594.3 319.4 644.5 318.5 672 317.3 680.3 316.5M680.3 313.5 665 312.4 644.5 311.7 587.1 310.7 538.1 310.7 489.1 311.8M489.1 316.3 502.9 317.3 527.3 318.1 583.5 318.7 612.2 318.4 639.7 317.7 649.1 317.3 668.3 315.7 667.7 314 658.8 313.5 638.7 312.4 602.6 311.7 568 311.4 535.7 311.7 504.6 312.4 489.1 313.3M533.3 317.3 566.8 317.8 601.4 317.7 620.6 317.3 647.3 315.7 646.3 314 619.4 312.9 585.9 312.3 544 312.4 521.3 313.1 501.6 314 503.2 315.7 533.3 317.3M530.9 315.7 553.6 316.5 576.3 316.7 599 316.5 621 315.7 619.2 314 572.7 313.3 529.1 314 529.8 315.7 530.9 315.7" fill="none" stroke="#000" stroke-opacity="0.55" stroke-width="0.4"/>
</g>
<rect x="490" y="193.8" width="189.4" height="153" fill="none" stroke="#222" stroke-width="0.9"/>
<line x1="490" y1="346.8" x2="487.8" y2="346.8" stroke="#161616" stroke-width="0.8"/>
<text x="485.1" y="350" font-size="9.0" text-anchor="end" fill="#161616">0</text>
<line x1="490" y1="334.05" x2="488.7" y2="334.05" stroke="#161616" stroke-width="0.8"/>
<line x1="490" y1="321.3" x2="487.8" y2="321.3" stroke="#161616" stroke-width="0.8"/>
<text x="485.1" y="324.5" font-size="9.0" text-anchor="end" fill="#161616">1</text>
<line x1="490" y1="308.55" x2="488.7" y2="308.55" stroke="#161616" stroke-width="0.8"/>
<line x1="490" y1="295.8" x2="487.8" y2="295.8" stroke="#161616" stroke-width="0.8"/>
<text x="485.1" y="299" font-size="9.0" text-anchor="end" fill="#161616">2</text>
<line x1="490" y1="283.05" x2="488.7" y2="283.05" stroke="#161616" stroke-width="0.8"/>
<line x1="490" y1="270.3" x2="487.8" y2="270.3" stroke="#161616" stroke-width="0.8"/>
<text x="485.1" y="273.5" font-size="9.0" text-anchor="end" fill="#161616">3</text>
<line x1="490" y1="257.55" x2="488.7" y2="257.55" stroke="#161616" stroke-width="0.8"/>
<line x1="490" y1="244.8" x2="487.8" y2="244.8" stroke="#161616" stroke-width="0.8"/>
<text x="485.1" y="248" font-size="9.0" text-anchor="end" fill="#161616">4</text>
<line x1="490" y1="232.05" x2="488.7" y2="232.05" stroke="#161616" stroke-width="0.8"/>
<line x1="490" y1="219.3" x2="487.8" y2="219.3" stroke="#161616" stroke-width="0.8"/>
<text x="485.1" y="222.5" font-size="9.0" text-anchor="end" fill="#161616">5</text>
<line x1="490" y1="206.55" x2="488.7" y2="206.55" stroke="#161616" stroke-width="0.8"/>
<line x1="490" y1="193.8" x2="487.8" y2="193.8" stroke="#161616" stroke-width="0.8"/>
<text x="485.1" y="197" font-size="9.0" text-anchor="end" fill="#161616">6</text>
<line x1="490" y1="346.8" x2="490" y2="349" stroke="#161616" stroke-width="0.8"/>
<text x="490" y="359.3" font-size="9.0" text-anchor="middle" fill="#161616">0</text>
<line x1="508.94" y1="346.8" x2="508.94" y2="348.1" stroke="#161616" stroke-width="0.8"/>
<line x1="527.88" y1="346.8" x2="527.88" y2="349" stroke="#161616" stroke-width="0.8"/>
<text x="527.88" y="359.3" font-size="9.0" text-anchor="middle" fill="#161616">2</text>
<line x1="546.82" y1="346.8" x2="546.82" y2="348.1" stroke="#161616" stroke-width="0.8"/>
<line x1="565.76" y1="346.8" x2="565.76" y2="349" stroke="#161616" stroke-width="0.8"/>
<text x="565.76" y="359.3" font-size="9.0" text-anchor="middle" fill="#161616">4</text>
<line x1="584.7" y1="346.8" x2="584.7" y2="348.1" stroke="#161616" stroke-width="0.8"/>
<line x1="603.64" y1="346.8" x2="603.64" y2="349" stroke="#161616" stroke-width="0.8"/>
<text x="603.64" y="359.3" font-size="9.0" text-anchor="middle" fill="#161616">6</text>
<line x1="622.58" y1="346.8" x2="622.58" y2="348.1" stroke="#161616" stroke-width="0.8"/>
<line x1="641.52" y1="346.8" x2="641.52" y2="349" stroke="#161616" stroke-width="0.8"/>
<text x="641.52" y="359.3" font-size="9.0" text-anchor="middle" fill="#161616">8</text>
<line x1="660.46" y1="346.8" x2="660.46" y2="348.1" stroke="#161616" stroke-width="0.8"/>
<line x1="679.4" y1="346.8" x2="679.4" y2="349" stroke="#161616" stroke-width="0.8"/>
<text x="679.4" y="359.3" font-size="9.0" text-anchor="middle" fill="#161616">10</text>
<text transform="translate(476.6 270.3) rotate(-90)" font-size="9.2" text-anchor="middle" fill="#161616">R+ΔR (Å)</text>
<text x="584.7" y="372.3" font-size="9.0" text-anchor="middle" fill="#161616">k (Å<tspan font-size="6.3" dy="-3.4">-1</tspan><tspan dy="3.4">)</tspan></text>
<text x="496.2" y="205.5" font-size="9.2" fill="#f0f0f0">CoNC-MSi1</text>
<text x="464" y="194.6" font-size="14" font-weight="bold">f</text>
<clipPath id="cw4"><rect x="26.6" y="379.7" width="188.4" height="152.7"/></clipPath>
<g clip-path="url(#cw4)">
<rect x="26.6" y="379.7" width="188.4" height="152.7" fill="#00007f"/>
<path d="M47.1 511 124.4 511.3 215.9 510.7 215.9 449.2 207.6 448.3 201.7 446.9 199.8 446.3 196.8 444.7 195.6 443.1 195.9 441.5 196.9 440.5 200.6 438.3 207.6 436.1 215.9 434.3 215.9 427.5 202.9 424.8 194.4 422.1 191.6 420.5 189.8 418.9 189 417.2 188.9 415.6 189.6 414 191.2 412.4 193.6 410.8 196.9 409.2 204 406.9 215.9 404.4 215.9 394.9 204 393.1 189.8 392.5 175.5 392.8 163.6 394.1 155.3 395.7 147.4 397.8 122 406.9 111.3 410 104.2 411.6 95.8 412.9 70.9 415.2 64.9 416.7 60.9 418.9 56.6 422.6 45.9 434.3 41.1 438.2 37.6 440.4 34 442 30.3 443.1 25.7 444.1 25.7 510.9 47.1 511ZM107.6 446.3 98.5 444.7 99.3 443.1 105.3 442.1 113.4 441.5 125.6 441.4 136.3 442.1 143.3 443.1 144.7 444.7 136.3 446.3 130.3 446.7 118.4 446.8 107.6 446.3ZM96.8 426.9 85.8 425.3 82.5 423.7 82.8 422.1 85.1 421 89.9 419.7 94.6 419.1 106.5 418.6 122 419.5 127.9 420.4 132.7 421.5 134.3 422.1 135.3 423.7 131.1 425.3 119.6 426.7 107.7 427.2 96.8 426.9Z" fill="#0000f1" fill-rule="evenodd"/>
<path d="M29.2 509.4 120.8 510 215.9 509.1 215.9 483.5 214.8 483.3 208.8 482.5 200.5 482.3 173.5 483.5 107.7 484.1 83.6 483.5 73 481.9 95.8 480.9 119.6 480.4 157.7 480.5 201.7 481.6 210 481.4 215.9 480.7 215.9 472.5 214.8 472.4 206.4 472.1 167.2 473.3 136.3 473.4 106.5 472.3 94 470.6 98.6 469 100.6 468.8 118.4 467.5 136.3 466.9 166 466.9 206.4 468.2 215.9 467.9 215.9 457.1 206.4 456 194.5 455.5 164.8 457.6 144.6 457.7 125.1 456 112.5 453.7 106.5 453 94.6 452.4 80.4 452.1 63.7 452.3 50.6 452.9 37.6 454.2 25.7 456 25.7 471 39.9 474.5 44.7 476.6 51.8 480.6 57.6 481.9 50.5 483.5 25.7 486.1 25.7 509.4 29.2 509.4ZM149.3 435 160 434.9 169.6 434.1 174.2 433.4 177 431.8 172.7 430.2 160 429.1 148.2 429.1 133.1 430.2 125.5 431.8 127.7 433.4 137.4 434.5 149.3 435Z" fill="#004cff" fill-rule="evenodd"/>
<path d="M26.8 508.4 124.4 509 174.3 508.7 215.9 508 215.9 492.5 196.6 491.6 212.4 489.8 215.9 489.1 215.9 487.9 206.4 486.6 193.3 485.8 176.7 485.4 155.3 485.4 111.3 486.4 25.7 489.7 25.7 508.4 26.8 508.4ZM99.4 477.1 123 477.1 110.1 476.3 104.2 476.5 99.4 477.1ZM56.6 464.3 64.9 465 74.4 465.3 95.8 464.7 104.6 464.1 114.6 462.5 115.1 460.9 108.1 459.3 93.4 457.9 79.2 457.5 66.1 457.9 52.5 459.3 47.7 460.9 48.6 462.5 56.6 464.3Z" fill="#00b0ff" fill-rule="evenodd"/>
<path d="M44.7 507.8 130.3 508.2 215.9 507.1 215.9 493.7 195.7 492.8 180.8 491.6 188.2 490 192.5 488.4 180.3 487.5 167.2 487.2 144.6 487.5 98.2 489.8 25.7 491.9 25.7 507.5 44.7 507.8Z" fill="#29ffcd" fill-rule="evenodd"/>
<path d="M26.8 506.8 73.2 507.4 124.4 507.5 174.3 507.1 215.9 506.2 215.9 494.8 179.6 493.2 158.7 491.6 154.1 490.9 149.3 490.7 61.3 492.5 25.7 493.8 25.7 506.7 26.8 506.8Z" fill="#7cff79" fill-rule="evenodd"/>
<path d="M35.2 506.2 81.6 506.8 131.5 506.9 180.3 506.3 215.9 505.3 215.9 496.7 186.3 494.9 156.5 493.7 136.3 493.3 75.6 493.7 29.2 495.2 25.7 495.4 25.7 505.9 35.2 506.2Z" fill="#cdff29" fill-rule="evenodd"/>
<path d="M80.4 506.2 150.5 506.1 210.3 504.6 215.9 504.1 215.9 499 206.4 497.9 186.2 496.5 162.4 495.5 137.4 494.9 82.7 495 36 496.5 25.7 497.2 25.7 505.1 80.4 506.2Z" fill="#ffc400" fill-rule="evenodd"/>
<path d="M35.2 504.6 83.9 505.5 137.4 505.5 186.7 504.6 208.6 502.9 208.3 501.3 200.8 499.7 181.5 497.9 142.2 496.4 95.8 496.1 55.4 497.2 37.8 498.1 25.7 499.2 25.7 503.9 35.2 504.6Z" fill="#ff6700" fill-rule="evenodd"/>
<path d="M66.1 504.6 105.3 505 144.6 504.8 162.4 504.3 187.6 502.9 187.1 501.3 183.8 500.8 176.8 499.7 161.2 498.6 130.3 497.6 93.4 497.6 71.3 498.1 55.4 498.9 44.7 499.7 34.5 501.3 34 502.9 66.1 504.6Z" fill="#f10700" fill-rule="evenodd"/>
<path d="M60.1 503 85.1 503.8 111.3 504.1 137.4 503.8 161.6 502.9 160.7 501.3 145.8 500 130.3 499.4 110.1 499.1 88.7 499.4 74.4 500 60.6 501.3 59.7 502.9 60.1 503Z" fill="#7f0000" fill-rule="evenodd"/>
<path d="M25.7 510.9 117.2 511.4 215.9 510.7M215.9 449.2 207.6 448.3 201.7 446.9 199.8 446.3 196.8 444.7 195.6 443.1 195.9 441.5 196.9 440.5 200.6 438.3 207.6 436.1 215.9 434.3M215.9 427.5 202.9 424.8 194.4 422.1 191.6 420.5 189.8 418.9 189 417.2 188.9 415.6 189.6 414 191.2 412.4 193.6 410.8 196.9 409.2 204 406.9 215.9 404.4M215.9 394.9 205.2 393.3 192.2 392.5 177.9 392.7 166 393.7 156.5 395.4 147.4 397.8 122 406.9 108.9 410.6 95.8 412.9 75.6 414.6 68.5 415.6 63.7 417.2 59 420.4 45.9 434.3 39.9 439 34 442 30.3 443.1 25.7 444.1M107.7 446.4 98.5 444.7 99.3 443.1 105.3 442.1 113.4 441.5 125.6 441.4 136.3 442.1 143.3 443.1 144.7 444.7 136.3 446.3 130.3 446.7 118.4 446.8 107.7 446.4M97 427 85.8 425.3 82.5 423.7 82.8 422.1 85.1 421 89.9 419.7 94.6 419.1 106.5 418.6 122 419.5 127.9 420.4 132.7 421.5 134.3 422.1 135.3 423.7 131.1 425.3 119.6 426.7 107.7 427.2 97 427M25.7 509.4 119.6 510 215.9 509.1M215.9 483.5 210 482.6 201.7 482.3 173.5 483.5 133.9 484.1 105.3 484 83.6 483.5 73 481.9 95.8 480.9 119.6 480.4 157.7 480.5 201.7 481.6 210 481.4 215.9 480.7M215.9 472.5 206.4 472.1 167.2 473.3 135.1 473.4 106.5 472.3 94 470.6 98.6 469 100.6 468.8 118.4 467.5 136.3 466.9 166 466.9 206.4 468.2 215.9 467.9M25.7 471 39.9 474.5 44.7 476.6 51.8 480.6 57.6 481.9 50.5 483.5 25.7 486.1M215.9 457.1 206.4 456 194.5 455.5 164.8 457.6 144.6 457.7 125.1 456 112.5 453.7 106.5 453 94.6 452.4 80.4 452.1 63.7 452.3 50.6 452.9 37.6 454.2 25.7 456M149.3 435 160 434.9 169.6 434.1 174.2 433.4 177 431.8 172.7 430.2 160 429.1 148.2 429.1 133.1 430.2 125.5 431.8 127.7 433.4 137.4 434.5 149.3 435M25.7 508.4 124.4 509 174.3 508.7 215.9 508M215.9 492.5 196.6 491.6 211.3 490 215.9 489.1M215.9 487.9 206.4 486.6 193.3 485.8 176.7 485.4 155.3 485.4 111.3 486.4 25.7 489.7M99.4 477.1 123 477.1 110.1 476.3 104.2 476.5 99.4 477.1M56.6 464.3 64.9 465 74.4 465.3 95.8 464.7 104.6 464.1 114.6 462.5 115.1 460.9 108.1 459.3 93.4 457.9 79.2 457.5 66.1 457.9 52.5 459.3 47.7 460.9 48.6 462.5 56.6 464.3M25.7 507.5 74.4 508.1 122 508.2 166 507.9 215.9 507.1M215.9 493.7 195.7 492.8 180.8 491.6 188.2 490 192.5 488.4 180.3 487.5 167.2 487.2 144.6 487.5 98.2 489.8 25.7 491.9M25.7 506.7 72 507.4 124.4 507.5 174.3 507.1 215.9 506.2M215.9 494.8 179.6 493.2 158.7 491.6 154.1 490.9 149.3 490.7 61.3 492.5 25.7 493.8M25.7 505.9 72 506.8 125.6 506.9 176.7 506.4 215.9 505.3M215.9 496.7 186.3 494.9 155.3 493.7 133.9 493.3 72 493.8 25.7 495.4M25.7 505.1 74.4 506.1 129.1 506.3 181.5 505.5 210 504.6 215.9 504.1M215.9 499 202.9 497.6 181.5 496.2 156.5 495.3 129.1 494.8 100.6 494.8 70.9 495.2 45.9 496 25.7 497.2M25.7 503.9 34.9 504.6 66.1 505.3 126.7 505.6 186.7 504.6 208.6 502.9 208.3 501.3 200.8 499.7 193.3 498.9 171.9 497.4 141 496.3 107.7 496.1 75 496.5 44.7 497.7 25.7 499.2M66.1 504.6 105.3 505 144.6 504.8 162.4 504.3 187.6 502.9 187.1 501.3 183.8 500.8 176.8 499.7 161.2 498.6 130.3 497.6 93.4 497.6 71.3 498.1 55.4 498.9 44.7 499.7 34.5 501.3 34 502.9 66.1 504.6M60.1 503 85.1 503.8 111.3 504.1 137.4 503.8 161.6 502.9 160.7 501.3 145.8 500 130.3 499.4 110.1 499.1 88.7 499.4 74.4 500 60.6 501.3 59.7 502.9 60.1 503" fill="none" stroke="#000" stroke-opacity="0.55" stroke-width="0.4"/>
</g>
<rect x="26.6" y="379.7" width="188.4" height="152.7" fill="none" stroke="#222" stroke-width="0.9"/>
<line x1="26.6" y1="532.4" x2="24.4" y2="532.4" stroke="#161616" stroke-width="0.8"/>
<text x="21.7" y="535.6" font-size="9.0" text-anchor="end" fill="#161616">0</text>
<line x1="26.6" y1="519.67" x2="25.3" y2="519.67" stroke="#161616" stroke-width="0.8"/>
<line x1="26.6" y1="506.95" x2="24.4" y2="506.95" stroke="#161616" stroke-width="0.8"/>
<text x="21.7" y="510.15" font-size="9.0" text-anchor="end" fill="#161616">1</text>
<line x1="26.6" y1="494.22" x2="25.3" y2="494.22" stroke="#161616" stroke-width="0.8"/>
<line x1="26.6" y1="481.5" x2="24.4" y2="481.5" stroke="#161616" stroke-width="0.8"/>
<text x="21.7" y="484.7" font-size="9.0" text-anchor="end" fill="#161616">2</text>
<line x1="26.6" y1="468.77" x2="25.3" y2="468.77" stroke="#161616" stroke-width="0.8"/>
<line x1="26.6" y1="456.05" x2="24.4" y2="456.05" stroke="#161616" stroke-width="0.8"/>
<text x="21.7" y="459.25" font-size="9.0" text-anchor="end" fill="#161616">3</text>
<line x1="26.6" y1="443.32" x2="25.3" y2="443.32" stroke="#161616" stroke-width="0.8"/>
<line x1="26.6" y1="430.6" x2="24.4" y2="430.6" stroke="#161616" stroke-width="0.8"/>
<text x="21.7" y="433.8" font-size="9.0" text-anchor="end" fill="#161616">4</text>
<line x1="26.6" y1="417.88" x2="25.3" y2="417.88" stroke="#161616" stroke-width="0.8"/>
<line x1="26.6" y1="405.15" x2="24.4" y2="405.15" stroke="#161616" stroke-width="0.8"/>
<text x="21.7" y="408.35" font-size="9.0" text-anchor="end" fill="#161616">5</text>
<line x1="26.6" y1="392.42" x2="25.3" y2="392.42" stroke="#161616" stroke-width="0.8"/>
<line x1="26.6" y1="379.7" x2="24.4" y2="379.7" stroke="#161616" stroke-width="0.8"/>
<text x="21.7" y="382.9" font-size="9.0" text-anchor="end" fill="#161616">6</text>
<line x1="26.6" y1="532.4" x2="26.6" y2="534.6" stroke="#161616" stroke-width="0.8"/>
<text x="26.6" y="544.9" font-size="9.0" text-anchor="middle" fill="#161616">0</text>
<line x1="45.44" y1="532.4" x2="45.44" y2="533.7" stroke="#161616" stroke-width="0.8"/>
<line x1="64.28" y1="532.4" x2="64.28" y2="534.6" stroke="#161616" stroke-width="0.8"/>
<text x="64.28" y="544.9" font-size="9.0" text-anchor="middle" fill="#161616">2</text>
<line x1="83.12" y1="532.4" x2="83.12" y2="533.7" stroke="#161616" stroke-width="0.8"/>
<line x1="101.96" y1="532.4" x2="101.96" y2="534.6" stroke="#161616" stroke-width="0.8"/>
<text x="101.96" y="544.9" font-size="9.0" text-anchor="middle" fill="#161616">4</text>
<line x1="120.8" y1="532.4" x2="120.8" y2="533.7" stroke="#161616" stroke-width="0.8"/>
<line x1="139.64" y1="532.4" x2="139.64" y2="534.6" stroke="#161616" stroke-width="0.8"/>
<text x="139.64" y="544.9" font-size="9.0" text-anchor="middle" fill="#161616">6</text>
<line x1="158.48" y1="532.4" x2="158.48" y2="533.7" stroke="#161616" stroke-width="0.8"/>
<line x1="177.32" y1="532.4" x2="177.32" y2="534.6" stroke="#161616" stroke-width="0.8"/>
<text x="177.32" y="544.9" font-size="9.0" text-anchor="middle" fill="#161616">8</text>
<line x1="196.16" y1="532.4" x2="196.16" y2="533.7" stroke="#161616" stroke-width="0.8"/>
<line x1="215" y1="532.4" x2="215" y2="534.6" stroke="#161616" stroke-width="0.8"/>
<text x="215" y="544.9" font-size="9.0" text-anchor="middle" fill="#161616">10</text>
<text transform="translate(13.2 456.05) rotate(-90)" font-size="9.2" text-anchor="middle" fill="#161616">R+ΔR (Å)</text>
<text x="120.8" y="557.9" font-size="9.0" text-anchor="middle" fill="#161616">k (Å<tspan font-size="6.3" dy="-3.4">-1</tspan><tspan dy="3.4">)</tspan></text>
<text x="32.8" y="391.4" font-size="9.2" fill="#f0f0f0">CoNC-MSi2</text>
<text x="0.8" y="380.6" font-size="14" font-weight="bold">g</text>
<clipPath id="cw5"><rect x="259.2" y="380" width="188.4" height="152.6"/></clipPath>
<g clip-path="url(#cw5)">
<rect x="259.2" y="380" width="188.4" height="152.6" fill="#00007f"/>
<path d="M259.4 506.8 352.2 507.3 448.5 506.9 448.5 452.6 441.4 449 440.4 448.2 439.4 446.6 439.9 445 442.2 443.4 448.5 441.2 448.5 414.1 442.6 411 439.1 407.8 437.5 404.6 436.6 397.9 435.5 396 433.1 394.4 428.3 392.6 420 390.8 409.3 389.6 398.6 389 386.7 389.1 374.8 389.9 364.1 391.2 351 393.7 337.9 397.4 320.2 404.6 308.2 408.5 303.5 410.4 300.4 412.7 299.9 414.3 300.6 415.9 303.3 419.1 304.1 420.7 304 424 302.8 427.2 299.9 430.4 289.1 436.9 287.3 438.5 286.7 440.1 287.5 441.8 289.9 443.4 293.9 445.1 317.4 451.5 336.3 457.9 340.4 459.5 343.3 461.1 344 462.8 341.5 464.4 335.3 466 324.5 467.6 258.3 473.3 258.3 506.7 259.4 506.8Z" fill="#0000f1" fill-rule="evenodd"/>
<path d="M259.4 505.2 352.2 505.9 448.5 505.4 448.5 467.5 410.9 462.8 408.3 461.1 425.9 457.1 432.8 454.7 434.7 453.1 434.9 451.5 433.7 448.2 433.8 446.6 434.7 445 436.9 443.4 440.4 441.8 448.5 439.3 448.5 417.1 442.2 414.3 436.8 411 433 407.8 427.1 401.9 423.6 399.8 420 398.4 414.1 397 401 395.7 391.5 395.5 381.9 395.9 371.2 397 362.9 398.4 352.2 401 336.6 406.2 319.5 411 316.4 412.7 315.5 414.3 316.4 415.9 319.1 419.1 319.7 420.7 319.3 424 318.2 427.2 316.3 430.4 314.6 432.1 307.8 436.9 306.3 438.5 306 440.1 307.3 441.8 310.3 443.4 318.9 446.1 359.3 456.6 384 461.1 386.2 462.8 379.6 464.4 360.3 467.6 346 469.2 283.2 474.3 269 476 258.3 477.9 258.3 505.2 259.4 505.2Z" fill="#004cff" fill-rule="evenodd"/>
<path d="M323.7 504.8 387.9 504.8 448.5 504.1 448.5 496.9 428.3 496.5 411.5 495.1 427.1 494 448.5 493.5 448.5 471.1 416.4 468.5 404.5 468.2 392.6 468.5 304.6 474.5 285.6 476.6 273.2 478.9 268.6 480.5 266.7 482.2 267.1 483.8 269.4 485.4 277 488.6 279.7 490.2 278.4 491.9 276.1 492.4 270.2 493.5 258.3 494.8 258.3 503.9 323.7 504.8ZM377.2 454.7 390.3 455.6 403.3 455.3 415.2 453.8 420 452.7 423.2 451.5 425.4 449.8 429.4 445 431.7 443.4 437.8 440.6 448.5 437.1 448.5 420.4 436.4 414.3 424.8 406.7 420 404.1 416.4 402.8 411.7 401.6 401 400.3 392.6 400.1 384.3 400.4 368.9 402.2 355.8 405.4 332.6 412.7 330.5 414.3 330.2 415.9 331 419.1 330.9 420.7 328.3 428.8 326.3 432.1 321.4 436.9 320.4 438.5 320.7 440.1 322.5 441.8 326.2 443.4 334.4 445.8 361.7 452.2 377.2 454.7Z" fill="#00b0ff" fill-rule="evenodd"/>
<path d="M284.4 503.2 329.6 503.8 377.2 503.9 430.7 503.3 448.5 502.5 448.5 498.5 409.3 497 402.2 496.4 393.7 495.1 409.7 493.5 448.5 492.1 448.5 473.1 414.1 471.3 398.6 471.1 381.9 471.4 347.5 473 323.7 474.6 305.8 476.2 292.7 478.1 288.6 478.9 283.5 480.5 281.7 482.2 282.6 483.8 286 485.4 289.2 486.4 306 490.2 311.6 491.9 311.2 493.5 301.1 495.1 269.1 498.3 259.4 499.9 258.3 500.6 258.3 501.7 284.4 503.2ZM383.1 451.5 392.6 451.9 402.2 451.6 410.5 450.5 416.4 448.8 429.4 441.8 444.7 435.3 446.9 433.7 448.2 432.1 448.5 431.2 448.5 427.1 446.4 424 444.4 422.4 439.3 419.1 423.6 410.3 415.2 406.7 406.9 404.8 401 404.1 393.8 403.8 386.7 404 378.4 404.7 365.3 407.1 349.8 411.9 344.6 414.3 342.7 415.9 341.7 417.5 338.8 424 336.6 430.4 332.8 436.9 332.5 438.5 333.4 440.1 335.9 441.8 340.1 443.4 352.2 446.5 370 450 383.1 451.5Z" fill="#29ffcd" fill-rule="evenodd"/>
<path d="M305.8 501.6 332 502.3 360.5 502.6 389.1 502.3 415.7 501.6 413.7 499.9 395 498.3 370 497.1 358.2 496.8 343.9 497.2 324.4 498.3 308.9 499.9 305 501.6 305.8 501.6ZM348.6 491.9 361.7 492.9 378.4 493 421.2 491.7 448.5 490.1 448.5 474.7 412.9 473 378.4 473.1 334.4 475.2 316.5 476.8 304.6 478.5 296.6 480.5 294.7 482.2 296.1 483.8 300.5 485.4 310.6 487.5 322.5 489.2 348.6 491.9ZM381.9 448.3 391.5 448.7 399.8 448.4 406.9 447.5 414.1 445.6 430.7 438.5 437.1 435.3 439.2 433.7 440.4 432.1 441.1 430.4 441.3 428.8 441.1 427.2 440.4 425.6 437.5 422.4 432.9 419.1 427.2 415.9 416.4 410.8 411.7 409.3 406.9 408.3 401 407.5 395 407.2 383.1 407.7 371.2 409.5 360.3 412.7 353.5 415.9 351 417.9 348.6 420.7 346.7 424 345.6 427.2 343.2 435.3 343 436.9 343.5 438.5 345.2 440.1 348.4 441.8 354.6 443.7 368.9 446.6 381.9 448.3Z" fill="#7cff79" fill-rule="evenodd"/>
<path d="M366.5 490.3 384.3 490.7 405.7 490.5 429.5 489.6 448.5 488.3 448.5 476 415.2 474.3 379.6 474.3 360.5 474.9 341.5 476 326.6 477.3 314.9 478.9 308.7 480.5 306.7 482.2 308.5 483.8 314.1 485.4 323.7 487 334.4 488.2 349.8 489.5 366.5 490.3ZM379.6 445 389.1 445.6 398.6 445.3 406.9 444.1 414.1 442.2 423.4 438.5 429.6 435.3 431.6 433.7 432.9 432.1 433.7 430.4 434 428.8 433.9 427.2 432.2 424 428.6 420.7 425.9 419 416.4 414.3 411.7 412.8 406.9 411.6 397.4 410.5 386.7 410.6 377.2 411.9 367.9 414.3 360.8 417.5 358.2 419.5 355.4 422.4 353.6 425.6 352.7 428.8 352.3 433.7 352.9 436.9 354.2 438.5 356.9 440.1 361.3 441.8 368.9 443.5 379.6 445Z" fill="#cdff29" fill-rule="evenodd"/>
<path d="M365.3 488.6 385.5 489.1 406.9 489 429.5 488.2 448.5 486.7 448.5 477.4 418.8 475.6 386.7 475.3 352.2 476.5 341.5 477.3 327.5 478.9 320.3 480.5 318.2 482.2 321.3 484 327.5 485.4 339.1 486.9 365.3 488.6ZM379.6 441.9 387.9 442.5 396.2 442.4 404.5 441.3 411.7 439.5 418.5 436.9 423.7 433.7 425.2 432.1 426.1 430.4 426.6 428.8 426.5 427.2 425.9 425.6 424.8 424 421.1 420.7 414.8 417.5 406.9 415.1 398.6 413.8 390.3 413.7 381.9 414.6 374.8 416.2 367.8 419.1 363.5 422.4 362.1 424 360.7 427.2 360.4 428.8 360.5 432.1 361.7 435.3 363.2 436.9 365.8 438.5 371.2 440.4 379.6 441.9Z" fill="#ffc400" fill-rule="evenodd"/>
<path d="M361.7 487.1 380.8 487.8 402.2 487.8 422.4 487.2 440.2 485.9 448.5 484.9 448.5 479 428.3 477.2 399.8 476.3 371.2 476.7 347.5 478.2 340.6 478.9 332.1 480.5 329.8 482.2 332.8 483.8 341.8 485.4 361.7 487.1ZM383.1 438.5 389.1 439 396.2 438.9 401 438.3 407.1 436.9 411.7 435.2 414.4 433.7 416.4 432.1 417.7 430.4 418.3 428.8 418.3 427.2 417.6 425.6 416.4 424 414.4 422.4 409.3 419.8 403.3 418.2 397.4 417.4 391.5 417.3 385.5 417.9 379.6 419.2 374.8 421.2 371 424 369.8 425.6 369.1 427.2 369.1 430.4 369.7 432.1 370.8 433.7 372.7 435.3 376.1 436.9 383.1 438.5Z" fill="#ff6700" fill-rule="evenodd"/>
<path d="M359.3 485.4 385.5 486.5 412.9 486.3 428.3 485.4 435.5 484.7 442 483.8 446.4 482.2 443.9 480.5 433.3 478.9 424.8 478.3 401 477.4 376 477.7 355.6 478.9 344.7 480.5 342 482.2 346 483.8 359.3 485.4ZM387.9 433.7 395 434 398.6 433.6 402.2 432.6 406 430.4 407.2 428.8 407.2 427.2 406.2 425.6 403.8 424 398.6 422.4 391.5 422.2 385.5 423.4 383.8 424 381.4 425.6 380.3 427.2 380.1 428.8 380.9 430.4 382.9 432.1 387.9 433.7Z" fill="#f10700" fill-rule="evenodd"/>
<path d="M362.9 483.9 381.9 485.1 402.2 485.2 414.1 484.7 426 483.8 432.4 482.2 429.1 480.5 414.1 479.1 399.8 478.6 383.1 478.8 372.4 479.3 359.6 480.5 356.1 482.2 362.9 483.9Z" fill="#7f0000" fill-rule="evenodd"/>
<path d="M258.3 506.7 352.2 507.3 448.5 506.9M448.5 452.6 441.4 449 440.4 448.2 439.4 446.6 439.9 445 442.2 443.4 448.5 441.2M448.5 414.1 442.6 411 439.1 407.8 437.5 404.6 436.8 398.1 435.5 396 434 394.9 430.6 393.3 421.2 391 411.7 389.8 402.2 389.1 391.5 389 380.8 389.4 368.9 390.5 359.3 392 349.8 394 342.7 395.9 333.2 399.2 320.2 404.6 307 408.9 302.2 411 300.4 412.7 299.9 414.3 300.6 415.9 303.3 419.1 304.1 420.7 304 424 302.8 427.2 299.9 430.4 289.1 436.9 287.3 438.5 286.7 440.1 287.5 441.8 289.9 443.4 292.7 444.6 299.9 446.9 317.4 451.5 327.5 454.7 340.4 459.5 343.3 461.1 344 462.8 341.5 464.4 335.3 466 324.5 467.6 258.3 473.3M258.3 505.2 352.2 505.9 448.5 505.4M448.5 467.5 410.9 462.8 408.3 461.1 425.9 457.1 432.8 454.7 434.7 453.1 434.9 451.5 433.7 448.2 433.8 446.6 434.7 445 436.9 443.4 440.4 441.8 448.5 439.3M448.5 417.1 442.2 414.3 436.8 411 433 407.8 427.1 401.9 423.6 399.8 420 398.4 414.1 397 401 395.7 391.5 395.5 381.9 395.9 371.2 397 362.9 398.4 352.2 401 336.6 406.2 320.1 410.9 316.4 412.7 315.5 414.3 316.4 415.9 319.1 419.1 319.7 420.7 319.3 424 318.2 427.2 316.3 430.4 314.6 432.1 307.8 436.9 306.3 438.5 306 440.1 307.3 441.8 310.3 443.4 318.9 446.1 359.3 456.6 384 461.1 386.2 462.8 379.6 464.4 360.3 467.6 346 469.2 283.2 474.3 269 476 258.3 477.9M258.3 503.9 302.3 504.6 352.2 504.9 403.3 504.7 448.5 504.1M448.5 496.9 428.3 496.5 411.5 495.1 427.1 494 448.5 493.5M448.5 471.1 417.6 468.6 406.9 468.2 396.2 468.4 320.1 473.2 290.4 476 281 477.3 273.2 478.9 268.6 480.5 266.7 482.2 267.1 483.8 269.4 485.4 277 488.6 279.7 490.2 278.4 491.9 270.2 493.5 258.3 494.8M448.5 420.4 436.4 414.3 422.4 405.3 418.8 403.6 414.1 402.1 405.7 400.7 395 400.1 384.3 400.4 373.6 401.5 366.5 402.7 358.2 404.7 337 411 332.6 412.7 330.5 414.3 330.2 415.9 331 419.1 330.9 420.7 328.3 428.8 326.3 432.1 321.4 436.9 320.4 438.5 320.7 440.1 322.5 441.7 326.2 443.4 334.4 445.8 354.6 450.7 364.1 452.7 374.8 454.4 385.5 455.4 395 455.6 403.3 455.3 410.5 454.6 416.4 453.6 421.2 452.3 424.8 450.4 429.4 445 431.7 443.4 437.8 440.6 448.5 437.1M258.3 501.7 283.3 503.2 341.5 503.9 410.5 503.6 436 503.2 448.5 502.5M448.5 498.5 409.3 497 402.2 496.4 393.7 495.1 409.7 493.5 448.5 492.1M448.5 473.1 415.2 471.3 384.3 471.4 334.4 473.8 314.2 475.4 297.4 477.3 288.6 478.9 283.5 480.5 281.7 482.2 282.6 483.8 286 485.4 289.2 486.4 306 490.2 311.6 491.9 311.2 493.5 301.1 495.1 269.1 498.3 259.4 499.9 258.3 500.6M448.5 427.1 446.4 424 442 420.7 423.6 410.3 416.4 407.1 409.3 405.2 401 404.1 391.5 403.8 381.9 404.3 372.4 405.6 362.9 407.8 352.1 411 347.7 412.7 344.6 414.3 342.7 415.9 341.5 417.9 338.8 424 336.6 430.4 332.8 436.9 332.5 438.5 333.4 440.1 334.4 440.8 335.9 441.8 340.1 443.4 349.8 446 362.9 448.8 373.6 450.6 383.1 451.5 392.6 451.9 401 451.7 410.5 450.5 417.6 448.3 429.4 441.8 444.7 435.3 446.9 433.7 448.5 431.2M448.5 474.7 424.8 473.3 404.5 472.8 381.9 473 358.2 473.8 332 475.4 312.2 477.3 301.1 479.2 296.6 480.5 294.7 482.2 296.1 483.8 300.5 485.4 311.8 487.7 336.8 490.9 359.3 492.8 371.2 493 387.9 492.7 424.8 491.5 448.5 490.1M305.8 501.6 332 502.3 360.5 502.6 389.1 502.3 415.7 501.6 413.7 499.9 395 498.3 370 497.1 358.2 496.8 343.9 497.2 324.4 498.3 308.9 499.9 305 501.6 305.8 501.6M381.9 448.3 391.5 448.7 399.8 448.4 406.9 447.5 414.1 445.6 430.7 438.5 437.1 435.3 439.2 433.7 440.4 432.1 441.1 430.4 441.3 428.8 441.1 427.2 440.4 425.6 437.5 422.4 432.9 419.1 427.2 415.9 416.4 410.8 411.7 409.3 406.9 408.3 401 407.5 395 407.2 383.1 407.7 371.2 409.5 360.3 412.7 353.5 415.9 351 417.9 348.6 420.7 346.7 424 345.6 427.2 343.2 435.3 343 436.9 343.5 438.5 345.2 440.1 348.4 441.8 354.6 443.7 368.9 446.6 381.9 448.3M448.5 476 428.3 474.8 406.9 474.2 384.3 474.2 361.7 474.9 339.1 476.2 322.5 477.8 314.9 478.9 309.4 480.3 308.7 480.5 306.7 482.2 308.5 483.8 309.4 484.1 314.1 485.4 321.3 486.7 335.6 488.4 358.2 490 379.6 490.6 401 490.6 427.1 489.8 448.5 488.3M379.6 445 389.1 445.6 398.6 445.3 406.9 444.1 414.1 442.2 423.4 438.5 429.6 435.3 431.6 433.7 432.9 432.1 433.7 430.4 434 428.8 433.9 427.2 432.2 424 428.6 420.7 425.9 419 416.4 414.3 411.7 412.8 406.9 411.6 397.4 410.5 386.7 410.6 377.2 411.9 367.9 414.3 360.8 417.5 358.2 419.5 355.4 422.4 353.6 425.6 352.7 428.8 352.3 433.7 352.9 436.9 354.2 438.5 356.9 440.1 361.3 441.8 368.9 443.5 379.6 445M448.5 477.4 429.5 476.1 409.3 475.3 389.1 475.2 368.9 475.7 346.3 476.9 330.8 478.5 320.3 480.5 318.2 482.2 320.6 483.8 327.5 485.4 333.2 486.2 349.8 487.8 370 488.8 389.1 489.2 409.3 488.9 430.7 488.1 448.5 486.7M379.6 441.9 387.9 442.5 396.2 442.4 404.5 441.3 411.7 439.5 418.5 436.9 423.7 433.7 425.2 432.1 426.1 430.4 426.6 428.8 426.5 427.2 425.9 425.6 424.8 424 421.1 420.7 414.8 417.5 406.9 415.1 398.6 413.8 390.3 413.7 381.9 414.6 374.8 416.2 367.8 419.1 363.5 422.4 362.1 424 360.7 427.2 360.4 428.8 360.5 432.1 361.7 435.3 363.2 436.9 365.8 438.5 371.2 440.4 379.6 441.9M448.5 479 431.9 477.4 416.4 476.7 397.4 476.3 377.2 476.5 358.8 477.3 340.6 478.9 332.1 480.5 329.8 482.2 332.8 483.8 342.7 485.5 359.3 486.9 378.4 487.7 398.6 487.8 417.6 487.4 435.5 486.3 448.5 484.9M383.1 438.5 389.1 439 396.2 438.9 401 438.3 407.1 436.9 411.7 435.2 414.4 433.7 416.4 432.1 417.7 430.4 418.3 428.8 418.3 427.2 417.6 425.6 416.4 424 414.4 422.4 409.3 419.8 403.3 418.2 397.4 417.4 391.5 417.3 385.5 417.9 379.6 419.2 374.8 421.2 371 424 369.8 425.6 369.1 427.2 369.1 430.4 369.7 432.1 370.8 433.7 372.7 435.3 376.1 436.9 383.1 438.5M359.3 485.4 385.5 486.5 412.9 486.3 428.3 485.4 435.5 484.7 442 483.8 446.4 482.2 443.9 480.5 433.3 478.9 424.8 478.3 401 477.4 376 477.7 355.6 478.9 344.7 480.5 342 482.2 346 483.8 359.3 485.4M387.9 433.7 395 434 398.6 433.6 402.2 432.6 406 430.4 407.2 428.8 407.2 427.2 406.2 425.6 403.8 424 398.6 422.4 391.5 422.2 385.5 423.4 383.8 424 381.4 425.6 380.3 427.2 380.1 428.8 380.9 430.4 382.9 432.1 387.9 433.7M362.9 483.9 381.9 485.1 402.2 485.2 414.1 484.7 426 483.8 432.4 482.2 429.1 480.5 414.1 479.1 399.8 478.6 383.1 478.8 372.4 479.3 359.6 480.5 356.1 482.2 362.9 483.9" fill="none" stroke="#000" stroke-opacity="0.55" stroke-width="0.4"/>
</g>
<rect x="259.2" y="380" width="188.4" height="152.6" fill="none" stroke="#222" stroke-width="0.9"/>
<line x1="259.2" y1="532.6" x2="257" y2="532.6" stroke="#161616" stroke-width="0.8"/>
<text x="254.3" y="535.8" font-size="9.0" text-anchor="end" fill="#161616">0</text>
<line x1="259.2" y1="519.88" x2="257.9" y2="519.88" stroke="#161616" stroke-width="0.8"/>
<line x1="259.2" y1="507.17" x2="257" y2="507.17" stroke="#161616" stroke-width="0.8"/>
<text x="254.3" y="510.37" font-size="9.0" text-anchor="end" fill="#161616">1</text>
<line x1="259.2" y1="494.45" x2="257.9" y2="494.45" stroke="#161616" stroke-width="0.8"/>
<line x1="259.2" y1="481.73" x2="257" y2="481.73" stroke="#161616" stroke-width="0.8"/>
<text x="254.3" y="484.93" font-size="9.0" text-anchor="end" fill="#161616">2</text>
<line x1="259.2" y1="469.02" x2="257.9" y2="469.02" stroke="#161616" stroke-width="0.8"/>
<line x1="259.2" y1="456.3" x2="257" y2="456.3" stroke="#161616" stroke-width="0.8"/>
<text x="254.3" y="459.5" font-size="9.0" text-anchor="end" fill="#161616">3</text>
<line x1="259.2" y1="443.58" x2="257.9" y2="443.58" stroke="#161616" stroke-width="0.8"/>
<line x1="259.2" y1="430.87" x2="257" y2="430.87" stroke="#161616" stroke-width="0.8"/>
<text x="254.3" y="434.07" font-size="9.0" text-anchor="end" fill="#161616">4</text>
<line x1="259.2" y1="418.15" x2="257.9" y2="418.15" stroke="#161616" stroke-width="0.8"/>
<line x1="259.2" y1="405.43" x2="257" y2="405.43" stroke="#161616" stroke-width="0.8"/>
<text x="254.3" y="408.63" font-size="9.0" text-anchor="end" fill="#161616">5</text>
<line x1="259.2" y1="392.72" x2="257.9" y2="392.72" stroke="#161616" stroke-width="0.8"/>
<line x1="259.2" y1="380" x2="257" y2="380" stroke="#161616" stroke-width="0.8"/>
<text x="254.3" y="383.2" font-size="9.0" text-anchor="end" fill="#161616">6</text>
<line x1="259.2" y1="532.6" x2="259.2" y2="534.8" stroke="#161616" stroke-width="0.8"/>
<text x="259.2" y="545.1" font-size="9.0" text-anchor="middle" fill="#161616">0</text>
<line x1="278.04" y1="532.6" x2="278.04" y2="533.9" stroke="#161616" stroke-width="0.8"/>
<line x1="296.88" y1="532.6" x2="296.88" y2="534.8" stroke="#161616" stroke-width="0.8"/>
<text x="296.88" y="545.1" font-size="9.0" text-anchor="middle" fill="#161616">2</text>
<line x1="315.72" y1="532.6" x2="315.72" y2="533.9" stroke="#161616" stroke-width="0.8"/>
<line x1="334.56" y1="532.6" x2="334.56" y2="534.8" stroke="#161616" stroke-width="0.8"/>
<text x="334.56" y="545.1" font-size="9.0" text-anchor="middle" fill="#161616">4</text>
<line x1="353.4" y1="532.6" x2="353.4" y2="533.9" stroke="#161616" stroke-width="0.8"/>
<line x1="372.24" y1="532.6" x2="372.24" y2="534.8" stroke="#161616" stroke-width="0.8"/>
<text x="372.24" y="545.1" font-size="9.0" text-anchor="middle" fill="#161616">6</text>
<line x1="391.08" y1="532.6" x2="391.08" y2="533.9" stroke="#161616" stroke-width="0.8"/>
<line x1="409.92" y1="532.6" x2="409.92" y2="534.8" stroke="#161616" stroke-width="0.8"/>
<text x="409.92" y="545.1" font-size="9.0" text-anchor="middle" fill="#161616">8</text>
<line x1="428.76" y1="532.6" x2="428.76" y2="533.9" stroke="#161616" stroke-width="0.8"/>
<line x1="447.6" y1="532.6" x2="447.6" y2="534.8" stroke="#161616" stroke-width="0.8"/>
<text x="447.6" y="545.1" font-size="9.0" text-anchor="middle" fill="#161616">10</text>
<text transform="translate(245.8 456.3) rotate(-90)" font-size="9.2" text-anchor="middle" fill="#161616">R+ΔR (Å)</text>
<text x="353.4" y="558.1" font-size="9.0" text-anchor="middle" fill="#161616">k (Å<tspan font-size="6.3" dy="-3.4">-1</tspan><tspan dy="3.4">)</tspan></text>
<text x="265.4" y="391.7" font-size="9.2" fill="#f0f0f0">CoNC-Si</text>
<text x="224.6" y="380.8" font-size="14" font-weight="bold">h</text>
<text x="464" y="380.4" font-size="14" font-weight="bold">i</text>
<defs><radialGradient id="ga" cx="0.35" cy="0.35" r="0.75"><stop offset="0" stop-color="#d8d8d8"/><stop offset="0.55" stop-color="#858585"/><stop offset="1" stop-color="#505050"/></radialGradient><radialGradient id="gad" cx="0.35" cy="0.35" r="0.75"><stop offset="0" stop-color="#b0b0b0"/><stop offset="0.55" stop-color="#6a6a6a"/><stop offset="1" stop-color="#3e3e3e"/></radialGradient><radialGradient id="gh" cx="0.4" cy="0.35" r="0.75"><stop offset="0" stop-color="#ffffff"/><stop offset="0.7" stop-color="#e6e6e6"/><stop offset="1" stop-color="#9a9a9a"/></radialGradient><radialGradient id="gco" cx="0.35" cy="0.35" r="0.75"><stop offset="0" stop-color="#ffc0e8"/><stop offset="0.5" stop-color="#e64fb0"/><stop offset="1" stop-color="#a02078"/></radialGradient><radialGradient id="gn" cx="0.35" cy="0.35" r="0.75"><stop offset="0" stop-color="#8080ff"/><stop offset="0.5" stop-color="#1a1ae6"/><stop offset="1" stop-color="#0a0a90"/></radialGradient></defs>
<path d="M562.5 421.93L565.39 428.49M539.32 411.68L545.11 414.24M521.93 393.43L527.73 395.99M539.32 432.81L545.11 435.37M571.19 420.49L574.09 427.05M548.01 441.94L545.11 445.94M591.47 413.61L597.26 416.17M571.19 388.79L574.09 395.35M553.8 412.8L556.7 419.37M582.78 404.48L579.88 408.48M545.11 435.37L548.01 441.94M588.57 417.61L591.47 424.17M527.73 427.69L530.62 434.25M597.26 416.17L600.16 422.73M571.19 399.36L574.09 395.35M565.39 428.49L571.19 431.05M553.8 391.67L556.7 387.67M530.62 381.42L536.42 383.98M571.19 431.05L574.09 427.05M556.7 387.67L562.5 390.23M536.42 405.12L539.32 401.11M536.42 436.81L539.32 443.38M565.39 417.93L562.5 421.93M600.16 422.73L597.26 426.73M582.78 415.05L588.57 417.61M539.32 401.11L545.11 403.68M556.7 440.5L562.5 443.06M521.93 414.56L527.73 417.12M582.78 415.05L579.88 419.05M574.09 427.05L579.88 429.61M545.11 424.81L548.01 431.37M562.5 390.23L565.39 396.79M565.39 407.36L562.5 411.36M556.7 419.37L562.5 421.93M527.73 417.12L530.62 423.68M545.11 382.54L548.01 389.11M545.11 403.68L548.01 410.24M548.01 378.54L545.11 382.54M536.42 415.68L539.32 422.25M548.01 389.11L553.8 391.67M527.73 395.99L530.62 402.55M571.19 420.49L574.09 416.49M539.32 443.38L545.11 445.94M548.01 410.24L553.8 412.8M530.62 423.68L536.42 426.25M519.03 408L521.93 414.56M565.39 428.49L562.5 432.49M553.8 412.8L556.7 408.8M530.62 402.55L536.42 405.12M519.03 386.86L521.93 382.86M582.78 425.61L579.88 429.61M548.01 420.81L545.11 424.81M536.42 426.25L539.32 422.25M582.78 393.92L579.88 397.92M574.09 395.35L579.88 397.92M530.62 413.12L527.73 417.12M521.93 382.86L527.73 385.42M519.03 418.56L521.93 414.56M574.09 416.49L579.88 419.05M579.88 397.92L582.78 404.48M556.7 408.8L562.5 411.36M579.88 419.05L582.78 425.61M562.5 432.49L565.39 439.06M553.8 391.67L556.7 398.23M519.03 386.86L521.93 393.43M562.5 411.36L565.39 417.93M553.8 381.11L556.7 387.67M548.01 399.67L553.8 402.24M536.42 383.98L539.32 390.55M527.73 385.42L530.62 391.99M565.39 439.06L571.19 441.62M548.01 399.67L545.11 403.68M530.62 391.99L536.42 394.55M530.62 423.68L527.73 427.69M582.78 404.48L588.57 407.04M548.01 431.37L553.8 433.93M553.8 402.24L556.7 398.23M530.62 391.99L527.73 395.99M582.78 436.18L579.88 440.18M565.39 396.79L571.19 399.36M553.8 423.37L556.7 429.93M536.42 394.55L539.32 390.55M565.39 417.93L571.19 420.49M527.73 406.56L530.62 413.12M571.19 388.79L574.09 384.79M591.47 424.17L597.26 426.73M553.8 433.93L556.7 429.93M519.03 397.43L521.93 403.99M530.62 434.25L536.42 436.81M548.01 378.54L553.8 381.11M539.32 390.55L545.11 393.11M530.62 381.42L527.73 385.42M556.7 429.93L562.5 432.49M545.11 393.11L548.01 399.67M539.32 422.25L545.11 424.81M571.19 399.36L574.09 405.92M571.19 378.23L574.09 384.79M519.03 408L521.93 403.99M519.03 429.13L521.93 425.12M571.19 431.05L574.09 437.62M562.5 379.67L565.39 386.23M582.78 425.61L588.57 428.17M571.19 409.92L574.09 405.92M521.93 425.12L527.73 427.69M574.09 405.92L579.88 408.48M571.19 441.62L574.09 437.62M545.11 414.24L548.01 420.81M565.39 396.79L562.5 400.8M521.93 403.99L527.73 406.56M556.7 398.23L562.5 400.8M548.01 389.11L545.11 393.11M565.39 386.23L571.19 388.79M588.57 428.17L591.47 424.17M548.01 420.81L553.8 423.37M536.42 405.12L539.32 411.68M548.01 441.94L553.8 444.5M588.57 428.17L591.47 434.74M571.19 409.92L574.09 416.49M553.8 433.93L556.7 440.5M536.42 383.98L539.32 379.98M530.62 413.12L536.42 415.68M588.57 407.04L591.47 413.61M579.88 408.48L582.78 415.05M553.8 402.24L556.7 408.8M574.09 437.62L579.88 440.18M553.8 444.5L556.7 440.5M536.42 426.25L539.32 432.81M574.09 384.79L579.88 387.35M562.5 400.8L565.39 407.36M536.42 394.55L539.32 401.11M519.03 397.43L521.93 393.43M536.42 436.81L539.32 432.81M519.03 418.56L521.93 425.12M565.39 386.23L562.5 390.23M548.01 410.24L545.11 414.24M553.8 423.37L556.7 419.37M565.39 439.06L562.5 443.06M588.57 417.61L591.47 413.61M565.39 407.36L571.19 409.92M539.32 379.98L545.11 382.54M530.62 402.55L527.73 406.56M536.42 415.68L539.32 411.68M548.01 431.37L545.11 435.37M579.88 429.61L582.78 436.18M579.88 387.35L582.78 393.92" stroke="#8a8a8a" stroke-width="1.3" fill="none"/>
<g fill="url(#ga)"><circle cx="571.19" cy="378.23" r="2.04"/><circle cx="548.01" cy="378.54" r="2.05"/><circle cx="562.5" cy="379.67" r="2.06"/><circle cx="539.32" cy="379.98" r="2.06"/><circle cx="553.8" cy="381.11" r="2.07"/><circle cx="530.62" cy="381.42" r="2.07"/><circle cx="545.11" cy="382.54" r="2.08"/><circle cx="521.93" cy="382.86" r="2.08"/><circle cx="536.42" cy="383.98" r="2.09"/><circle cx="574.09" cy="384.79" r="2.1"/><circle cx="527.73" cy="385.42" r="2.1"/><circle cx="565.39" cy="386.23" r="2.11"/><circle cx="519.03" cy="386.86" r="2.11"/><circle cx="579.88" cy="387.35" r="2.12"/><circle cx="556.7" cy="387.67" r="2.12"/><circle cx="571.19" cy="388.79" r="2.13"/><circle cx="548.01" cy="389.11" r="2.13"/><circle cx="562.5" cy="390.23" r="2.14"/><circle cx="539.32" cy="390.55" r="2.14"/><circle cx="553.8" cy="391.67" r="2.15"/><circle cx="530.62" cy="391.99" r="2.15"/><circle cx="545.11" cy="393.11" r="2.16"/><circle cx="521.93" cy="393.43" r="2.17"/><circle cx="582.78" cy="393.92" r="2.17"/><circle cx="536.42" cy="394.55" r="2.17"/><circle cx="574.09" cy="395.35" r="2.18"/><circle cx="527.73" cy="395.99" r="2.19"/><circle cx="565.39" cy="396.79" r="2.19"/><circle cx="519.03" cy="397.43" r="2.2"/><circle cx="579.88" cy="397.92" r="2.2"/><circle cx="556.7" cy="398.23" r="2.2"/><circle cx="571.19" cy="399.36" r="2.21"/><circle cx="548.01" cy="399.67" r="2.22"/><circle cx="562.5" cy="400.8" r="2.22"/><circle cx="539.32" cy="401.11" r="2.23"/><circle cx="553.8" cy="402.24" r="2.24"/><circle cx="530.62" cy="402.55" r="2.24"/><circle cx="545.11" cy="403.68" r="2.25"/><circle cx="521.93" cy="403.99" r="2.25"/><circle cx="582.78" cy="404.48" r="2.25"/><circle cx="536.42" cy="405.12" r="2.26"/><circle cx="574.09" cy="405.92" r="2.27"/><circle cx="527.73" cy="406.56" r="2.27"/><circle cx="588.57" cy="407.04" r="2.27"/><circle cx="565.39" cy="407.36" r="2.28"/><circle cx="519.03" cy="408" r="2.28"/><circle cx="579.88" cy="408.48" r="2.29"/><circle cx="556.7" cy="408.8" r="2.29"/><circle cx="571.19" cy="409.92" r="2.3"/><circle cx="548.01" cy="410.24" r="2.3"/><circle cx="562.5" cy="411.36" r="2.31"/><circle cx="539.32" cy="411.68" r="2.31"/><circle cx="553.8" cy="412.8" r="2.32"/><circle cx="530.62" cy="413.12" r="2.32"/><circle cx="591.47" cy="413.61" r="2.33"/><circle cx="545.11" cy="414.24" r="2.33"/><circle cx="521.93" cy="414.56" r="2.33"/><circle cx="582.78" cy="415.05" r="2.34"/><circle cx="536.42" cy="415.68" r="2.34"/><circle cx="597.26" cy="416.17" r="2.35"/><circle cx="574.09" cy="416.49" r="2.35"/><circle cx="527.73" cy="417.12" r="2.35"/><circle cx="588.57" cy="417.61" r="2.36"/><circle cx="565.39" cy="417.93" r="2.36"/><circle cx="519.03" cy="418.56" r="2.37"/><circle cx="579.88" cy="419.05" r="2.37"/><circle cx="556.7" cy="419.37" r="2.37"/><circle cx="571.19" cy="420.49" r="2.38"/><circle cx="548.01" cy="420.81" r="2.38"/><circle cx="562.5" cy="421.93" r="2.39"/><circle cx="539.32" cy="422.25" r="2.4"/><circle cx="600.16" cy="422.73" r="2.4"/><circle cx="553.8" cy="423.37" r="2.4"/><circle cx="530.62" cy="423.68" r="2.41"/><circle cx="591.47" cy="424.17" r="2.41"/><circle cx="545.11" cy="424.81" r="2.42"/><circle cx="521.93" cy="425.12" r="2.42"/><circle cx="582.78" cy="425.61" r="2.42"/><circle cx="536.42" cy="426.25" r="2.43"/><circle cx="597.26" cy="426.73" r="2.43"/><circle cx="574.09" cy="427.05" r="2.43"/><circle cx="527.73" cy="427.69" r="2.44"/><circle cx="588.57" cy="428.17" r="2.44"/><circle cx="565.39" cy="428.49" r="2.45"/><circle cx="519.03" cy="429.13" r="2.45"/><circle cx="579.88" cy="429.61" r="2.45"/><circle cx="556.7" cy="429.93" r="2.46"/><circle cx="571.19" cy="431.05" r="2.47"/><circle cx="548.01" cy="431.37" r="2.47"/><circle cx="562.5" cy="432.49" r="2.48"/><circle cx="539.32" cy="432.81" r="2.48"/><circle cx="553.8" cy="433.93" r="2.49"/><circle cx="530.62" cy="434.25" r="2.49"/><circle cx="591.47" cy="434.74" r="2.5"/><circle cx="545.11" cy="435.37" r="2.5"/><circle cx="582.78" cy="436.18" r="2.51"/><circle cx="536.42" cy="436.81" r="2.51"/><circle cx="574.09" cy="437.62" r="2.52"/><circle cx="565.39" cy="439.06" r="2.53"/><circle cx="579.88" cy="440.18" r="2.54"/><circle cx="556.7" cy="440.5" r="2.54"/><circle cx="571.19" cy="441.62" r="2.55"/><circle cx="548.01" cy="441.94" r="2.55"/><circle cx="562.5" cy="443.06" r="2.56"/><circle cx="539.32" cy="443.38" r="2.57"/><circle cx="553.8" cy="444.5" r="2.57"/><circle cx="545.11" cy="445.94" r="2.59"/></g>
<g fill="url(#gh)"><circle cx="522" cy="430" r="2.0"/><circle cx="529" cy="437" r="2.0"/><circle cx="540.7" cy="444.8" r="2.0"/><circle cx="549" cy="448" r="2.0"/><circle cx="577.6" cy="384.1" r="2.0"/><circle cx="581.7" cy="392.9" r="2.0"/><circle cx="589.1" cy="404.4" r="2.0"/><circle cx="595.9" cy="410.5" r="2.0"/></g>
<path d="M617.61 430.17L622.87 428.64M623.04 383.17L628.3 381.64M604.74 421.53L610 420M591.3 437.83L595.59 440.71M620.52 416.94L625.79 415.4M626.19 435.93L627.16 431.52M625.79 415.4L630.08 418.28M614.69 443.41L619.95 441.87M632.42 429.99L633.39 425.57M601.82 434.77L607.08 433.24M595.59 440.71L600.85 439.18M579.8 445.31L585.06 443.78M619.55 421.35L620.52 416.94M607.08 433.24L611.37 436.12M598.9 448L604.17 446.47M622.47 408.11L626.76 410.99M630.08 418.28L629.1 422.69M617.21 409.64L616.23 414.06M626.76 410.99L632.02 409.46M611.37 436.12L610.4 440.53M608.06 428.82L613.32 427.29M632.02 409.46L636.31 412.34M597.53 431.89L601.82 434.77M619.15 400.82L623.44 403.7M628.7 402.17L632.99 405.05M610.97 415.59L616.23 414.06M636.31 412.34L635.34 416.75M623.44 403.7L622.47 408.11M613.32 427.29L617.61 430.17M617.61 430.17L616.63 434.58M604.74 421.53L603.77 425.94M620.12 396.41L625.39 394.88M618.75 380.29L623.04 383.17M625.39 394.88L629.68 397.76M614.29 422.88L619.55 421.35M616.63 434.58L620.92 437.46M620.92 437.46L626.19 435.93M623.84 424.23L629.1 422.69M603.77 425.94L608.06 428.82M619.55 421.35L623.84 424.23M617.21 409.64L622.47 408.11M632.02 409.46L632.99 405.05M610.4 440.53L614.69 443.41M629.68 397.76L628.7 402.17M619.15 400.82L620.12 396.41M629.28 377.23L628.3 381.64M625.79 415.4L626.76 410.99M589.35 446.66L594.61 445.12M626.36 390.46L631.62 388.93M613.32 427.29L614.29 422.88M600.85 439.18L601.82 434.77M610.97 415.59L610 420M619.95 441.87L620.92 437.46M607.08 433.24L608.06 428.82M610 420L614.29 422.88M631.62 388.93L635.91 391.81M579.8 445.31L578.83 449.72M635.91 391.81L634.94 396.22M623.04 383.17L622.07 387.58M632.42 429.99L636.71 432.87M630.08 418.28L635.34 416.75M605.14 442.06L610.4 440.53M623.84 424.23L622.87 428.64M611.37 436.12L616.63 434.58M585.06 443.78L589.35 446.66M622.07 387.58L626.36 390.46M631.62 388.93L632.59 384.52M564.01 449.91L569.27 448.37M600.85 439.18L605.14 442.06M628.3 381.64L632.59 384.52M612.92 406.76L617.21 409.64M629.68 397.76L634.94 396.22M594.61 445.12L598.9 448M622.87 428.64L627.16 431.52M629.1 422.69L633.39 425.57M616.23 414.06L620.52 416.94M623.44 403.7L628.7 402.17M627.16 431.52L632.42 429.99M605.14 442.06L604.17 446.47M594.61 445.12L595.59 440.71M625.39 394.88L626.36 390.46" stroke="#808080" stroke-width="1.5" fill="none"/>
<g fill="url(#gad)"><circle cx="618.75" cy="380.29" r="2.8"/><circle cx="623.04" cy="383.17" r="2.8"/><circle cx="629.28" cy="377.23" r="2.8"/><circle cx="622.07" cy="387.58" r="2.8"/><circle cx="628.3" cy="381.64" r="2.8"/><circle cx="564.01" cy="449.91" r="2.8"/><circle cx="620.12" cy="396.41" r="2.8"/><circle cx="626.36" cy="390.46" r="2.8"/><circle cx="632.59" cy="384.52" r="2.8"/><circle cx="569.27" cy="448.37" r="2.8"/><circle cx="612.92" cy="406.76" r="2.8"/><circle cx="619.15" cy="400.82" r="2.8"/><circle cx="625.39" cy="394.88" r="2.8"/><circle cx="631.62" cy="388.93" r="2.8"/><circle cx="579.8" cy="445.31" r="2.8"/><circle cx="604.74" cy="421.53" r="2.8"/><circle cx="610.97" cy="415.59" r="2.8"/><circle cx="617.21" cy="409.64" r="2.8"/><circle cx="623.44" cy="403.7" r="2.8"/><circle cx="629.68" cy="397.76" r="2.8"/><circle cx="635.91" cy="391.81" r="2.8"/><circle cx="578.83" cy="449.72" r="2.8"/><circle cx="585.06" cy="443.78" r="2.8"/><circle cx="591.3" cy="437.83" r="2.8"/><circle cx="597.53" cy="431.89" r="2.8"/><circle cx="603.77" cy="425.94" r="2.8"/><circle cx="610" cy="420" r="2.8"/><circle cx="616.23" cy="414.06" r="2.8"/><circle cx="622.47" cy="408.11" r="2.8"/><circle cx="628.7" cy="402.17" r="2.8"/><circle cx="634.94" cy="396.22" r="2.8"/><circle cx="589.35" cy="446.66" r="2.8"/><circle cx="595.59" cy="440.71" r="2.8"/><circle cx="601.82" cy="434.77" r="2.8"/><circle cx="608.06" cy="428.82" r="2.8"/><circle cx="614.29" cy="422.88" r="2.8"/><circle cx="620.52" cy="416.94" r="2.8"/><circle cx="626.76" cy="410.99" r="2.8"/><circle cx="632.99" cy="405.05" r="2.8"/><circle cx="594.61" cy="445.12" r="2.8"/><circle cx="600.85" cy="439.18" r="2.8"/><circle cx="607.08" cy="433.24" r="2.8"/><circle cx="613.32" cy="427.29" r="2.8"/><circle cx="619.55" cy="421.35" r="2.8"/><circle cx="625.79" cy="415.4" r="2.8"/><circle cx="632.02" cy="409.46" r="2.8"/><circle cx="598.9" cy="448" r="2.8"/><circle cx="605.14" cy="442.06" r="2.8"/><circle cx="611.37" cy="436.12" r="2.8"/><circle cx="617.61" cy="430.17" r="2.8"/><circle cx="623.84" cy="424.23" r="2.8"/><circle cx="630.08" cy="418.28" r="2.8"/><circle cx="636.31" cy="412.34" r="2.8"/><circle cx="604.17" cy="446.47" r="2.8"/><circle cx="610.4" cy="440.53" r="2.8"/><circle cx="616.63" cy="434.58" r="2.8"/><circle cx="622.87" cy="428.64" r="2.8"/><circle cx="629.1" cy="422.69" r="2.8"/><circle cx="635.34" cy="416.75" r="2.8"/><circle cx="614.69" cy="443.41" r="2.8"/><circle cx="620.92" cy="437.46" r="2.8"/><circle cx="627.16" cy="431.52" r="2.8"/><circle cx="633.39" cy="425.57" r="2.8"/><circle cx="619.95" cy="441.87" r="2.8"/><circle cx="626.19" cy="435.93" r="2.8"/><circle cx="632.42" cy="429.99" r="2.8"/><circle cx="636.71" cy="432.87" r="2.8"/></g>
<g fill="url(#gh)"><circle cx="616.8" cy="398.3" r="3.0"/><circle cx="609.4" cy="412.5" r="3.0"/><circle cx="596.5" cy="430" r="2.8"/><circle cx="587" cy="439.6" r="2.8"/><circle cx="572.9" cy="446.4" r="2.5"/></g>
<line x1="556.7" y1="408.8" x2="553.5" y2="399.6" stroke="#2a2ae0" stroke-width="1.3"/>
<line x1="556.7" y1="408.8" x2="547.3" y2="407.6" stroke="#2a2ae0" stroke-width="1.3"/>
<line x1="556.7" y1="408.8" x2="565.8" y2="409.5" stroke="#2a2ae0" stroke-width="1.3"/>
<line x1="556.7" y1="408.8" x2="561.6" y2="417.6" stroke="#2a2ae0" stroke-width="1.3"/>
<g fill="url(#gn)"><circle cx="553.5" cy="399.6" r="2.1"/><circle cx="547.3" cy="407.6" r="2.1"/><circle cx="565.8" cy="409.5" r="2.1"/><circle cx="561.6" cy="417.6" r="2.1"/></g>
<circle cx="556.7" cy="408.8" r="3.3" fill="url(#gco)"/>
<path d="M555.31 480.51L557.55 483.1M587.72 480.51L584.18 478.17M623.6 489.17L631.2 489.17M598.16 492.76L603.76 496.82M595.97 485.97L598.45 483.1M598.16 492.76L600.8 489.17M589.6 520.17L594 512.92M573.97 492.76L578 496.82M636.66 512.92L637.21 506.75M573.97 492.76L578 489.17M604.66 512.92L607.61 506.75M578 496.82L586.59 496.82M545.86 501.44L548.39 506.75M549.78 492.76L555.2 489.17M557.55 483.1L564.37 483.1M614.28 492.76L608.4 489.17M545.86 501.44L552.24 496.82M594 512.92L604.66 512.92M590.09 492.76L585.6 489.17M564.37 483.1L568.28 480.51M518.79 506.75L528.66 506.75M614.28 492.76L622.35 492.76M625.99 512.92L617.48 506.75M586.59 496.82L590.09 492.76M560.83 496.82L565.91 492.76M622.35 492.76L629.52 496.82M594.21 480.51L598.45 483.1M568.28 480.51L574.76 480.51M559.46 478.17L565.64 478.17M548.83 480.51L555.31 480.51M528.66 506.75L536.67 501.44M598.45 483.1L605.26 483.1M624.4 520.17L625.99 512.92M573.41 501.44L578 506.75M578 483.1L584.82 483.1M625.99 512.92L636.66 512.92M617.53 485.97L618.9 483.1M603.76 496.82L612.35 496.82M555.2 489.17L562.8 489.17M531.29 485.97L532.4 489.17M605.26 483.1L607.17 480.51M532.4 489.17L540 489.17M612.35 496.82L614.28 492.76M578 506.75L587.87 506.75M584.82 483.1L587.72 480.51M548.39 506.75L558.26 506.75M587.87 506.75L591.78 501.44M587.72 480.51L594.21 480.51M562.8 489.17L567.22 485.97M545.66 485.97L543.92 483.1M591.78 501.44L586.59 496.82M558.26 506.75L564.22 501.44M540 489.17L545.66 485.97M567.22 485.97L574.41 485.97M564.22 501.44L560.83 496.82M545.66 485.97L552.85 485.97M530.01 512.92L528.66 506.75M536.67 501.44L535.06 496.82M628.51 501.44L637.21 506.75M622.35 492.76L623.6 489.17M591.78 501.44L600.96 501.44M628.51 501.44L629.52 496.82M600.96 501.44L607.61 506.75M564.22 501.44L573.41 501.44M600.96 501.44L603.76 496.82M594.21 480.51L596.54 478.17M536.67 501.44L545.86 501.44M607.61 506.75L617.48 506.75M573.41 501.44L578 496.82M552.85 485.97L555.2 489.17M608.4 489.17L610.34 485.97M552.85 485.97L557.55 483.1M562 512.92L572.67 512.92M585.6 489.17L588.78 485.97M531.29 485.97L537.1 483.1M578 478.17L584.18 478.17M588.78 485.97L584.82 483.1M530.01 512.92L540.67 512.92M617.48 506.75L619.33 501.44M540.67 512.92L548.39 506.75M567.22 485.97L564.37 483.1M574.76 480.51L578 478.17M619.33 501.44L628.51 501.44M588.78 485.97L595.97 485.97M541.72 492.76L540 489.17M540.67 512.92L543.2 520.17M562 512.92L558.26 506.75M595.97 485.97L600.8 489.17M543.2 520.17L554.8 520.17M574.41 485.97L578 489.17M541.72 492.76L549.78 492.76M555.31 480.51L559.46 478.17M574.41 485.97L578 483.1M549.78 492.76L552.24 496.82M610.34 485.97L605.26 483.1M600.8 489.17L608.4 489.17M525.59 492.76L526.48 496.82M572.67 512.92L578 506.75M554.8 520.17L562 512.92M578 489.17L585.6 489.17M537.1 483.1L543.92 483.1M525.59 492.76L532.4 489.17M520 520.17L530.01 512.92M604.66 512.92L612.8 520.17M610.34 485.97L617.53 485.97M619.33 501.44L612.35 496.82M565.91 492.76L562.8 489.17M552.24 496.82L560.83 496.82M568.28 480.51L565.64 478.17M572.67 512.92L578 520.17M526.48 496.82L535.06 496.82M590.09 492.76L598.16 492.76M543.92 483.1L548.83 480.51M565.91 492.76L573.97 492.76M535.06 496.82L541.72 492.76M612.8 520.17L624.4 520.17M617.53 485.97L623.6 489.17M574.76 480.51L578 483.1M594 512.92L587.87 506.75M578 520.17L589.6 520.17" stroke="#8c8c8c" stroke-width="1.3" fill="none"/>
<g fill="url(#ga)"><circle cx="568.28" cy="480.51" r="1.63"/><circle cx="574.76" cy="480.51" r="1.63"/><circle cx="587.72" cy="480.51" r="1.63"/><circle cx="557.55" cy="483.1" r="1.7"/><circle cx="564.37" cy="483.1" r="1.7"/><circle cx="578" cy="483.1" r="1.7"/><circle cx="584.82" cy="483.1" r="1.7"/><circle cx="598.45" cy="483.1" r="1.7"/><circle cx="605.26" cy="483.1" r="1.7"/><circle cx="545.66" cy="485.97" r="1.77"/><circle cx="552.85" cy="485.97" r="1.77"/><circle cx="567.22" cy="485.97" r="1.77"/><circle cx="574.41" cy="485.97" r="1.77"/><circle cx="588.78" cy="485.97" r="1.77"/><circle cx="595.97" cy="485.97" r="1.77"/><circle cx="610.34" cy="485.97" r="1.77"/><circle cx="532.4" cy="489.17" r="1.85"/><circle cx="540" cy="489.17" r="1.85"/><circle cx="555.2" cy="489.17" r="1.85"/><circle cx="562.8" cy="489.17" r="1.85"/><circle cx="578" cy="489.17" r="1.85"/><circle cx="585.6" cy="489.17" r="1.85"/><circle cx="600.8" cy="489.17" r="1.85"/><circle cx="608.4" cy="489.17" r="1.85"/><circle cx="623.6" cy="489.17" r="1.85"/><circle cx="525.59" cy="492.76" r="1.94"/><circle cx="541.72" cy="492.76" r="1.94"/><circle cx="549.78" cy="492.76" r="1.94"/><circle cx="565.91" cy="492.76" r="1.94"/><circle cx="573.97" cy="492.76" r="1.94"/><circle cx="590.09" cy="492.76" r="1.94"/><circle cx="598.16" cy="492.76" r="1.94"/><circle cx="614.28" cy="492.76" r="1.94"/><circle cx="622.35" cy="492.76" r="1.94"/><circle cx="526.48" cy="496.82" r="2.04"/><circle cx="535.06" cy="496.82" r="2.04"/><circle cx="552.24" cy="496.82" r="2.04"/><circle cx="560.83" cy="496.82" r="2.04"/><circle cx="578" cy="496.82" r="2.04"/><circle cx="586.59" cy="496.82" r="2.04"/><circle cx="603.76" cy="496.82" r="2.04"/><circle cx="612.35" cy="496.82" r="2.04"/><circle cx="629.52" cy="496.82" r="2.04"/><circle cx="536.67" cy="501.44" r="2.16"/><circle cx="545.86" cy="501.44" r="2.16"/><circle cx="564.22" cy="501.44" r="2.16"/><circle cx="573.41" cy="501.44" r="2.16"/><circle cx="591.78" cy="501.44" r="2.16"/><circle cx="600.96" cy="501.44" r="2.16"/><circle cx="619.33" cy="501.44" r="2.16"/><circle cx="628.51" cy="501.44" r="2.16"/><circle cx="518.79" cy="506.75" r="2.28"/><circle cx="528.66" cy="506.75" r="2.28"/><circle cx="548.39" cy="506.75" r="2.28"/><circle cx="558.26" cy="506.75" r="2.28"/><circle cx="578" cy="506.75" r="2.28"/><circle cx="587.87" cy="506.75" r="2.28"/><circle cx="607.61" cy="506.75" r="2.28"/><circle cx="617.48" cy="506.75" r="2.28"/><circle cx="637.21" cy="506.75" r="2.28"/><circle cx="530.01" cy="512.92" r="2.43"/><circle cx="540.67" cy="512.92" r="2.43"/><circle cx="562" cy="512.92" r="2.43"/><circle cx="572.67" cy="512.92" r="2.43"/><circle cx="594" cy="512.92" r="2.43"/><circle cx="604.66" cy="512.92" r="2.43"/><circle cx="625.99" cy="512.92" r="2.43"/><circle cx="636.66" cy="512.92" r="2.43"/><circle cx="520" cy="520.17" r="2.6"/><circle cx="543.2" cy="520.17" r="2.6"/><circle cx="554.8" cy="520.17" r="2.6"/><circle cx="578" cy="520.17" r="2.6"/><circle cx="589.6" cy="520.17" r="2.6"/><circle cx="612.8" cy="520.17" r="2.6"/><circle cx="624.4" cy="520.17" r="2.6"/></g>
<g fill="url(#gh)"><circle cx="559.46" cy="478.17" r="1.41"/><circle cx="565.64" cy="478.17" r="1.41"/><circle cx="578" cy="478.17" r="1.41"/><circle cx="584.18" cy="478.17" r="1.41"/><circle cx="596.54" cy="478.17" r="1.41"/><circle cx="548.83" cy="480.51" r="1.47"/><circle cx="555.31" cy="480.51" r="1.47"/><circle cx="594.21" cy="480.51" r="1.47"/><circle cx="607.17" cy="480.51" r="1.47"/><circle cx="537.1" cy="483.1" r="1.53"/><circle cx="543.92" cy="483.1" r="1.53"/><circle cx="618.9" cy="483.1" r="1.53"/><circle cx="531.29" cy="485.97" r="1.6"/><circle cx="617.53" cy="485.97" r="1.6"/><circle cx="631.2" cy="489.17" r="1.67"/></g>
<line x1="577.7" y1="496.5" x2="568.6" y2="491.8" stroke="#2a2ae0" stroke-width="1.2"/>
<line x1="577.7" y1="496.5" x2="568.6" y2="501.8" stroke="#2a2ae0" stroke-width="1.2"/>
<line x1="577.7" y1="496.5" x2="587" y2="501.8" stroke="#2a2ae0" stroke-width="1.2"/>
<g fill="url(#gn)"><circle cx="568.6" cy="491.8" r="2.0"/><circle cx="568.6" cy="501.8" r="2.0"/><circle cx="587" cy="501.8" r="2.0"/></g>
<g fill="url(#gco)"><circle cx="577.7" cy="496.5" r="3.4"/><circle cx="612" cy="502.8" r="3.2"/><circle cx="613" cy="507.2" r="3.0"/><circle cx="617.3" cy="506.4" r="3.2"/></g>
<circle cx="652.2" cy="488.4" r="3.6" fill="url(#gco)"/>
<circle cx="652.8" cy="504.5" r="2.4" fill="url(#gn)"/>
<circle cx="653.3" cy="519.3" r="2.1" fill="url(#ga)"/>
<text x="661" y="492.2" font-size="11.8" fill="#111">Co</text>
<text x="664.4" y="508.1" font-size="11.8" fill="#111">N</text>
<text x="664.6" y="522.9" font-size="11.8" fill="#111">C</text>
<text x="481.8" y="421.7" font-size="12.6" fill="#111">Co-N<tspan font-size="8.8" dy="3.3">4</tspan></text>
<text x="481.8" y="507.9" font-size="12.6" fill="#111">Co-N<tspan font-size="8.8" dy="3.3">3</tspan></text>
<text x="576.7" y="462" font-size="12.8" text-anchor="middle" fill="#111">CoNC-MSi</text>
<text x="577" y="539.8" font-size="12.8" text-anchor="middle" fill="#111">CoNC-Si</text>
<text x="154.3" y="299.4" font-size="9.8" text-anchor="middle" fill="#fff">Co-Co</text>
<text x="345.5" y="317.6" font-size="9.8" text-anchor="middle" fill="#fff">Co-N</text>
<text x="576.6" y="318.3" font-size="9.8" text-anchor="middle" fill="#fff">Co-N</text>
<text x="112.8" y="505.6" font-size="9.8" text-anchor="middle" fill="#fff">Co-N</text>
<text x="395.2" y="484.4" font-size="9.8" text-anchor="middle" fill="#fff">Co-Co</text>
<text x="355.3" y="505.6" font-size="9.8" text-anchor="middle" fill="#dfffd0">Co-N</text>
</svg></body></html>
